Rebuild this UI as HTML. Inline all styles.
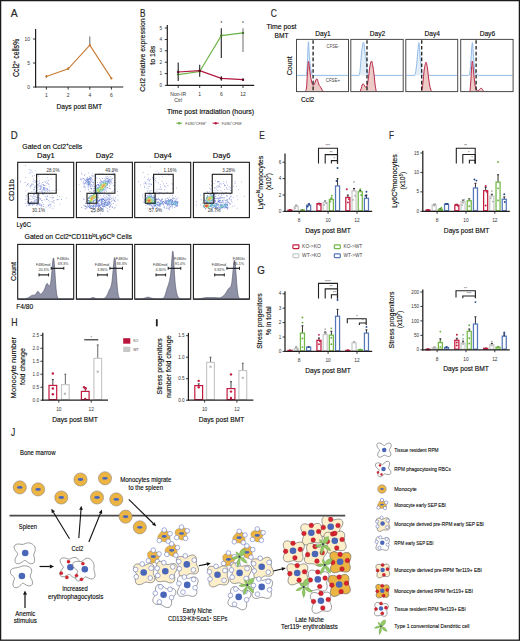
<!DOCTYPE html>
<html><head><meta charset="utf-8"><style>
html,body{margin:0;padding:0;background:#fff;}
svg{display:block;}
text{font-family:"Liberation Sans",sans-serif;}
</style></head><body>
<svg width="520" height="641" viewBox="0 0 520 641">
<rect x="0" y="0" width="520" height="641" fill="#fff"/>
<text x="10.80" y="16.90" font-size="11.0" textLength="6.90" lengthAdjust="spacingAndGlyphs" fill="#2a2a2a" stroke="#2a2a2a" stroke-width="0.206">A</text>
<line x1="35.60" y1="29.00" x2="35.60" y2="87.60" stroke="#231f20" stroke-width="1.2"/>
<line x1="35.00" y1="87.00" x2="123.20" y2="87.00" stroke="#231f20" stroke-width="1.2"/>
<line x1="33.00" y1="39.00" x2="35.60" y2="39.00" stroke="#231f20" stroke-width="0.9"/>
<text x="30.00" y="40.80" font-size="5.0" text-anchor="end" fill="#333">10</text>
<line x1="33.00" y1="63.00" x2="35.60" y2="63.00" stroke="#231f20" stroke-width="0.9"/>
<text x="30.00" y="64.80" font-size="5.0" text-anchor="end" fill="#333">5</text>
<line x1="33.00" y1="87.00" x2="35.60" y2="87.00" stroke="#231f20" stroke-width="0.9"/>
<text x="30.00" y="88.80" font-size="5.0" text-anchor="end" fill="#333">0</text>
<line x1="46.40" y1="87.00" x2="46.40" y2="89.60" stroke="#231f20" stroke-width="0.9"/>
<text x="46.40" y="97.30" font-size="5.0" text-anchor="middle" fill="#333">1</text>
<line x1="68.20" y1="87.00" x2="68.20" y2="89.60" stroke="#231f20" stroke-width="0.9"/>
<text x="68.20" y="97.30" font-size="5.0" text-anchor="middle" fill="#333">2</text>
<line x1="89.80" y1="87.00" x2="89.80" y2="89.60" stroke="#231f20" stroke-width="0.9"/>
<text x="89.80" y="97.30" font-size="5.0" text-anchor="middle" fill="#333">4</text>
<line x1="111.40" y1="87.00" x2="111.40" y2="89.60" stroke="#231f20" stroke-width="0.9"/>
<text x="111.40" y="97.30" font-size="5.0" text-anchor="middle" fill="#333">6</text>
<text x="79.30" y="108.70" font-size="8.0" text-anchor="middle" textLength="45.70" lengthAdjust="spacingAndGlyphs" stroke="#231f20" stroke-width="0.150">Days post BMT</text>
<text x="19.30" y="57.90" font-size="8.6" text-anchor="middle" textLength="38.40" lengthAdjust="spacingAndGlyphs" stroke="#231f20" stroke-width="0.161" transform="rotate(-90 19.30 57.90)">Ccl2<tspan font-size="5" dy="-2.8">+</tspan><tspan dy="2.8"> cells%</tspan></text>
<line x1="89.80" y1="36.50" x2="89.80" y2="45.20" stroke="#555" stroke-width="0.9"/>
<line x1="68.20" y1="67.20" x2="68.20" y2="70.00" stroke="#555" stroke-width="0.9"/>
<line x1="46.40" y1="75.00" x2="46.40" y2="77.80" stroke="#555" stroke-width="0.9"/>
<polyline points="46.4,76.4 68.2,68.8 89.8,45.2 111.4,78.4" fill="none" stroke="#c8782f" stroke-width="1.1"/>
<circle cx="46.40" cy="76.40" r="1.10" fill="#c8782f" stroke="none" stroke-width="1.0"/>
<circle cx="68.20" cy="68.80" r="1.10" fill="#c8782f" stroke="none" stroke-width="1.0"/>
<circle cx="89.80" cy="45.20" r="1.10" fill="#c8782f" stroke="none" stroke-width="1.0"/>
<circle cx="111.40" cy="78.40" r="1.10" fill="#c8782f" stroke="none" stroke-width="1.0"/>
<text x="140.10" y="16.90" font-size="11.0" textLength="5.50" lengthAdjust="spacingAndGlyphs" fill="#2a2a2a" stroke="#2a2a2a" stroke-width="0.206">B</text>
<line x1="167.30" y1="25.00" x2="167.30" y2="85.90" stroke="#231f20" stroke-width="1.2"/>
<line x1="166.70" y1="85.40" x2="254.20" y2="85.40" stroke="#231f20" stroke-width="1.2"/>
<line x1="164.80" y1="85.40" x2="167.30" y2="85.40" stroke="#231f20" stroke-width="0.9"/>
<text x="162.00" y="87.00" font-size="4.6" text-anchor="end" fill="#333">0</text>
<line x1="164.80" y1="73.60" x2="167.30" y2="73.60" stroke="#231f20" stroke-width="0.9"/>
<text x="162.00" y="75.20" font-size="4.6" text-anchor="end" fill="#333">1</text>
<line x1="164.80" y1="62.20" x2="167.30" y2="62.20" stroke="#231f20" stroke-width="0.9"/>
<text x="162.00" y="63.80" font-size="4.6" text-anchor="end" fill="#333">2</text>
<line x1="164.80" y1="50.80" x2="167.30" y2="50.80" stroke="#231f20" stroke-width="0.9"/>
<text x="162.00" y="52.40" font-size="4.6" text-anchor="end" fill="#333">3</text>
<line x1="164.80" y1="39.50" x2="167.30" y2="39.50" stroke="#231f20" stroke-width="0.9"/>
<text x="162.00" y="41.10" font-size="4.6" text-anchor="end" fill="#333">4</text>
<line x1="164.80" y1="28.00" x2="167.30" y2="28.00" stroke="#231f20" stroke-width="0.9"/>
<text x="162.00" y="29.60" font-size="4.6" text-anchor="end" fill="#333">5</text>
<line x1="178.20" y1="85.40" x2="178.20" y2="88.00" stroke="#231f20" stroke-width="0.9"/>
<line x1="199.70" y1="85.40" x2="199.70" y2="88.00" stroke="#231f20" stroke-width="0.9"/>
<line x1="221.30" y1="85.40" x2="221.30" y2="88.00" stroke="#231f20" stroke-width="0.9"/>
<line x1="243.00" y1="85.40" x2="243.00" y2="88.00" stroke="#231f20" stroke-width="0.9"/>
<text x="178.20" y="95.60" font-size="5.0" text-anchor="middle" fill="#333">Non-IR</text>
<text x="178.20" y="102.00" font-size="5.0" text-anchor="middle" fill="#333">Ctrl</text>
<text x="199.70" y="95.60" font-size="5.0" text-anchor="middle" fill="#333">1</text>
<text x="221.30" y="95.60" font-size="5.0" text-anchor="middle" fill="#333">6</text>
<text x="243.00" y="95.60" font-size="5.0" text-anchor="middle" fill="#333">12</text>
<text x="210.60" y="113.60" font-size="8.0" text-anchor="middle" textLength="87.20" lengthAdjust="spacingAndGlyphs" stroke="#231f20" stroke-width="0.150">Time post irradiation (hours)</text>
<text x="144.60" y="55.10" font-size="8.0" text-anchor="middle" textLength="73.40" lengthAdjust="spacingAndGlyphs" stroke="#231f20" stroke-width="0.150" transform="rotate(-90 144.60 55.10)">Ccl2 relative expression</text>
<text x="155.20" y="55.20" font-size="8.0" text-anchor="middle" textLength="18.90" lengthAdjust="spacingAndGlyphs" stroke="#231f20" stroke-width="0.150" transform="rotate(-90 155.20 55.20)">to 18s</text>
<line x1="178.20" y1="62.50" x2="178.20" y2="81.10" stroke="#222" stroke-width="1.1"/>
<line x1="199.70" y1="64.70" x2="199.70" y2="76.70" stroke="#222" stroke-width="1.1"/>
<line x1="221.30" y1="28.20" x2="221.30" y2="57.90" stroke="#222" stroke-width="1.1"/>
<line x1="243.00" y1="28.20" x2="243.00" y2="52.10" stroke="#7a7a7a" stroke-width="1.1"/>
<line x1="221.30" y1="76.20" x2="221.30" y2="80.80" stroke="#222" stroke-width="1.1"/>
<line x1="243.00" y1="78.60" x2="243.00" y2="80.90" stroke="#222" stroke-width="1.1"/>
<polyline points="178.2,74.6 199.7,71.6 221.3,35.6 243.0,32.9" fill="none" stroke="#6ab344" stroke-width="1.1"/>
<polyline points="178.2,72.0 199.7,70.7 221.3,78.4 243.0,79.7" fill="none" stroke="#b3173f" stroke-width="1.2"/>
<circle cx="178.20" cy="74.60" r="1.10" fill="#3a6a22" stroke="none" stroke-width="1.0"/>
<circle cx="199.70" cy="71.60" r="1.10" fill="#3a6a22" stroke="none" stroke-width="1.0"/>
<circle cx="221.30" cy="35.60" r="1.10" fill="#3a6a22" stroke="none" stroke-width="1.0"/>
<circle cx="243.00" cy="32.90" r="1.10" fill="#3a6a22" stroke="none" stroke-width="1.0"/>
<circle cx="178.20" cy="72.00" r="1.20" fill="#5a0a1f" stroke="none" stroke-width="1.0"/>
<circle cx="199.70" cy="70.70" r="1.20" fill="#5a0a1f" stroke="none" stroke-width="1.0"/>
<circle cx="221.30" cy="78.40" r="1.20" fill="#5a0a1f" stroke="none" stroke-width="1.0"/>
<circle cx="243.00" cy="79.70" r="1.20" fill="#5a0a1f" stroke="none" stroke-width="1.0"/>
<text x="221.30" y="25.20" font-size="4.5" text-anchor="middle">*</text>
<text x="243.00" y="25.20" font-size="4.5" text-anchor="middle">*</text>
<line x1="176.30" y1="123.20" x2="182.10" y2="123.20" stroke="#6ab344" stroke-width="1.0"/>
<circle cx="179.20" cy="123.20" r="1.20" fill="#6ab344" stroke="none" stroke-width="1.0"/>
<text x="185.30" y="124.70" font-size="4.0" textLength="21.40" lengthAdjust="spacingAndGlyphs" fill="#444">F4/80<tspan font-size="2.6" dy="-1.6">+</tspan><tspan dy="1.6">CFSE</tspan><tspan font-size="2.6" dy="-1.6">+</tspan></text>
<line x1="212.60" y1="123.20" x2="218.80" y2="123.20" stroke="#b3173f" stroke-width="1.0"/>
<circle cx="215.70" cy="123.20" r="1.20" fill="#b3173f" stroke="none" stroke-width="1.0"/>
<text x="221.80" y="124.70" font-size="4.0" textLength="20.50" lengthAdjust="spacingAndGlyphs" fill="#444">F4/80<tspan font-size="2.6" dy="-1.6">+</tspan><tspan dy="1.6">CFSE</tspan><tspan font-size="2.6" dy="-1.6">-</tspan></text>
<text x="270.80" y="16.90" font-size="11.0" textLength="6.10" lengthAdjust="spacingAndGlyphs" fill="#2a2a2a" stroke="#2a2a2a" stroke-width="0.206">C</text>
<text x="281.50" y="29.20" font-size="7.4" text-anchor="middle" textLength="30.00" lengthAdjust="spacingAndGlyphs" stroke="#231f20" stroke-width="0.139">Time post</text>
<text x="281.50" y="37.70" font-size="7.4" text-anchor="middle" textLength="14.00" lengthAdjust="spacingAndGlyphs" stroke="#231f20" stroke-width="0.139">BMT</text>
<text x="323.00" y="35.60" font-size="7.3" text-anchor="middle" textLength="15.40" lengthAdjust="spacingAndGlyphs" stroke="#231f20" stroke-width="0.137">Day1</text>
<path d="M305.60,75.40 C305.77,75.20 306.28,76.77 306.60,74.20 C306.92,71.63 307.20,65.40 307.50,60.00 C307.80,54.60 308.10,42.63 308.40,41.80 C308.70,40.97 309.00,51.13 309.30,55.00 C309.60,58.87 309.88,62.33 310.20,65.00 C310.52,67.67 310.87,69.40 311.20,71.00 C311.53,72.60 311.87,73.87 312.20,74.60 C312.53,75.33 313.03,75.27 313.20,75.40 Z" fill="#e3edf8" stroke="none" stroke-width="1.0"/>
<path d="M297.10,75.4 L305.60,75.40 C305.77,75.20 306.28,76.77 306.60,74.20 C306.92,71.63 307.20,65.40 307.50,60.00 C307.80,54.60 308.10,42.63 308.40,41.80 C308.70,40.97 309.00,51.13 309.30,55.00 C309.60,58.87 309.88,62.33 310.20,65.00 C310.52,67.67 310.87,69.40 311.20,71.00 C311.53,72.60 311.87,73.87 312.20,74.60 C312.53,75.33 313.03,75.27 313.20,75.40 L347.90,75.4" fill="none" stroke="#88b6e4" stroke-width="0.9"/>
<path d="M305.40,91.20 C305.58,90.67 306.18,90.70 306.50,88.00 C306.82,85.30 306.98,79.42 307.30,75.00 C307.62,70.58 308.03,62.67 308.40,61.50 C308.77,60.33 309.15,65.58 309.50,68.00 C309.85,70.42 310.17,73.83 310.50,76.00 C310.83,78.17 311.17,79.58 311.50,81.00 C311.83,82.42 312.20,83.78 312.50,84.50 C312.80,85.22 312.97,85.38 313.30,85.30 C313.63,85.22 314.13,84.72 314.50,84.00 C314.87,83.28 315.17,81.83 315.50,81.00 C315.83,80.17 316.20,79.30 316.50,79.00 C316.80,78.70 317.00,78.62 317.30,79.20 C317.60,79.78 317.97,81.45 318.30,82.50 C318.63,83.55 318.93,84.78 319.30,85.50 C319.67,86.22 320.13,86.22 320.50,86.80 C320.87,87.38 321.17,88.37 321.50,89.00 C321.83,89.63 322.15,90.23 322.50,90.60 C322.85,90.97 323.42,91.10 323.60,91.20 Z" fill="#eccac6" stroke="none" stroke-width="1.0"/>
<path d="M305.40,91.20 C305.58,90.67 306.18,90.70 306.50,88.00 C306.82,85.30 306.98,79.42 307.30,75.00 C307.62,70.58 308.03,62.67 308.40,61.50 C308.77,60.33 309.15,65.58 309.50,68.00 C309.85,70.42 310.17,73.83 310.50,76.00 C310.83,78.17 311.17,79.58 311.50,81.00 C311.83,82.42 312.20,83.78 312.50,84.50 C312.80,85.22 312.97,85.38 313.30,85.30 C313.63,85.22 314.13,84.72 314.50,84.00 C314.87,83.28 315.17,81.83 315.50,81.00 C315.83,80.17 316.20,79.30 316.50,79.00 C316.80,78.70 317.00,78.62 317.30,79.20 C317.60,79.78 317.97,81.45 318.30,82.50 C318.63,83.55 318.93,84.78 319.30,85.50 C319.67,86.22 320.13,86.22 320.50,86.80 C320.87,87.38 321.17,88.37 321.50,89.00 C321.83,89.63 322.15,90.23 322.50,90.60 C322.85,90.97 323.42,91.10 323.60,91.20" fill="none" stroke="#b8284a" stroke-width="1.0"/>
<line x1="313.10" y1="40.20" x2="313.10" y2="91.10" stroke="#1e1e1e" stroke-width="1.3" stroke-dasharray="3.6 2.2"/>
<rect x="296.50" y="39.40" width="52.00" height="52.20" fill="none" stroke="#4a4a4a" stroke-width="1.0"/>
<text x="377.50" y="35.60" font-size="7.3" text-anchor="middle" textLength="15.40" lengthAdjust="spacingAndGlyphs" stroke="#231f20" stroke-width="0.137">Day2</text>
<path d="M358.90,75.40 C359.03,75.00 359.42,74.73 359.70,73.00 C359.98,71.27 360.28,68.50 360.60,65.00 C360.92,61.50 361.15,55.78 361.60,52.00 C362.05,48.22 362.85,43.30 363.30,42.30 C363.75,41.30 364.02,44.22 364.30,46.00 C364.58,47.78 364.75,51.25 365.00,53.00 C365.25,54.75 365.53,54.50 365.80,56.50 C366.07,58.50 366.35,62.25 366.60,65.00 C366.85,67.75 367.05,71.27 367.30,73.00 C367.55,74.73 367.97,75.00 368.10,75.40 Z" fill="#e3edf8" stroke="none" stroke-width="1.0"/>
<path d="M351.40,75.4 L358.90,75.40 C359.03,75.00 359.42,74.73 359.70,73.00 C359.98,71.27 360.28,68.50 360.60,65.00 C360.92,61.50 361.15,55.78 361.60,52.00 C362.05,48.22 362.85,43.30 363.30,42.30 C363.75,41.30 364.02,44.22 364.30,46.00 C364.58,47.78 364.75,51.25 365.00,53.00 C365.25,54.75 365.53,54.50 365.80,56.50 C366.07,58.50 366.35,62.25 366.60,65.00 C366.85,67.75 367.05,71.27 367.30,73.00 C367.55,74.73 367.97,75.00 368.10,75.40 L402.60,75.4" fill="none" stroke="#88b6e4" stroke-width="0.9"/>
<path d="M360.20,91.20 C360.37,90.75 360.87,89.53 361.20,88.50 C361.53,87.47 361.88,85.78 362.20,85.00 C362.52,84.22 362.75,83.77 363.10,83.80 C363.45,83.83 363.92,84.67 364.30,85.20 C364.68,85.73 365.07,86.67 365.40,87.00 C365.73,87.33 365.95,87.70 366.30,87.20 C366.65,86.70 367.10,85.87 367.50,84.00 C367.90,82.13 368.32,78.83 368.70,76.00 C369.08,73.17 369.33,69.50 369.80,67.00 C370.27,64.50 371.00,61.17 371.50,61.00 C372.00,60.83 372.38,63.83 372.80,66.00 C373.22,68.17 373.63,71.00 374.00,74.00 C374.37,77.00 374.63,81.13 375.00,84.00 C375.37,86.87 376.00,90.00 376.20,91.20 Z" fill="#eccac6" stroke="none" stroke-width="1.0"/>
<path d="M360.20,91.20 C360.37,90.75 360.87,89.53 361.20,88.50 C361.53,87.47 361.88,85.78 362.20,85.00 C362.52,84.22 362.75,83.77 363.10,83.80 C363.45,83.83 363.92,84.67 364.30,85.20 C364.68,85.73 365.07,86.67 365.40,87.00 C365.73,87.33 365.95,87.70 366.30,87.20 C366.65,86.70 367.10,85.87 367.50,84.00 C367.90,82.13 368.32,78.83 368.70,76.00 C369.08,73.17 369.33,69.50 369.80,67.00 C370.27,64.50 371.00,61.17 371.50,61.00 C372.00,60.83 372.38,63.83 372.80,66.00 C373.22,68.17 373.63,71.00 374.00,74.00 C374.37,77.00 374.63,81.13 375.00,84.00 C375.37,86.87 376.00,90.00 376.20,91.20" fill="none" stroke="#b8284a" stroke-width="1.0"/>
<line x1="367.00" y1="40.20" x2="367.00" y2="91.10" stroke="#1e1e1e" stroke-width="1.3" stroke-dasharray="3.6 2.2"/>
<rect x="350.80" y="39.40" width="52.40" height="52.20" fill="none" stroke="#4a4a4a" stroke-width="1.0"/>
<text x="432.25" y="35.60" font-size="7.3" text-anchor="middle" textLength="15.40" lengthAdjust="spacingAndGlyphs" stroke="#231f20" stroke-width="0.137">Day4</text>
<path d="M414.60,75.40 C414.75,75.00 415.18,74.57 415.50,73.00 C415.82,71.43 416.17,69.00 416.50,66.00 C416.83,63.00 417.12,58.88 417.50,55.00 C417.88,51.12 418.43,43.53 418.80,42.70 C419.17,41.87 419.43,47.12 419.70,50.00 C419.97,52.88 420.18,57.33 420.40,60.00 C420.62,62.67 420.80,63.83 421.00,66.00 C421.20,68.17 421.38,71.43 421.60,73.00 C421.82,74.57 422.18,75.00 422.30,75.40 Z" fill="#e3edf8" stroke="none" stroke-width="1.0"/>
<path d="M406.40,75.4 L414.60,75.40 C414.75,75.00 415.18,74.57 415.50,73.00 C415.82,71.43 416.17,69.00 416.50,66.00 C416.83,63.00 417.12,58.88 417.50,55.00 C417.88,51.12 418.43,43.53 418.80,42.70 C419.17,41.87 419.43,47.12 419.70,50.00 C419.97,52.88 420.18,57.33 420.40,60.00 C420.62,62.67 420.80,63.83 421.00,66.00 C421.20,68.17 421.38,71.43 421.60,73.00 C421.82,74.57 422.18,75.00 422.30,75.40 L457.10,75.4" fill="none" stroke="#88b6e4" stroke-width="0.9"/>
<path d="M421.40,91.20 C421.57,90.50 422.08,89.03 422.40,87.00 C422.72,84.97 422.98,82.00 423.30,79.00 C423.62,76.00 423.85,71.80 424.30,69.00 C424.75,66.20 425.48,62.37 426.00,62.20 C426.52,62.03 426.97,65.37 427.40,68.00 C427.83,70.63 428.20,75.00 428.60,78.00 C429.00,81.00 429.35,83.80 429.80,86.00 C430.25,88.20 431.05,90.33 431.30,91.20 Z" fill="#eccac6" stroke="none" stroke-width="1.0"/>
<path d="M421.40,91.20 C421.57,90.50 422.08,89.03 422.40,87.00 C422.72,84.97 422.98,82.00 423.30,79.00 C423.62,76.00 423.85,71.80 424.30,69.00 C424.75,66.20 425.48,62.37 426.00,62.20 C426.52,62.03 426.97,65.37 427.40,68.00 C427.83,70.63 428.20,75.00 428.60,78.00 C429.00,81.00 429.35,83.80 429.80,86.00 C430.25,88.20 431.05,90.33 431.30,91.20" fill="none" stroke="#b8284a" stroke-width="1.0"/>
<line x1="421.70" y1="40.20" x2="421.70" y2="91.10" stroke="#1e1e1e" stroke-width="1.3" stroke-dasharray="3.6 2.2"/>
<rect x="405.80" y="39.40" width="51.90" height="52.20" fill="none" stroke="#4a4a4a" stroke-width="1.0"/>
<text x="487.40" y="35.60" font-size="7.3" text-anchor="middle" textLength="15.40" lengthAdjust="spacingAndGlyphs" stroke="#231f20" stroke-width="0.137">Day6</text>
<path d="M468.90,75.40 C469.05,75.00 469.48,75.23 469.80,73.00 C470.12,70.77 470.38,67.05 470.80,62.00 C471.22,56.95 471.87,43.87 472.30,42.70 C472.73,41.53 473.07,51.12 473.40,55.00 C473.73,58.88 474.00,63.17 474.30,66.00 C474.60,68.83 474.88,70.57 475.20,72.00 C475.52,73.43 475.80,74.23 476.20,74.60 C476.60,74.97 477.20,74.07 477.60,74.20 C478.00,74.33 478.43,75.20 478.60,75.40 Z" fill="#e3edf8" stroke="none" stroke-width="1.0"/>
<path d="M461.30,75.4 L468.90,75.40 C469.05,75.00 469.48,75.23 469.80,73.00 C470.12,70.77 470.38,67.05 470.80,62.00 C471.22,56.95 471.87,43.87 472.30,42.70 C472.73,41.53 473.07,51.12 473.40,55.00 C473.73,58.88 474.00,63.17 474.30,66.00 C474.60,68.83 474.88,70.57 475.20,72.00 C475.52,73.43 475.80,74.23 476.20,74.60 C476.60,74.97 477.20,74.07 477.60,74.20 C478.00,74.33 478.43,75.20 478.60,75.40 L512.50,75.4" fill="none" stroke="#88b6e4" stroke-width="0.9"/>
<path d="M470.00,91.20 C470.15,89.33 470.63,83.87 470.90,80.00 C471.17,76.13 471.37,71.17 471.60,68.00 C471.83,64.83 472.03,61.00 472.30,61.00 C472.57,61.00 472.85,64.83 473.20,68.00 C473.55,71.17 474.02,76.75 474.40,80.00 C474.78,83.25 475.10,85.77 475.50,87.50 C475.90,89.23 476.33,89.88 476.80,90.40 C477.27,90.92 477.80,90.80 478.30,90.60 C478.80,90.40 479.32,89.62 479.80,89.20 C480.28,88.78 480.77,88.07 481.20,88.10 C481.63,88.13 482.00,88.88 482.40,89.40 C482.80,89.92 483.40,90.90 483.60,91.20 Z" fill="#eccac6" stroke="none" stroke-width="1.0"/>
<path d="M470.00,91.20 C470.15,89.33 470.63,83.87 470.90,80.00 C471.17,76.13 471.37,71.17 471.60,68.00 C471.83,64.83 472.03,61.00 472.30,61.00 C472.57,61.00 472.85,64.83 473.20,68.00 C473.55,71.17 474.02,76.75 474.40,80.00 C474.78,83.25 475.10,85.77 475.50,87.50 C475.90,89.23 476.33,89.88 476.80,90.40 C477.27,90.92 477.80,90.80 478.30,90.60 C478.80,90.40 479.32,89.62 479.80,89.20 C480.28,88.78 480.77,88.07 481.20,88.10 C481.63,88.13 482.00,88.88 482.40,89.40 C482.80,89.92 483.40,90.90 483.60,91.20" fill="none" stroke="#b8284a" stroke-width="1.0"/>
<line x1="476.10" y1="40.20" x2="476.10" y2="91.10" stroke="#1e1e1e" stroke-width="1.3" stroke-dasharray="3.6 2.2"/>
<rect x="460.70" y="39.40" width="52.40" height="52.20" fill="none" stroke="#4a4a4a" stroke-width="1.0"/>
<text x="332.90" y="48.10" font-size="4.5" text-anchor="middle" textLength="12.60" lengthAdjust="spacingAndGlyphs" fill="#444">CFSE-</text>
<text x="332.90" y="81.90" font-size="4.5" text-anchor="middle" textLength="14.20" lengthAdjust="spacingAndGlyphs" fill="#444">CFSE+</text>
<text x="292.40" y="65.80" font-size="7.3" text-anchor="middle" textLength="19.00" lengthAdjust="spacingAndGlyphs" stroke="#231f20" stroke-width="0.137" transform="rotate(-90 292.40 65.80)">Count</text>
<text x="301.10" y="102.20" font-size="7.3" textLength="13.20" lengthAdjust="spacingAndGlyphs" stroke="#231f20" stroke-width="0.137">Ccl2</text>
<text x="10.80" y="138.80" font-size="11.0" textLength="6.90" lengthAdjust="spacingAndGlyphs" fill="#2a2a2a" stroke="#2a2a2a" stroke-width="0.206">D</text>
<text x="22.30" y="148.90" font-size="7.4" textLength="60.00" lengthAdjust="spacingAndGlyphs" stroke="#231f20" stroke-width="0.139">Gated on Ccl2<tspan font-size="4.5" dy="-2.6">+</tspan><tspan dy="2.6">cells</tspan></text>
<text x="45.90" y="158.00" font-size="7.6" text-anchor="middle" textLength="17.60" lengthAdjust="spacingAndGlyphs" stroke="#231f20" stroke-width="0.142">Day1</text>
<g opacity="0.8"><path fill="#7482d6" d="M47.9 180.1h.8v.8h-.8zM32.0 175.6h.8v.8h-.8zM48.8 186.4h.8v.8h-.8zM51.6 189.9h.8v.8h-.8zM50.7 178.4h.8v.8h-.8zM53.7 190.3h.8v.8h-.8zM45.8 193.5h.8v.8h-.8zM47.0 177.4h.8v.8h-.8zM25.4 199.1h.8v.8h-.8zM31.5 191.2h.8v.8h-.8zM53.7 205.7h.8v.8h-.8zM45.7 206.7h.8v.8h-.8zM24.7 202.9h.8v.8h-.8zM34.4 175.2h.8v.8h-.8zM25.2 165.2h.8v.8h-.8zM25.5 190.5h.8v.8h-.8zM24.7 182.1h.8v.8h-.8zM25.4 177.2h.8v.8h-.8zM35.5 170.4h.8v.8h-.8zM59.7 203.7h.8v.8h-.8zM51.6 192.7h.8v.8h-.8zM48.9 193.5h.8v.8h-.8zM43.8 199.4h.8v.8h-.8zM66.3 197.7h.8v.8h-.8zM56.6 189.5h.8v.8h-.8zM52.5 208.3h.8v.8h-.8zM51.8 194.7h.8v.8h-.8zM57.2 194.9h.8v.8h-.8zM49.7 207.5h.8v.8h-.8zM61.0 199.1h.8v.8h-.8zM49.8 197.3h.8v.8h-.8zM59.0 196.2h.8v.8h-.8zM33.0 178.8h.8v.8h-.8zM42.1 182.0h.8v.8h-.8zM45.7 180.6h.8v.8h-.8zM48.5 184.1h.8v.8h-.8zM30.1 192.9h.8v.8h-.8zM25.7 196.6h.8v.8h-.8zM31.6 198.8h.8v.8h-.8zM30.5 195.3h.8v.8h-.8zM29.6 199.3h.8v.8h-.8zM49.3 201.4h.8v.8h-.8zM40.5 207.6h.8v.8h-.8zM26.0 205.5h.8v.8h-.8zM20.3 181.4h.8v.8h-.8zM29.4 172.8h.8v.8h-.8zM37.8 174.5h.8v.8h-.8zM29.9 187.4h.8v.8h-.8zM39.1 179.7h.8v.8h-.8zM32.9 181.3h.8v.8h-.8zM31.7 172.2h.8v.8h-.8zM29.1 168.9h.8v.8h-.8zM38.3 175.7h.8v.8h-.8zM30.6 170.1h.8v.8h-.8zM20.3 180.7h.8v.8h-.8zM44.7 196.0h.8v.8h-.8zM44.3 192.1h.8v.8h-.8zM38.9 191.4h.8v.8h-.8zM43.6 181.5h.8v.8h-.8zM49.5 190.7h.8v.8h-.8zM27.9 182.9h.8v.8h-.8zM46.5 183.2h.8v.8h-.8zM46.9 182.2h.8v.8h-.8zM44.9 181.7h.8v.8h-.8zM43.3 194.0h.8v.8h-.8zM28.4 192.7h.8v.8h-.8zM27.2 200.9h.8v.8h-.8zM25.9 194.9h.8v.8h-.8zM43.1 206.0h.8v.8h-.8zM50.4 205.6h.8v.8h-.8zM34.3 179.9h.8v.8h-.8zM26.1 185.4h.8v.8h-.8zM37.6 181.0h.8v.8h-.8zM30.3 172.5h.8v.8h-.8zM47.2 196.0h.8v.8h-.8zM51.4 201.4h.8v.8h-.8zM47.4 195.6h.8v.8h-.8zM53.6 200.2h.8v.8h-.8zM51.9 197.3h.8v.8h-.8zM56.5 199.5h.8v.8h-.8zM53.8 202.8h.8v.8h-.8zM51.8 198.4h.8v.8h-.8zM57.0 199.1h.8v.8h-.8zM53.1 197.1h.8v.8h-.8zM42.1 201.9h.8v.8h-.8zM58.4 199.0h.8v.8h-.8zM39.3 182.9h.8v.8h-.8zM44.8 191.2h.8v.8h-.8zM48.7 189.6h.8v.8h-.8zM39.2 181.7h.8v.8h-.8zM31.6 182.9h.8v.8h-.8zM34.9 192.3h.8v.8h-.8zM37.1 190.0h.8v.8h-.8zM47.8 183.0h.8v.8h-.8zM47.1 191.3h.8v.8h-.8zM35.9 194.6h.8v.8h-.8zM38.9 194.7h.8v.8h-.8zM26.8 202.9h.8v.8h-.8zM38.9 194.4h.8v.8h-.8zM34.1 198.4h.8v.8h-.8zM26.8 201.7h.8v.8h-.8zM29.4 198.0h.8v.8h-.8zM33.0 197.9h.8v.8h-.8zM33.0 193.6h.8v.8h-.8zM27.9 195.9h.8v.8h-.8zM28.2 195.8h.8v.8h-.8zM28.3 197.6h.8v.8h-.8zM34.7 196.4h.8v.8h-.8zM43.1 204.2h.8v.8h-.8zM47.8 204.6h.8v.8h-.8zM47.9 205.5h.8v.8h-.8zM27.1 184.1h.8v.8h-.8zM34.7 182.1h.8v.8h-.8zM30.4 196.3h.8v.8h-.8zM32.2 196.6h.8v.8h-.8zM29.6 186.2h.8v.8h-.8zM36.4 181.1h.8v.8h-.8zM27.6 184.4h.8v.8h-.8zM35.1 180.7h.8v.8h-.8zM48.0 200.0h.8v.8h-.8zM39.2 194.7h.8v.8h-.8zM53.3 200.4h.8v.8h-.8zM41.7 200.0h.8v.8h-.8zM50.3 204.1h.8v.8h-.8zM41.2 200.0h.8v.8h-.8zM33.2 189.0h.8v.8h-.8zM38.2 193.2h.8v.8h-.8zM41.0 183.7h.8v.8h-.8zM44.6 185.1h.8v.8h-.8zM48.7 190.4h.8v.8h-.8zM43.3 184.4h.8v.8h-.8zM35.9 189.9h.8v.8h-.8zM33.7 190.8h.8v.8h-.8zM34.6 185.4h.8v.8h-.8zM37.6 188.8h.8v.8h-.8zM33.0 184.3h.8v.8h-.8zM33.7 194.0h.8v.8h-.8zM34.8 195.9h.8v.8h-.8zM31.3 201.1h.8v.8h-.8zM27.1 194.2h.8v.8h-.8zM40.0 198.2h.8v.8h-.8zM49.0 203.8h.8v.8h-.8zM39.5 205.2h.8v.8h-.8zM41.5 200.1h.8v.8h-.8zM30.8 185.4h.8v.8h-.8zM30.2 185.1h.8v.8h-.8zM42.7 184.1h.8v.8h-.8zM36.4 186.6h.8v.8h-.8zM33.1 194.7h.8v.8h-.8zM47.0 196.3h.8v.8h-.8zM41.9 193.6h.8v.8h-.8zM45.9 199.1h.8v.8h-.8zM52.4 201.8h.8v.8h-.8zM40.2 188.8h.8v.8h-.8zM37.1 184.5h.8v.8h-.8zM44.1 184.9h.8v.8h-.8zM37.5 187.3h.8v.8h-.8zM31.4 184.1h.8v.8h-.8zM36.7 184.1h.8v.8h-.8zM34.2 186.8h.8v.8h-.8zM47.0 188.5h.8v.8h-.8zM46.7 187.9h.8v.8h-.8zM39.3 189.2h.8v.8h-.8zM42.9 185.2h.8v.8h-.8zM38.1 200.6h.8v.8h-.8zM33.4 195.9h.8v.8h-.8zM34.3 193.9h.8v.8h-.8zM35.3 190.7h.8v.8h-.8zM32.1 205.0h.8v.8h-.8zM41.4 204.7h.8v.8h-.8zM39.6 202.9h.8v.8h-.8zM48.6 205.2h.8v.8h-.8zM41.5 204.3h.8v.8h-.8zM35.8 205.2h.8v.8h-.8zM31.6 184.6h.8v.8h-.8zM33.9 187.8h.8v.8h-.8zM36.8 184.2h.8v.8h-.8zM42.7 193.4h.8v.8h-.8zM52.8 201.8h.8v.8h-.8zM47.0 199.0h.8v.8h-.8zM46.1 197.8h.8v.8h-.8zM39.8 199.1h.8v.8h-.8zM46.5 198.7h.8v.8h-.8zM46.7 188.8h.8v.8h-.8zM38.4 183.6h.8v.8h-.8zM34.2 189.1h.8v.8h-.8zM40.6 190.8h.8v.8h-.8zM42.1 191.6h.8v.8h-.8zM35.9 187.1h.8v.8h-.8zM38.7 186.2h.8v.8h-.8zM41.2 190.7h.8v.8h-.8zM39.8 189.2h.8v.8h-.8zM33.7 200.9h.8v.8h-.8zM36.9 196.0h.8v.8h-.8zM36.0 199.1h.8v.8h-.8zM38.4 200.3h.8v.8h-.8zM41.1 205.4h.8v.8h-.8zM39.4 204.3h.8v.8h-.8zM35.3 202.5h.8v.8h-.8zM45.7 197.7h.8v.8h-.8zM38.8 198.5h.8v.8h-.8zM41.5 206.0h.8v.8h-.8zM28.8 205.3h.8v.8h-.8zM27.8 204.9h.8v.8h-.8zM41.7 192.2h.8v.8h-.8zM46.3 189.8h.8v.8h-.8zM38.2 184.8h.8v.8h-.8zM40.8 185.7h.8v.8h-.8zM41.4 190.6h.8v.8h-.8zM39.8 188.2h.8v.8h-.8zM42.4 191.8h.8v.8h-.8zM34.2 200.5h.8v.8h-.8zM38.7 197.1h.8v.8h-.8zM31.8 201.8h.8v.8h-.8zM37.2 200.8h.8v.8h-.8zM33.7 200.8h.8v.8h-.8zM32.5 204.4h.8v.8h-.8zM33.9 204.0h.8v.8h-.8zM34.2 187.3h.8v.8h-.8zM40.6 185.2h.8v.8h-.8zM35.3 186.4h.8v.8h-.8zM46.3 188.1h.8v.8h-.8zM40.4 185.6h.8v.8h-.8zM36.8 185.4h.8v.8h-.8zM44.0 187.2h.8v.8h-.8zM40.6 187.9h.8v.8h-.8zM45.3 189.8h.8v.8h-.8zM39.4 185.2h.8v.8h-.8zM40.8 187.6h.8v.8h-.8zM33.4 203.4h.8v.8h-.8zM36.9 197.1h.8v.8h-.8zM35.1 199.4h.8v.8h-.8zM38.8 197.4h.8v.8h-.8zM31.1 201.6h.8v.8h-.8zM33.5 201.6h.8v.8h-.8zM36.2 197.0h.8v.8h-.8zM35.9 203.3h.8v.8h-.8zM37.3 204.8h.8v.8h-.8zM37.3 204.8h.8v.8h-.8zM33.3 203.8h.8v.8h-.8zM40.5 204.6h.8v.8h-.8zM38.0 202.8h.8v.8h-.8zM37.2 197.0h.8v.8h-.8zM35.7 199.8h.8v.8h-.8zM28.0 202.2h.8v.8h-.8zM47.1 189.6h.8v.8h-.8zM44.3 186.9h.8v.8h-.8zM43.1 189.8h.8v.8h-.8zM44.4 187.5h.8v.8h-.8zM36.5 198.5h.8v.8h-.8zM37.4 197.0h.8v.8h-.8zM37.2 197.4h.8v.8h-.8zM34.0 202.6h.8v.8h-.8zM36.4 200.6h.8v.8h-.8zM32.3 203.9h.8v.8h-.8zM37.7 204.3h.8v.8h-.8zM41.6 186.8h.8v.8h-.8zM37.8 198.9h.8v.8h-.8zM43.0 187.1h.8v.8h-.8zM39.8 186.3h.8v.8h-.8zM42.7 188.9h.8v.8h-.8zM42.3 189.4h.8v.8h-.8zM40.4 186.6h.8v.8h-.8zM34.5 200.2h.8v.8h-.8zM37.5 203.7h.8v.8h-.8zM32.6 202.7h.8v.8h-.8zM30.5 202.0h.8v.8h-.8zM37.0 204.2h.8v.8h-.8zM36.9 202.1h.8v.8h-.8zM28.7 204.1h.8v.8h-.8z"/><path fill="#4a62cc" d="M44.0 189.4h.8v.8h-.8zM44.1 189.6h.8v.8h-.8zM36.4 203.6h.8v.8h-.8zM37.7 203.2h.8v.8h-.8zM38.9 203.6h.8v.8h-.8zM35.6 201.5h.8v.8h-.8zM29.1 202.6h.8v.8h-.8zM43.0 188.8h.8v.8h-.8zM44.7 188.5h.8v.8h-.8zM29.3 203.0h.8v.8h-.8zM29.2 204.1h.8v.8h-.8zM29.2 203.2h.8v.8h-.8zM43.5 188.0h.8v.8h-.8zM43.5 188.3h.8v.8h-.8zM30.6 203.5h.8v.8h-.8zM31.6 203.5h.8v.8h-.8zM29.2 203.7h.8v.8h-.8zM30.4 204.4h.8v.8h-.8zM30.1 203.1h.8v.8h-.8zM43.2 187.8h.8v.8h-.8zM28.7 203.5h.8v.8h-.8zM30.3 202.5h.8v.8h-.8z"/></g>
<rect x="36.60" y="174.30" width="19.60" height="18.90" fill="none" stroke="#1a1a1a" stroke-width="1.1"/>
<rect x="28.30" y="193.30" width="9.80" height="9.90" fill="none" stroke="#1a1a1a" stroke-width="1.1"/>
<rect x="17.70" y="162.30" width="56.00" height="55.30" fill="none" stroke="#1a1a1a" stroke-width="1.1"/>
<text x="53.00" y="172.00" font-size="5.0" text-anchor="middle" textLength="13.00" lengthAdjust="spacingAndGlyphs" fill="#333">28.0%</text>
<text x="38.50" y="212.00" font-size="5.0" text-anchor="middle" textLength="13.00" lengthAdjust="spacingAndGlyphs" fill="#333">30.1%</text>
<text x="104.60" y="158.00" font-size="7.6" text-anchor="middle" textLength="17.60" lengthAdjust="spacingAndGlyphs" stroke="#231f20" stroke-width="0.142">Day2</text>
<g opacity="0.8"><path fill="#7482d6" d="M115.5 169.5h.8v.8h-.8zM114.0 182.1h.8v.8h-.8zM109.1 185.6h.8v.8h-.8zM94.4 179.7h.8v.8h-.8zM92.3 172.7h.8v.8h-.8zM78.6 184.5h.8v.8h-.8zM88.3 172.5h.8v.8h-.8zM84.4 189.9h.8v.8h-.8zM79.9 191.2h.8v.8h-.8zM97.1 181.9h.8v.8h-.8zM110.5 193.6h.8v.8h-.8zM117.5 199.6h.8v.8h-.8zM100.1 213.6h.8v.8h-.8zM95.3 209.8h.8v.8h-.8zM115.9 204.8h.8v.8h-.8zM112.9 203.1h.8v.8h-.8zM99.1 173.2h.8v.8h-.8zM102.3 173.2h.8v.8h-.8zM117.0 191.2h.8v.8h-.8zM117.4 195.0h.8v.8h-.8zM81.3 207.1h.8v.8h-.8zM104.2 192.2h.8v.8h-.8zM99.0 178.3h.8v.8h-.8zM111.7 174.5h.8v.8h-.8zM102.1 177.9h.8v.8h-.8zM84.5 173.9h.8v.8h-.8zM81.6 174.3h.8v.8h-.8zM81.0 172.7h.8v.8h-.8zM88.0 189.4h.8v.8h-.8zM106.9 208.0h.8v.8h-.8zM83.2 198.6h.8v.8h-.8zM111.8 191.0h.8v.8h-.8zM92.5 212.2h.8v.8h-.8zM83.9 199.3h.8v.8h-.8zM114.5 207.1h.8v.8h-.8zM98.9 209.9h.8v.8h-.8zM107.8 211.5h.8v.8h-.8zM112.8 196.7h.8v.8h-.8zM113.9 207.9h.8v.8h-.8zM107.3 210.6h.8v.8h-.8zM110.3 188.5h.8v.8h-.8zM114.3 185.5h.8v.8h-.8zM115.0 197.2h.8v.8h-.8zM95.1 174.7h.8v.8h-.8zM114.4 189.3h.8v.8h-.8zM96.4 177.6h.8v.8h-.8zM89.6 191.0h.8v.8h-.8zM94.1 211.8h.8v.8h-.8zM113.0 185.0h.8v.8h-.8zM84.1 175.2h.8v.8h-.8zM109.7 176.2h.8v.8h-.8zM112.5 170.0h.8v.8h-.8zM112.2 178.1h.8v.8h-.8zM105.6 175.9h.8v.8h-.8zM114.3 173.3h.8v.8h-.8zM111.8 170.4h.8v.8h-.8zM106.1 190.7h.8v.8h-.8zM100.2 194.8h.8v.8h-.8zM87.8 188.7h.8v.8h-.8zM80.4 179.1h.8v.8h-.8zM95.1 177.0h.8v.8h-.8zM89.4 175.9h.8v.8h-.8zM91.3 174.7h.8v.8h-.8zM85.3 187.7h.8v.8h-.8zM99.6 209.6h.8v.8h-.8zM112.0 207.2h.8v.8h-.8zM93.2 209.0h.8v.8h-.8zM109.2 209.0h.8v.8h-.8zM112.1 206.6h.8v.8h-.8zM103.8 194.5h.8v.8h-.8zM109.0 188.3h.8v.8h-.8zM113.2 190.4h.8v.8h-.8zM83.4 205.3h.8v.8h-.8zM91.2 192.4h.8v.8h-.8zM113.4 174.8h.8v.8h-.8zM112.5 171.7h.8v.8h-.8zM107.5 187.6h.8v.8h-.8zM111.7 182.8h.8v.8h-.8zM85.2 202.4h.8v.8h-.8zM81.3 179.6h.8v.8h-.8zM80.5 177.9h.8v.8h-.8zM82.7 182.8h.8v.8h-.8zM87.8 187.2h.8v.8h-.8zM100.1 179.4h.8v.8h-.8zM89.7 191.2h.8v.8h-.8zM92.4 175.3h.8v.8h-.8zM83.1 181.6h.8v.8h-.8zM93.4 182.6h.8v.8h-.8zM114.2 200.7h.8v.8h-.8zM103.3 195.4h.8v.8h-.8zM115.1 201.0h.8v.8h-.8zM114.7 198.7h.8v.8h-.8zM103.1 195.7h.8v.8h-.8zM113.3 173.2h.8v.8h-.8zM84.7 208.1h.8v.8h-.8zM85.5 208.6h.8v.8h-.8zM110.7 177.4h.8v.8h-.8zM105.8 189.5h.8v.8h-.8zM107.2 187.0h.8v.8h-.8zM103.9 178.0h.8v.8h-.8zM100.5 180.2h.8v.8h-.8zM110.4 183.6h.8v.8h-.8zM85.2 202.9h.8v.8h-.8zM92.3 176.2h.8v.8h-.8zM90.0 188.3h.8v.8h-.8zM83.3 178.3h.8v.8h-.8zM93.6 175.8h.8v.8h-.8zM86.9 177.1h.8v.8h-.8zM93.0 188.4h.8v.8h-.8zM90.9 188.2h.8v.8h-.8zM83.2 177.9h.8v.8h-.8zM91.0 188.9h.8v.8h-.8zM84.3 185.9h.8v.8h-.8zM92.8 182.1h.8v.8h-.8zM83.5 183.6h.8v.8h-.8zM83.1 186.5h.8v.8h-.8zM110.9 200.7h.8v.8h-.8zM106.1 195.9h.8v.8h-.8zM110.3 195.6h.8v.8h-.8zM102.7 208.8h.8v.8h-.8zM112.7 198.3h.8v.8h-.8zM92.8 184.1h.8v.8h-.8zM93.1 189.9h.8v.8h-.8zM84.3 187.0h.8v.8h-.8zM84.7 205.1h.8v.8h-.8zM105.7 178.0h.8v.8h-.8zM107.2 176.3h.8v.8h-.8zM91.6 191.8h.8v.8h-.8zM91.4 188.3h.8v.8h-.8zM99.1 182.5h.8v.8h-.8zM84.6 185.9h.8v.8h-.8zM84.1 184.8h.8v.8h-.8zM82.3 178.3h.8v.8h-.8zM87.6 186.1h.8v.8h-.8zM92.5 180.7h.8v.8h-.8zM110.5 197.4h.8v.8h-.8zM110.8 203.6h.8v.8h-.8zM113.5 200.3h.8v.8h-.8zM104.4 197.5h.8v.8h-.8zM106.6 194.1h.8v.8h-.8zM111.2 198.2h.8v.8h-.8zM114.1 200.0h.8v.8h-.8zM85.3 206.1h.8v.8h-.8zM98.5 193.7h.8v.8h-.8zM102.3 192.6h.8v.8h-.8zM99.3 182.2h.8v.8h-.8zM111.4 180.3h.8v.8h-.8zM111.0 179.0h.8v.8h-.8zM93.7 185.9h.8v.8h-.8zM111.1 181.8h.8v.8h-.8zM90.6 187.6h.8v.8h-.8zM91.9 181.9h.8v.8h-.8zM92.4 185.5h.8v.8h-.8zM90.3 186.0h.8v.8h-.8zM91.8 179.6h.8v.8h-.8zM92.6 186.4h.8v.8h-.8zM108.4 193.7h.8v.8h-.8zM110.4 204.6h.8v.8h-.8zM106.7 194.4h.8v.8h-.8zM113.1 198.7h.8v.8h-.8zM110.8 201.0h.8v.8h-.8zM98.4 198.0h.8v.8h-.8zM100.8 207.7h.8v.8h-.8zM109.2 207.2h.8v.8h-.8zM109.2 195.4h.8v.8h-.8zM98.4 197.0h.8v.8h-.8zM109.4 199.3h.8v.8h-.8zM100.5 197.5h.8v.8h-.8zM109.0 207.3h.8v.8h-.8zM84.8 206.1h.8v.8h-.8zM104.0 190.8h.8v.8h-.8zM101.8 192.8h.8v.8h-.8zM105.6 177.5h.8v.8h-.8zM110.6 181.6h.8v.8h-.8zM106.6 187.1h.8v.8h-.8zM93.3 191.1h.8v.8h-.8zM93.0 203.0h.8v.8h-.8zM87.1 198.9h.8v.8h-.8zM86.4 203.0h.8v.8h-.8zM91.8 203.8h.8v.8h-.8zM91.6 178.8h.8v.8h-.8zM90.8 185.4h.8v.8h-.8zM91.1 177.3h.8v.8h-.8zM84.5 183.1h.8v.8h-.8zM84.4 179.1h.8v.8h-.8zM108.7 206.2h.8v.8h-.8zM108.6 194.9h.8v.8h-.8zM111.8 199.8h.8v.8h-.8zM108.5 194.3h.8v.8h-.8zM104.8 196.7h.8v.8h-.8zM103.1 207.7h.8v.8h-.8zM105.1 189.7h.8v.8h-.8zM107.9 195.0h.8v.8h-.8zM101.7 192.6h.8v.8h-.8zM108.4 177.6h.8v.8h-.8zM95.2 207.1h.8v.8h-.8zM86.9 207.4h.8v.8h-.8zM95.3 206.6h.8v.8h-.8zM93.5 207.9h.8v.8h-.8zM97.9 207.2h.8v.8h-.8zM101.1 193.3h.8v.8h-.8zM106.5 178.1h.8v.8h-.8zM110.2 178.9h.8v.8h-.8zM98.3 196.7h.8v.8h-.8zM94.2 185.8h.8v.8h-.8zM84.7 182.5h.8v.8h-.8zM89.7 185.9h.8v.8h-.8zM95.5 185.0h.8v.8h-.8zM83.7 179.8h.8v.8h-.8zM109.9 205.7h.8v.8h-.8zM105.3 206.7h.8v.8h-.8zM101.1 208.6h.8v.8h-.8zM108.8 206.1h.8v.8h-.8zM110.4 198.9h.8v.8h-.8zM110.0 205.3h.8v.8h-.8zM110.7 206.5h.8v.8h-.8zM91.3 185.5h.8v.8h-.8zM95.3 202.0h.8v.8h-.8zM87.3 207.4h.8v.8h-.8zM90.6 208.2h.8v.8h-.8zM90.1 207.9h.8v.8h-.8zM101.5 207.9h.8v.8h-.8zM103.5 180.3h.8v.8h-.8zM103.8 180.1h.8v.8h-.8zM107.3 178.1h.8v.8h-.8zM98.1 195.2h.8v.8h-.8zM85.3 182.6h.8v.8h-.8zM85.0 179.9h.8v.8h-.8zM84.7 179.7h.8v.8h-.8zM87.9 185.7h.8v.8h-.8zM90.8 184.2h.8v.8h-.8zM90.7 183.9h.8v.8h-.8zM90.4 180.5h.8v.8h-.8zM107.9 197.9h.8v.8h-.8zM92.7 207.8h.8v.8h-.8zM101.0 207.4h.8v.8h-.8zM107.1 197.6h.8v.8h-.8zM100.7 197.6h.8v.8h-.8zM106.1 198.9h.8v.8h-.8zM93.4 202.7h.8v.8h-.8zM91.2 207.9h.8v.8h-.8zM86.8 203.6h.8v.8h-.8zM86.0 206.9h.8v.8h-.8zM86.9 205.4h.8v.8h-.8zM95.1 185.9h.8v.8h-.8zM94.6 186.0h.8v.8h-.8zM100.8 180.8h.8v.8h-.8zM105.0 179.2h.8v.8h-.8zM93.8 187.9h.8v.8h-.8zM96.3 185.2h.8v.8h-.8zM105.5 187.9h.8v.8h-.8zM108.8 178.7h.8v.8h-.8zM102.7 181.0h.8v.8h-.8zM97.6 184.4h.8v.8h-.8zM97.7 184.2h.8v.8h-.8zM94.5 188.1h.8v.8h-.8zM86.9 204.2h.8v.8h-.8zM97.2 199.4h.8v.8h-.8zM90.7 180.8h.8v.8h-.8zM91.1 178.6h.8v.8h-.8zM85.2 180.7h.8v.8h-.8zM85.8 182.8h.8v.8h-.8zM96.9 184.1h.8v.8h-.8zM96.0 185.0h.8v.8h-.8zM90.0 177.1h.8v.8h-.8zM90.8 181.4h.8v.8h-.8zM108.4 197.4h.8v.8h-.8zM98.9 199.1h.8v.8h-.8zM106.9 199.7h.8v.8h-.8zM94.9 204.4h.8v.8h-.8zM106.7 200.9h.8v.8h-.8zM108.4 197.6h.8v.8h-.8zM98.2 207.1h.8v.8h-.8zM99.7 201.9h.8v.8h-.8zM106.1 200.5h.8v.8h-.8zM108.2 197.6h.8v.8h-.8zM109.2 196.0h.8v.8h-.8zM106.6 197.4h.8v.8h-.8zM105.5 206.7h.8v.8h-.8zM96.0 185.8h.8v.8h-.8zM86.2 205.9h.8v.8h-.8zM101.5 207.7h.8v.8h-.8z"/><path fill="#4a62cc" d="M108.8 178.9h.8v.8h-.8zM100.9 181.3h.8v.8h-.8zM100.4 192.6h.8v.8h-.8zM101.8 181.2h.8v.8h-.8zM99.9 182.4h.8v.8h-.8zM94.4 190.1h.8v.8h-.8zM109.0 183.0h.8v.8h-.8zM98.0 184.5h.8v.8h-.8zM98.1 183.9h.8v.8h-.8zM95.0 199.6h.8v.8h-.8zM87.2 200.4h.8v.8h-.8zM96.7 199.3h.8v.8h-.8zM87.3 203.1h.8v.8h-.8zM87.7 198.5h.8v.8h-.8zM88.8 177.9h.8v.8h-.8zM85.6 182.3h.8v.8h-.8zM90.0 177.9h.8v.8h-.8zM90.4 177.7h.8v.8h-.8zM104.0 206.2h.8v.8h-.8zM103.2 206.5h.8v.8h-.8zM109.6 202.3h.8v.8h-.8zM109.5 203.5h.8v.8h-.8zM98.4 200.2h.8v.8h-.8zM108.7 200.3h.8v.8h-.8zM96.8 201.5h.8v.8h-.8zM108.9 201.4h.8v.8h-.8zM105.2 199.8h.8v.8h-.8zM96.5 201.6h.8v.8h-.8zM102.8 206.0h.8v.8h-.8zM102.1 205.7h.8v.8h-.8zM109.0 197.7h.8v.8h-.8zM90.6 207.6h.8v.8h-.8zM89.4 207.5h.8v.8h-.8zM96.2 206.2h.8v.8h-.8zM89.6 204.5h.8v.8h-.8zM90.3 205.7h.8v.8h-.8zM109.8 181.1h.8v.8h-.8zM88.0 198.0h.8v.8h-.8zM109.4 181.9h.8v.8h-.8zM98.2 184.7h.8v.8h-.8zM109.3 179.4h.8v.8h-.8zM87.2 202.9h.8v.8h-.8zM88.6 205.5h.8v.8h-.8zM89.1 177.7h.8v.8h-.8zM86.1 178.5h.8v.8h-.8zM86.4 183.8h.8v.8h-.8zM104.9 198.4h.8v.8h-.8zM105.2 201.3h.8v.8h-.8zM108.7 201.0h.8v.8h-.8zM108.5 198.9h.8v.8h-.8zM98.6 206.8h.8v.8h-.8zM96.2 204.1h.8v.8h-.8zM109.5 201.9h.8v.8h-.8zM108.8 199.3h.8v.8h-.8zM96.9 201.7h.8v.8h-.8zM95.0 205.7h.8v.8h-.8zM109.1 202.1h.8v.8h-.8zM96.4 202.1h.8v.8h-.8zM98.5 200.1h.8v.8h-.8zM98.4 203.2h.8v.8h-.8zM97.4 205.9h.8v.8h-.8zM100.2 207.3h.8v.8h-.8zM107.2 198.9h.8v.8h-.8zM95.6 204.4h.8v.8h-.8zM98.8 203.5h.8v.8h-.8zM93.9 204.5h.8v.8h-.8zM89.0 207.4h.8v.8h-.8zM87.3 205.5h.8v.8h-.8zM93.2 205.5h.8v.8h-.8zM89.4 205.0h.8v.8h-.8zM92.5 205.3h.8v.8h-.8zM94.2 192.0h.8v.8h-.8zM103.7 180.7h.8v.8h-.8zM105.1 187.5h.8v.8h-.8zM105.3 180.2h.8v.8h-.8zM94.7 199.7h.8v.8h-.8zM86.5 179.0h.8v.8h-.8zM87.5 179.4h.8v.8h-.8zM89.3 178.6h.8v.8h-.8zM87.4 179.4h.8v.8h-.8zM87.6 177.9h.8v.8h-.8zM89.3 178.6h.8v.8h-.8zM87.2 179.5h.8v.8h-.8zM88.4 206.4h.8v.8h-.8zM101.8 201.7h.8v.8h-.8zM100.7 201.5h.8v.8h-.8zM100.0 204.3h.8v.8h-.8zM104.9 202.2h.8v.8h-.8zM104.7 198.5h.8v.8h-.8zM96.2 204.1h.8v.8h-.8zM104.3 206.0h.8v.8h-.8zM98.2 201.2h.8v.8h-.8zM105.6 200.2h.8v.8h-.8zM101.0 202.6h.8v.8h-.8zM108.5 202.0h.8v.8h-.8zM96.4 203.9h.8v.8h-.8zM90.3 205.7h.8v.8h-.8zM91.0 205.2h.8v.8h-.8zM92.3 205.9h.8v.8h-.8zM95.4 205.5h.8v.8h-.8zM93.3 206.6h.8v.8h-.8zM100.0 207.1h.8v.8h-.8zM87.9 205.8h.8v.8h-.8zM102.0 205.9h.8v.8h-.8zM92.9 205.2h.8v.8h-.8zM93.2 192.8h.8v.8h-.8zM108.9 179.4h.8v.8h-.8zM109.7 180.0h.8v.8h-.8zM107.0 179.8h.8v.8h-.8zM100.1 182.6h.8v.8h-.8zM99.3 193.0h.8v.8h-.8zM92.5 193.0h.8v.8h-.8zM89.9 178.9h.8v.8h-.8zM87.6 184.7h.8v.8h-.8zM101.3 203.2h.8v.8h-.8zM103.9 199.6h.8v.8h-.8zM102.3 205.9h.8v.8h-.8zM96.1 199.5h.8v.8h-.8zM99.4 199.6h.8v.8h-.8zM97.5 202.0h.8v.8h-.8zM107.9 201.3h.8v.8h-.8zM105.9 202.1h.8v.8h-.8zM108.7 204.3h.8v.8h-.8zM101.1 201.8h.8v.8h-.8zM104.2 200.1h.8v.8h-.8zM102.8 198.3h.8v.8h-.8zM93.3 204.7h.8v.8h-.8zM99.3 200.6h.8v.8h-.8zM109.0 202.8h.8v.8h-.8zM104.0 200.3h.8v.8h-.8zM92.5 206.4h.8v.8h-.8zM88.8 206.4h.8v.8h-.8zM88.7 204.2h.8v.8h-.8zM89.5 206.6h.8v.8h-.8zM108.2 180.0h.8v.8h-.8zM102.6 190.7h.8v.8h-.8zM107.4 179.7h.8v.8h-.8zM103.8 189.4h.8v.8h-.8zM89.3 195.7h.8v.8h-.8zM105.6 180.5h.8v.8h-.8zM94.6 200.6h.8v.8h-.8zM107.0 202.6h.8v.8h-.8zM96.9 202.2h.8v.8h-.8zM99.2 204.7h.8v.8h-.8zM104.3 205.6h.8v.8h-.8zM97.7 201.5h.8v.8h-.8zM96.7 203.2h.8v.8h-.8zM104.4 201.7h.8v.8h-.8zM97.7 203.3h.8v.8h-.8zM101.8 201.2h.8v.8h-.8zM92.2 205.9h.8v.8h-.8zM99.2 200.2h.8v.8h-.8zM101.0 204.2h.8v.8h-.8zM99.4 205.6h.8v.8h-.8zM105.7 202.3h.8v.8h-.8zM99.5 204.5h.8v.8h-.8zM94.8 204.8h.8v.8h-.8zM92.3 206.7h.8v.8h-.8zM99.9 205.5h.8v.8h-.8zM109.0 181.4h.8v.8h-.8zM105.7 181.1h.8v.8h-.8zM105.4 181.1h.8v.8h-.8zM108.0 180.2h.8v.8h-.8zM100.4 192.2h.8v.8h-.8zM94.3 199.9h.8v.8h-.8zM107.8 180.8h.8v.8h-.8zM100.3 191.8h.8v.8h-.8zM98.4 185.2h.8v.8h-.8zM107.4 183.4h.8v.8h-.8zM94.3 200.1h.8v.8h-.8zM95.0 199.2h.8v.8h-.8zM93.2 200.7h.8v.8h-.8zM88.3 197.1h.8v.8h-.8zM94.5 200.4h.8v.8h-.8zM88.8 184.4h.8v.8h-.8zM89.2 181.2h.8v.8h-.8zM90.1 182.8h.8v.8h-.8zM95.5 187.3h.8v.8h-.8zM89.8 184.6h.8v.8h-.8zM86.6 179.6h.8v.8h-.8zM87.9 184.7h.8v.8h-.8zM86.0 181.1h.8v.8h-.8zM90.2 179.7h.8v.8h-.8zM107.3 202.3h.8v.8h-.8zM98.1 205.6h.8v.8h-.8zM97.5 200.4h.8v.8h-.8zM103.2 198.7h.8v.8h-.8zM97.5 200.1h.8v.8h-.8zM98.9 206.2h.8v.8h-.8zM106.8 204.8h.8v.8h-.8zM102.8 201.1h.8v.8h-.8zM104.0 203.2h.8v.8h-.8zM103.2 199.2h.8v.8h-.8zM101.3 204.4h.8v.8h-.8zM104.1 203.1h.8v.8h-.8zM103.8 202.1h.8v.8h-.8zM103.6 203.2h.8v.8h-.8zM102.0 198.2h.8v.8h-.8zM103.5 203.7h.8v.8h-.8zM90.6 206.8h.8v.8h-.8zM105.3 205.4h.8v.8h-.8zM99.0 205.5h.8v.8h-.8zM98.2 204.8h.8v.8h-.8zM107.1 184.2h.8v.8h-.8zM108.1 181.7h.8v.8h-.8zM107.1 184.4h.8v.8h-.8zM103.5 189.0h.8v.8h-.8zM92.9 201.5h.8v.8h-.8zM88.0 200.3h.8v.8h-.8zM87.8 200.5h.8v.8h-.8zM88.4 179.1h.8v.8h-.8zM88.5 179.7h.8v.8h-.8zM87.9 184.1h.8v.8h-.8zM86.5 180.4h.8v.8h-.8zM87.5 178.7h.8v.8h-.8zM87.5 180.2h.8v.8h-.8zM103.4 204.0h.8v.8h-.8zM97.5 203.9h.8v.8h-.8zM107.1 205.0h.8v.8h-.8zM98.1 205.2h.8v.8h-.8zM93.2 200.6h.8v.8h-.8zM106.5 205.1h.8v.8h-.8zM106.3 204.8h.8v.8h-.8zM101.6 204.0h.8v.8h-.8zM101.3 201.3h.8v.8h-.8zM96.5 205.1h.8v.8h-.8zM103.0 199.0h.8v.8h-.8zM108.3 202.9h.8v.8h-.8zM107.6 205.0h.8v.8h-.8zM93.8 206.2h.8v.8h-.8zM100.5 205.5h.8v.8h-.8zM97.4 197.0h.8v.8h-.8zM88.1 203.2h.8v.8h-.8zM95.0 189.5h.8v.8h-.8zM107.5 182.7h.8v.8h-.8zM107.8 181.2h.8v.8h-.8zM93.6 192.9h.8v.8h-.8zM102.5 182.2h.8v.8h-.8zM106.0 180.9h.8v.8h-.8zM92.7 201.4h.8v.8h-.8zM92.4 201.7h.8v.8h-.8zM89.4 203.5h.8v.8h-.8zM87.0 183.4h.8v.8h-.8zM89.0 184.4h.8v.8h-.8zM88.6 180.9h.8v.8h-.8zM88.2 184.2h.8v.8h-.8zM87.7 181.4h.8v.8h-.8zM87.2 181.8h.8v.8h-.8zM89.8 182.3h.8v.8h-.8zM100.2 199.2h.8v.8h-.8zM100.7 199.9h.8v.8h-.8zM92.9 201.0h.8v.8h-.8zM108.0 203.7h.8v.8h-.8zM102.7 199.0h.8v.8h-.8zM102.0 203.1h.8v.8h-.8zM103.4 203.4h.8v.8h-.8zM107.3 204.4h.8v.8h-.8zM90.4 206.3h.8v.8h-.8zM93.7 192.9h.8v.8h-.8zM95.7 187.3h.8v.8h-.8zM102.8 181.9h.8v.8h-.8zM95.7 192.4h.8v.8h-.8zM90.0 195.5h.8v.8h-.8zM108.5 181.2h.8v.8h-.8zM97.6 187.3h.8v.8h-.8zM101.1 182.6h.8v.8h-.8zM88.2 200.0h.8v.8h-.8zM92.9 200.9h.8v.8h-.8zM89.6 195.7h.8v.8h-.8zM87.2 181.9h.8v.8h-.8zM89.1 181.2h.8v.8h-.8zM88.7 181.9h.8v.8h-.8zM87.8 180.7h.8v.8h-.8zM101.9 199.1h.8v.8h-.8zM102.9 204.9h.8v.8h-.8zM102.3 204.8h.8v.8h-.8zM106.1 205.1h.8v.8h-.8zM101.6 198.4h.8v.8h-.8zM97.7 205.0h.8v.8h-.8zM100.8 200.3h.8v.8h-.8zM102.4 204.7h.8v.8h-.8zM101.1 198.8h.8v.8h-.8zM102.6 199.1h.8v.8h-.8zM101.4 200.2h.8v.8h-.8zM101.0 199.4h.8v.8h-.8zM104.4 204.0h.8v.8h-.8zM101.1 182.6h.8v.8h-.8zM107.4 182.5h.8v.8h-.8zM95.3 188.6h.8v.8h-.8zM107.6 182.0h.8v.8h-.8zM107.2 182.9h.8v.8h-.8zM107.6 181.9h.8v.8h-.8zM99.1 185.2h.8v.8h-.8zM106.7 185.0h.8v.8h-.8zM96.5 186.5h.8v.8h-.8zM89.4 196.0h.8v.8h-.8zM88.4 200.4h.8v.8h-.8zM96.4 194.1h.8v.8h-.8zM90.9 195.3h.8v.8h-.8zM89.1 182.6h.8v.8h-.8zM95.4 188.9h.8v.8h-.8zM88.2 182.2h.8v.8h-.8zM89.5 182.8h.8v.8h-.8zM88.8 183.7h.8v.8h-.8zM101.0 199.6h.8v.8h-.8zM107.3 203.8h.8v.8h-.8zM105.4 204.3h.8v.8h-.8zM104.2 204.5h.8v.8h-.8zM101.2 198.9h.8v.8h-.8zM106.1 204.3h.8v.8h-.8zM103.2 203.0h.8v.8h-.8z"/><path fill="#3c9ec4" d="M93.2 193.4h.8v.8h-.8zM105.7 185.3h.8v.8h-.8zM105.8 185.5h.8v.8h-.8zM95.6 188.1h.8v.8h-.8zM107.0 181.3h.8v.8h-.8zM102.0 182.3h.8v.8h-.8zM105.6 181.5h.8v.8h-.8zM92.9 193.6h.8v.8h-.8zM88.4 183.4h.8v.8h-.8zM87.3 182.0h.8v.8h-.8zM106.5 203.6h.8v.8h-.8zM107.0 203.4h.8v.8h-.8zM102.2 202.8h.8v.8h-.8zM105.8 205.0h.8v.8h-.8zM106.0 205.1h.8v.8h-.8zM95.7 187.8h.8v.8h-.8zM104.8 181.5h.8v.8h-.8zM100.8 191.2h.8v.8h-.8zM98.9 185.5h.8v.8h-.8zM93.5 200.3h.8v.8h-.8zM96.3 198.0h.8v.8h-.8zM88.7 202.8h.8v.8h-.8zM88.0 183.1h.8v.8h-.8zM106.3 203.5h.8v.8h-.8zM105.2 203.2h.8v.8h-.8zM102.0 199.7h.8v.8h-.8zM101.6 200.1h.8v.8h-.8zM94.7 193.2h.8v.8h-.8zM103.4 182.2h.8v.8h-.8zM98.4 192.7h.8v.8h-.8zM96.8 193.0h.8v.8h-.8zM103.2 189.1h.8v.8h-.8zM95.7 190.2h.8v.8h-.8zM102.7 189.6h.8v.8h-.8zM107.0 182.1h.8v.8h-.8zM105.4 186.5h.8v.8h-.8zM88.7 202.6h.8v.8h-.8zM96.7 195.2h.8v.8h-.8zM88.2 183.1h.8v.8h-.8zM88.2 183.3h.8v.8h-.8zM95.6 193.3h.8v.8h-.8zM96.4 192.6h.8v.8h-.8zM98.3 187.2h.8v.8h-.8zM95.5 193.0h.8v.8h-.8zM96.4 197.6h.8v.8h-.8zM96.6 194.9h.8v.8h-.8zM91.7 194.9h.8v.8h-.8zM88.6 198.3h.8v.8h-.8zM88.7 183.0h.8v.8h-.8zM98.6 186.9h.8v.8h-.8zM106.6 183.4h.8v.8h-.8zM105.5 182.1h.8v.8h-.8zM95.8 193.6h.8v.8h-.8zM105.6 181.9h.8v.8h-.8zM102.1 190.0h.8v.8h-.8zM96.4 194.6h.8v.8h-.8zM96.4 197.2h.8v.8h-.8zM90.5 202.4h.8v.8h-.8zM90.6 195.7h.8v.8h-.8zM94.1 193.4h.8v.8h-.8zM99.9 184.6h.8v.8h-.8zM99.6 185.0h.8v.8h-.8zM97.9 187.7h.8v.8h-.8zM89.3 196.5h.8v.8h-.8zM97.8 187.5h.8v.8h-.8zM97.4 187.8h.8v.8h-.8zM100.7 184.0h.8v.8h-.8zM103.4 188.2h.8v.8h-.8zM97.6 187.8h.8v.8h-.8zM96.8 192.2h.8v.8h-.8zM97.1 187.8h.8v.8h-.8zM90.6 201.9h.8v.8h-.8zM89.4 196.4h.8v.8h-.8zM93.1 194.1h.8v.8h-.8zM96.1 197.1h.8v.8h-.8zM89.3 202.3h.8v.8h-.8zM89.3 202.3h.8v.8h-.8zM95.8 193.6h.8v.8h-.8zM98.4 186.6h.8v.8h-.8zM106.0 184.9h.8v.8h-.8zM97.6 192.2h.8v.8h-.8zM95.9 190.8h.8v.8h-.8zM95.7 189.2h.8v.8h-.8zM95.9 191.1h.8v.8h-.8zM88.6 202.0h.8v.8h-.8zM88.6 202.1h.8v.8h-.8zM96.0 197.2h.8v.8h-.8zM104.2 186.8h.8v.8h-.8zM99.0 187.0h.8v.8h-.8zM105.7 184.9h.8v.8h-.8zM100.8 183.8h.8v.8h-.8zM98.1 187.6h.8v.8h-.8zM100.4 184.3h.8v.8h-.8zM91.0 201.6h.8v.8h-.8zM96.3 191.3h.8v.8h-.8zM101.0 183.9h.8v.8h-.8zM99.6 186.4h.8v.8h-.8zM105.4 182.9h.8v.8h-.8zM105.2 182.4h.8v.8h-.8zM101.6 189.9h.8v.8h-.8zM104.8 186.2h.8v.8h-.8zM104.4 182.4h.8v.8h-.8zM101.6 189.8h.8v.8h-.8zM94.1 198.4h.8v.8h-.8zM94.6 198.5h.8v.8h-.8zM89.8 202.1h.8v.8h-.8zM88.8 201.7h.8v.8h-.8zM88.5 201.7h.8v.8h-.8zM89.7 202.1h.8v.8h-.8zM96.6 196.8h.8v.8h-.8zM98.1 192.0h.8v.8h-.8zM100.1 190.5h.8v.8h-.8zM91.5 195.7h.8v.8h-.8zM99.6 186.5h.8v.8h-.8zM95.0 193.8h.8v.8h-.8zM96.8 188.1h.8v.8h-.8zM98.7 191.7h.8v.8h-.8zM103.7 187.6h.8v.8h-.8zM88.8 200.9h.8v.8h-.8zM96.8 195.8h.8v.8h-.8zM88.9 200.9h.8v.8h-.8zM96.1 194.8h.8v.8h-.8z"/><path fill="#58ba5c" d="M99.2 191.6h.8v.8h-.8zM105.8 184.1h.8v.8h-.8zM106.3 183.3h.8v.8h-.8zM89.1 197.6h.8v.8h-.8zM93.9 193.6h.8v.8h-.8zM99.2 191.7h.8v.8h-.8zM105.1 186.0h.8v.8h-.8zM93.9 194.0h.8v.8h-.8zM95.6 194.3h.8v.8h-.8zM89.6 196.7h.8v.8h-.8zM89.3 197.9h.8v.8h-.8zM89.1 201.5h.8v.8h-.8zM95.8 197.3h.8v.8h-.8zM96.4 196.6h.8v.8h-.8zM96.1 189.9h.8v.8h-.8zM101.5 189.6h.8v.8h-.8zM96.9 188.3h.8v.8h-.8zM92.6 195.1h.8v.8h-.8zM91.1 201.2h.8v.8h-.8zM89.5 197.1h.8v.8h-.8zM89.6 197.0h.8v.8h-.8zM90.3 201.9h.8v.8h-.8zM97.6 191.7h.8v.8h-.8zM100.5 189.7h.8v.8h-.8zM101.9 189.3h.8v.8h-.8zM96.4 190.6h.8v.8h-.8zM105.9 183.1h.8v.8h-.8zM101.2 184.9h.8v.8h-.8zM101.1 189.6h.8v.8h-.8zM95.6 194.4h.8v.8h-.8zM93.1 198.5h.8v.8h-.8zM89.7 197.7h.8v.8h-.8zM89.1 200.1h.8v.8h-.8zM92.7 200.2h.8v.8h-.8zM95.9 197.0h.8v.8h-.8zM90.9 201.1h.8v.8h-.8zM95.0 197.5h.8v.8h-.8zM89.8 201.8h.8v.8h-.8zM96.4 189.3h.8v.8h-.8zM91.8 195.9h.8v.8h-.8zM104.5 183.0h.8v.8h-.8zM102.0 189.0h.8v.8h-.8zM99.5 187.2h.8v.8h-.8zM100.5 185.4h.8v.8h-.8zM103.6 186.8h.8v.8h-.8zM102.0 189.1h.8v.8h-.8zM99.6 187.2h.8v.8h-.8zM99.4 190.7h.8v.8h-.8zM100.0 185.5h.8v.8h-.8zM97.9 191.5h.8v.8h-.8zM100.0 188.4h.8v.8h-.8zM92.8 194.9h.8v.8h-.8zM91.6 200.7h.8v.8h-.8zM91.2 201.0h.8v.8h-.8zM99.3 190.6h.8v.8h-.8zM97.4 188.3h.8v.8h-.8zM98.9 191.3h.8v.8h-.8zM99.6 186.8h.8v.8h-.8zM103.3 183.0h.8v.8h-.8zM96.4 189.6h.8v.8h-.8zM103.2 186.7h.8v.8h-.8zM105.6 183.4h.8v.8h-.8zM99.3 188.5h.8v.8h-.8zM105.4 184.5h.8v.8h-.8zM100.9 184.4h.8v.8h-.8zM100.2 189.6h.8v.8h-.8zM98.3 191.4h.8v.8h-.8zM99.4 190.0h.8v.8h-.8zM89.2 201.4h.8v.8h-.8zM89.4 198.2h.8v.8h-.8zM95.8 196.3h.8v.8h-.8zM89.6 197.2h.8v.8h-.8zM101.3 189.1h.8v.8h-.8zM97.7 191.6h.8v.8h-.8zM92.9 198.5h.8v.8h-.8zM102.7 188.2h.8v.8h-.8zM104.3 182.8h.8v.8h-.8zM102.2 183.8h.8v.8h-.8zM98.0 188.4h.8v.8h-.8zM92.7 195.8h.8v.8h-.8zM93.3 195.1h.8v.8h-.8zM96.0 196.2h.8v.8h-.8zM89.1 200.4h.8v.8h-.8zM95.4 197.0h.8v.8h-.8zM93.2 195.3h.8v.8h-.8zM95.6 196.6h.8v.8h-.8zM95.3 196.8h.8v.8h-.8zM93.0 198.3h.8v.8h-.8zM100.6 189.0h.8v.8h-.8zM99.8 189.1h.8v.8h-.8zM103.7 186.4h.8v.8h-.8zM101.4 188.9h.8v.8h-.8zM99.3 188.3h.8v.8h-.8zM102.7 183.6h.8v.8h-.8zM100.8 189.4h.8v.8h-.8zM93.3 195.2h.8v.8h-.8zM90.8 200.5h.8v.8h-.8zM90.2 201.1h.8v.8h-.8zM94.0 197.8h.8v.8h-.8zM93.9 194.2h.8v.8h-.8zM105.0 183.4h.8v.8h-.8zM104.9 183.4h.8v.8h-.8zM100.4 187.2h.8v.8h-.8zM100.7 185.2h.8v.8h-.8zM101.1 189.2h.8v.8h-.8zM96.9 189.1h.8v.8h-.8zM98.7 190.3h.8v.8h-.8zM104.8 185.6h.8v.8h-.8zM96.5 189.6h.8v.8h-.8zM99.4 189.7h.8v.8h-.8zM105.1 185.4h.8v.8h-.8zM89.6 201.0h.8v.8h-.8zM95.0 197.3h.8v.8h-.8zM91.2 199.9h.8v.8h-.8zM93.0 197.7h.8v.8h-.8zM90.1 201.3h.8v.8h-.8zM93.2 198.0h.8v.8h-.8zM97.3 190.0h.8v.8h-.8zM103.4 183.5h.8v.8h-.8zM102.6 183.7h.8v.8h-.8zM98.8 190.8h.8v.8h-.8zM98.0 190.9h.8v.8h-.8zM97.2 190.0h.8v.8h-.8zM99.7 190.0h.8v.8h-.8zM97.4 191.2h.8v.8h-.8zM94.2 194.5h.8v.8h-.8zM98.6 189.2h.8v.8h-.8zM102.1 188.4h.8v.8h-.8zM103.5 186.5h.8v.8h-.8zM104.6 183.6h.8v.8h-.8zM97.5 189.4h.8v.8h-.8zM93.2 197.7h.8v.8h-.8zM92.4 196.3h.8v.8h-.8zM90.7 200.2h.8v.8h-.8zM91.3 196.2h.8v.8h-.8zM92.3 198.6h.8v.8h-.8zM92.3 198.6h.8v.8h-.8z"/><path fill="#cace3a" d="M103.3 186.2h.8v.8h-.8zM98.2 190.7h.8v.8h-.8zM97.7 189.8h.8v.8h-.8zM104.5 183.7h.8v.8h-.8zM103.8 186.3h.8v.8h-.8zM97.2 190.3h.8v.8h-.8zM101.1 185.2h.8v.8h-.8zM100.4 187.0h.8v.8h-.8zM97.7 191.1h.8v.8h-.8zM97.0 189.2h.8v.8h-.8zM105.0 184.0h.8v.8h-.8zM95.4 196.2h.8v.8h-.8zM102.1 188.3h.8v.8h-.8zM103.9 183.2h.8v.8h-.8zM102.6 188.1h.8v.8h-.8zM93.9 195.5h.8v.8h-.8zM90.6 200.4h.8v.8h-.8zM90.2 199.1h.8v.8h-.8zM92.1 199.5h.8v.8h-.8zM90.9 200.7h.8v.8h-.8zM93.6 197.6h.8v.8h-.8zM92.3 198.8h.8v.8h-.8zM104.9 184.9h.8v.8h-.8zM98.3 189.7h.8v.8h-.8zM105.2 184.2h.8v.8h-.8zM102.4 184.3h.8v.8h-.8zM102.6 184.0h.8v.8h-.8zM97.8 190.1h.8v.8h-.8zM99.5 188.2h.8v.8h-.8zM103.7 183.9h.8v.8h-.8zM102.2 184.3h.8v.8h-.8zM91.2 196.1h.8v.8h-.8zM103.8 186.0h.8v.8h-.8zM94.3 194.7h.8v.8h-.8zM93.4 195.5h.8v.8h-.8zM90.0 200.1h.8v.8h-.8zM90.9 196.6h.8v.8h-.8zM90.2 199.0h.8v.8h-.8zM90.1 199.0h.8v.8h-.8zM94.0 197.7h.8v.8h-.8zM94.5 194.6h.8v.8h-.8zM104.9 184.7h.8v.8h-.8zM97.5 189.8h.8v.8h-.8zM101.0 186.3h.8v.8h-.8zM104.0 183.7h.8v.8h-.8zM101.4 185.5h.8v.8h-.8zM103.5 186.3h.8v.8h-.8zM98.0 189.9h.8v.8h-.8zM95.4 195.5h.8v.8h-.8zM98.0 190.1h.8v.8h-.8zM100.9 186.1h.8v.8h-.8zM101.1 188.6h.8v.8h-.8zM103.8 186.0h.8v.8h-.8zM102.3 184.2h.8v.8h-.8zM102.7 187.0h.8v.8h-.8zM97.9 189.3h.8v.8h-.8zM90.6 199.9h.8v.8h-.8zM91.6 200.2h.8v.8h-.8zM94.8 196.5h.8v.8h-.8zM90.2 198.9h.8v.8h-.8zM100.6 188.2h.8v.8h-.8zM97.5 191.0h.8v.8h-.8zM100.8 188.4h.8v.8h-.8zM92.4 196.6h.8v.8h-.8zM101.8 184.3h.8v.8h-.8zM103.7 184.2h.8v.8h-.8zM101.4 188.1h.8v.8h-.8zM90.1 198.2h.8v.8h-.8zM90.0 199.7h.8v.8h-.8zM95.0 195.4h.8v.8h-.8zM91.0 199.6h.8v.8h-.8zM90.2 198.1h.8v.8h-.8zM95.0 196.2h.8v.8h-.8zM102.2 184.5h.8v.8h-.8zM97.8 190.8h.8v.8h-.8zM94.7 196.3h.8v.8h-.8zM104.5 184.2h.8v.8h-.8zM97.7 190.7h.8v.8h-.8zM90.3 197.8h.8v.8h-.8zM92.5 197.9h.8v.8h-.8zM94.9 195.3h.8v.8h-.8zM94.7 195.5h.8v.8h-.8zM101.8 187.6h.8v.8h-.8zM101.2 187.6h.8v.8h-.8zM92.9 196.5h.8v.8h-.8zM103.7 184.3h.8v.8h-.8zM101.2 187.7h.8v.8h-.8zM101.7 186.1h.8v.8h-.8zM101.7 186.9h.8v.8h-.8zM102.9 186.2h.8v.8h-.8zM90.6 199.5h.8v.8h-.8zM93.0 196.4h.8v.8h-.8zM94.4 195.4h.8v.8h-.8zM94.5 197.2h.8v.8h-.8zM92.4 197.5h.8v.8h-.8zM94.0 197.3h.8v.8h-.8zM90.8 199.6h.8v.8h-.8zM90.8 197.0h.8v.8h-.8zM100.9 187.0h.8v.8h-.8zM100.6 187.9h.8v.8h-.8zM101.2 187.0h.8v.8h-.8zM101.2 186.0h.8v.8h-.8zM94.8 195.9h.8v.8h-.8zM94.6 197.1h.8v.8h-.8zM91.7 198.4h.8v.8h-.8zM90.9 197.9h.8v.8h-.8zM90.6 197.4h.8v.8h-.8zM94.4 196.0h.8v.8h-.8zM91.9 197.7h.8v.8h-.8zM90.3 198.5h.8v.8h-.8zM92.7 196.5h.8v.8h-.8zM103.4 184.3h.8v.8h-.8zM102.5 187.3h.8v.8h-.8zM101.8 185.9h.8v.8h-.8zM101.0 188.1h.8v.8h-.8zM101.9 187.7h.8v.8h-.8zM101.1 186.1h.8v.8h-.8zM102.4 184.6h.8v.8h-.8zM100.9 187.3h.8v.8h-.8zM91.5 199.4h.8v.8h-.8zM90.8 198.9h.8v.8h-.8zM93.2 196.2h.8v.8h-.8zM93.2 196.5h.8v.8h-.8z"/><path fill="#ee8c28" d="M102.5 186.5h.8v.8h-.8zM102.8 185.7h.8v.8h-.8zM103.3 184.6h.8v.8h-.8zM92.7 197.1h.8v.8h-.8zM102.5 184.8h.8v.8h-.8zM93.6 196.2h.8v.8h-.8zM90.7 198.2h.8v.8h-.8zM90.7 197.7h.8v.8h-.8zM90.7 197.7h.8v.8h-.8zM91.6 197.3h.8v.8h-.8zM91.9 198.3h.8v.8h-.8zM103.6 184.5h.8v.8h-.8zM102.1 186.9h.8v.8h-.8zM103.6 184.5h.8v.8h-.8zM102.1 185.9h.8v.8h-.8zM103.2 185.7h.8v.8h-.8zM102.0 186.6h.8v.8h-.8zM102.7 184.8h.8v.8h-.8zM94.8 195.9h.8v.8h-.8zM91.1 199.1h.8v.8h-.8zM93.2 196.0h.8v.8h-.8zM91.8 197.3h.8v.8h-.8zM91.1 199.1h.8v.8h-.8zM91.8 198.9h.8v.8h-.8zM92.0 197.8h.8v.8h-.8zM102.5 185.9h.8v.8h-.8zM90.9 198.0h.8v.8h-.8zM102.0 185.7h.8v.8h-.8zM101.9 185.8h.8v.8h-.8zM104.2 184.8h.8v.8h-.8zM92.1 197.5h.8v.8h-.8zM103.9 185.0h.8v.8h-.8z"/><path fill="#dc2e1e" d="M103.4 184.9h.8v.8h-.8zM91.3 197.7h.8v.8h-.8z"/></g>
<rect x="95.30" y="174.30" width="19.60" height="18.90" fill="none" stroke="#1a1a1a" stroke-width="1.1"/>
<rect x="87.00" y="193.30" width="9.80" height="9.90" fill="none" stroke="#1a1a1a" stroke-width="1.1"/>
<rect x="76.40" y="162.30" width="56.00" height="55.30" fill="none" stroke="#1a1a1a" stroke-width="1.1"/>
<text x="111.70" y="172.00" font-size="5.0" text-anchor="middle" textLength="13.00" lengthAdjust="spacingAndGlyphs" fill="#333">49.3%</text>
<text x="97.20" y="212.00" font-size="5.0" text-anchor="middle" textLength="13.00" lengthAdjust="spacingAndGlyphs" fill="#333">25.8%</text>
<text x="162.90" y="158.00" font-size="7.6" text-anchor="middle" textLength="17.60" lengthAdjust="spacingAndGlyphs" stroke="#231f20" stroke-width="0.142">Day4</text>
<g opacity="0.8"><path fill="#7482d6" d="M147.3 207.7h.8v.8h-.8zM156.6 191.2h.8v.8h-.8zM147.1 190.6h.8v.8h-.8zM147.9 209.9h.8v.8h-.8zM158.6 209.1h.8v.8h-.8zM149.8 209.3h.8v.8h-.8zM175.3 196.3h.8v.8h-.8zM161.8 176.5h.8v.8h-.8zM138.1 181.5h.8v.8h-.8zM150.0 166.5h.8v.8h-.8zM164.0 189.0h.8v.8h-.8zM163.0 193.7h.8v.8h-.8zM153.4 174.7h.8v.8h-.8zM158.3 172.6h.8v.8h-.8zM172.3 188.1h.8v.8h-.8zM160.1 186.6h.8v.8h-.8zM155.5 189.4h.8v.8h-.8zM166.7 192.1h.8v.8h-.8zM155.7 193.8h.8v.8h-.8zM158.2 182.5h.8v.8h-.8zM166.2 183.0h.8v.8h-.8zM159.8 184.3h.8v.8h-.8zM161.8 181.0h.8v.8h-.8zM168.6 174.6h.8v.8h-.8zM167.5 185.1h.8v.8h-.8zM176.2 187.5h.8v.8h-.8zM168.9 196.8h.8v.8h-.8zM144.1 176.7h.8v.8h-.8zM142.8 172.2h.8v.8h-.8zM140.1 184.4h.8v.8h-.8zM147.5 174.3h.8v.8h-.8zM156.5 170.8h.8v.8h-.8zM145.4 205.3h.8v.8h-.8zM142.4 194.2h.8v.8h-.8zM152.4 192.8h.8v.8h-.8zM151.4 190.3h.8v.8h-.8zM143.1 197.5h.8v.8h-.8zM177.5 197.7h.8v.8h-.8zM172.0 195.2h.8v.8h-.8zM142.0 195.7h.8v.8h-.8zM165.7 186.5h.8v.8h-.8zM160.5 192.0h.8v.8h-.8zM171.3 183.4h.8v.8h-.8zM157.6 188.7h.8v.8h-.8zM172.2 183.7h.8v.8h-.8zM155.1 177.9h.8v.8h-.8zM155.2 180.3h.8v.8h-.8zM163.1 183.4h.8v.8h-.8zM155.7 181.7h.8v.8h-.8zM158.6 193.6h.8v.8h-.8zM146.6 187.7h.8v.8h-.8zM148.9 186.0h.8v.8h-.8zM144.1 185.8h.8v.8h-.8zM148.4 188.4h.8v.8h-.8zM144.1 187.2h.8v.8h-.8zM147.9 185.7h.8v.8h-.8zM150.0 178.9h.8v.8h-.8zM171.8 207.5h.8v.8h-.8zM157.4 207.3h.8v.8h-.8zM174.5 206.8h.8v.8h-.8zM163.9 185.0h.8v.8h-.8zM158.8 192.2h.8v.8h-.8zM160.5 189.3h.8v.8h-.8zM164.5 186.3h.8v.8h-.8zM152.2 177.0h.8v.8h-.8zM161.2 188.8h.8v.8h-.8zM152.0 177.5h.8v.8h-.8zM145.3 181.6h.8v.8h-.8zM153.4 179.5h.8v.8h-.8zM151.1 184.3h.8v.8h-.8zM143.5 183.5h.8v.8h-.8zM143.3 201.6h.8v.8h-.8zM145.4 194.9h.8v.8h-.8zM149.4 190.8h.8v.8h-.8zM144.7 195.5h.8v.8h-.8zM169.1 209.1h.8v.8h-.8zM166.3 206.6h.8v.8h-.8zM172.0 207.4h.8v.8h-.8zM166.7 197.9h.8v.8h-.8zM145.9 183.8h.8v.8h-.8zM147.4 178.9h.8v.8h-.8zM159.3 188.9h.8v.8h-.8zM147.8 192.7h.8v.8h-.8zM148.0 177.7h.8v.8h-.8zM148.8 180.6h.8v.8h-.8zM147.8 183.5h.8v.8h-.8zM149.1 183.5h.8v.8h-.8zM153.6 179.0h.8v.8h-.8zM150.9 183.8h.8v.8h-.8zM149.7 190.5h.8v.8h-.8zM164.0 205.9h.8v.8h-.8zM163.6 207.2h.8v.8h-.8zM164.4 207.7h.8v.8h-.8zM175.9 198.6h.8v.8h-.8zM173.9 207.0h.8v.8h-.8zM172.5 196.9h.8v.8h-.8zM166.0 208.0h.8v.8h-.8zM156.4 206.9h.8v.8h-.8zM163.6 207.0h.8v.8h-.8zM167.2 197.8h.8v.8h-.8zM173.1 197.6h.8v.8h-.8zM151.2 193.4h.8v.8h-.8zM145.4 183.1h.8v.8h-.8zM149.8 183.7h.8v.8h-.8zM144.6 182.5h.8v.8h-.8zM149.2 179.7h.8v.8h-.8zM152.6 178.9h.8v.8h-.8zM143.8 199.4h.8v.8h-.8zM149.7 191.8h.8v.8h-.8zM148.9 192.4h.8v.8h-.8zM153.8 195.2h.8v.8h-.8zM165.4 198.5h.8v.8h-.8zM174.4 198.1h.8v.8h-.8zM147.6 179.7h.8v.8h-.8zM147.5 179.7h.8v.8h-.8zM150.3 192.9h.8v.8h-.8zM143.9 199.1h.8v.8h-.8zM168.6 208.0h.8v.8h-.8zM162.2 198.9h.8v.8h-.8zM172.2 198.0h.8v.8h-.8zM152.1 207.4h.8v.8h-.8zM162.9 205.4h.8v.8h-.8zM158.0 198.1h.8v.8h-.8zM167.9 208.4h.8v.8h-.8zM165.0 199.5h.8v.8h-.8zM162.2 198.8h.8v.8h-.8zM161.4 198.4h.8v.8h-.8zM149.0 193.6h.8v.8h-.8zM158.8 199.1h.8v.8h-.8zM175.6 199.6h.8v.8h-.8zM167.4 207.8h.8v.8h-.8zM153.1 206.9h.8v.8h-.8zM152.3 206.9h.8v.8h-.8zM152.6 207.1h.8v.8h-.8zM164.5 199.7h.8v.8h-.8zM170.0 206.4h.8v.8h-.8zM152.6 207.0h.8v.8h-.8zM144.5 202.1h.8v.8h-.8zM159.3 199.6h.8v.8h-.8zM170.0 206.2h.8v.8h-.8zM176.7 206.1h.8v.8h-.8zM172.9 198.8h.8v.8h-.8zM161.3 198.9h.8v.8h-.8zM175.6 206.4h.8v.8h-.8zM153.2 195.5h.8v.8h-.8zM146.6 195.3h.8v.8h-.8zM148.5 194.5h.8v.8h-.8zM155.6 206.1h.8v.8h-.8zM159.9 200.5h.8v.8h-.8zM158.3 198.8h.8v.8h-.8zM157.7 201.5h.8v.8h-.8zM161.3 199.3h.8v.8h-.8zM151.4 205.8h.8v.8h-.8zM161.5 199.2h.8v.8h-.8zM159.0 199.5h.8v.8h-.8zM166.9 205.3h.8v.8h-.8zM169.0 207.2h.8v.8h-.8zM163.2 203.8h.8v.8h-.8zM159.1 206.0h.8v.8h-.8zM155.6 198.1h.8v.8h-.8zM169.0 206.8h.8v.8h-.8zM150.4 194.2h.8v.8h-.8zM156.8 198.9h.8v.8h-.8zM159.7 199.7h.8v.8h-.8zM172.2 205.9h.8v.8h-.8zM175.3 199.9h.8v.8h-.8zM177.0 204.9h.8v.8h-.8zM150.7 205.0h.8v.8h-.8zM157.3 202.0h.8v.8h-.8zM156.0 198.8h.8v.8h-.8zM155.5 206.2h.8v.8h-.8zM151.0 205.1h.8v.8h-.8zM157.9 201.8h.8v.8h-.8zM176.9 204.8h.8v.8h-.8zM157.6 200.9h.8v.8h-.8zM164.6 203.5h.8v.8h-.8zM168.5 206.4h.8v.8h-.8zM153.8 196.3h.8v.8h-.8z"/><path fill="#4a62cc" d="M154.2 197.1h.8v.8h-.8zM151.9 206.2h.8v.8h-.8zM176.9 205.1h.8v.8h-.8zM157.1 204.6h.8v.8h-.8zM160.0 205.6h.8v.8h-.8zM156.5 199.1h.8v.8h-.8zM158.1 202.2h.8v.8h-.8zM174.4 200.4h.8v.8h-.8zM171.3 199.0h.8v.8h-.8zM171.5 205.5h.8v.8h-.8zM165.5 200.6h.8v.8h-.8zM162.7 201.0h.8v.8h-.8zM163.1 200.9h.8v.8h-.8zM156.0 199.2h.8v.8h-.8zM169.8 204.3h.8v.8h-.8zM172.4 199.8h.8v.8h-.8zM157.4 202.4h.8v.8h-.8zM157.6 198.8h.8v.8h-.8zM147.0 195.6h.8v.8h-.8zM153.7 196.6h.8v.8h-.8zM153.6 196.8h.8v.8h-.8zM151.2 195.3h.8v.8h-.8zM177.5 202.4h.8v.8h-.8zM162.6 200.9h.8v.8h-.8zM165.8 200.1h.8v.8h-.8zM168.0 198.8h.8v.8h-.8zM170.3 205.8h.8v.8h-.8zM169.4 204.0h.8v.8h-.8zM167.2 204.6h.8v.8h-.8zM156.4 199.6h.8v.8h-.8zM144.5 200.2h.8v.8h-.8zM146.6 204.2h.8v.8h-.8zM159.5 205.4h.8v.8h-.8zM164.8 202.8h.8v.8h-.8zM160.4 201.2h.8v.8h-.8zM157.6 205.4h.8v.8h-.8zM163.1 203.7h.8v.8h-.8zM169.9 199.1h.8v.8h-.8zM153.7 206.1h.8v.8h-.8zM177.4 201.8h.8v.8h-.8zM176.7 205.0h.8v.8h-.8zM166.8 204.1h.8v.8h-.8zM149.8 204.5h.8v.8h-.8zM170.9 199.6h.8v.8h-.8zM157.5 204.8h.8v.8h-.8zM163.1 201.3h.8v.8h-.8zM176.9 201.1h.8v.8h-.8zM174.7 204.8h.8v.8h-.8zM169.1 204.9h.8v.8h-.8zM172.3 199.9h.8v.8h-.8zM159.6 202.0h.8v.8h-.8zM165.9 201.1h.8v.8h-.8zM149.6 194.7h.8v.8h-.8zM144.8 201.1h.8v.8h-.8zM151.4 195.6h.8v.8h-.8zM151.8 204.5h.8v.8h-.8zM165.5 202.0h.8v.8h-.8zM165.2 203.3h.8v.8h-.8zM176.2 205.2h.8v.8h-.8zM167.6 204.6h.8v.8h-.8zM162.4 203.2h.8v.8h-.8zM167.5 199.9h.8v.8h-.8zM149.3 204.6h.8v.8h-.8zM157.0 202.2h.8v.8h-.8zM162.8 203.7h.8v.8h-.8zM155.6 199.0h.8v.8h-.8zM166.7 203.8h.8v.8h-.8zM169.0 203.4h.8v.8h-.8zM160.8 200.1h.8v.8h-.8zM172.1 200.1h.8v.8h-.8zM153.1 204.8h.8v.8h-.8zM146.2 197.0h.8v.8h-.8zM146.1 197.0h.8v.8h-.8zM147.3 204.3h.8v.8h-.8zM155.3 198.9h.8v.8h-.8zM177.4 202.6h.8v.8h-.8zM162.6 201.7h.8v.8h-.8zM168.4 199.3h.8v.8h-.8zM165.7 203.3h.8v.8h-.8zM171.2 204.5h.8v.8h-.8zM176.5 201.0h.8v.8h-.8zM162.5 203.1h.8v.8h-.8zM168.2 204.3h.8v.8h-.8zM177.0 201.9h.8v.8h-.8zM171.9 204.8h.8v.8h-.8zM153.9 205.2h.8v.8h-.8zM161.4 200.8h.8v.8h-.8zM150.6 195.7h.8v.8h-.8zM152.9 197.4h.8v.8h-.8zM176.8 201.9h.8v.8h-.8zM164.5 201.5h.8v.8h-.8zM168.1 199.9h.8v.8h-.8zM164.2 202.2h.8v.8h-.8zM165.0 201.5h.8v.8h-.8zM158.2 204.9h.8v.8h-.8zM177.0 202.6h.8v.8h-.8zM171.5 200.4h.8v.8h-.8zM176.6 204.2h.8v.8h-.8zM171.6 200.5h.8v.8h-.8zM158.2 204.8h.8v.8h-.8zM146.4 197.0h.8v.8h-.8zM152.7 197.5h.8v.8h-.8zM147.7 204.1h.8v.8h-.8zM152.6 197.1h.8v.8h-.8zM169.2 203.2h.8v.8h-.8zM175.4 204.9h.8v.8h-.8zM154.4 205.1h.8v.8h-.8zM172.6 201.2h.8v.8h-.8zM170.2 199.9h.8v.8h-.8zM175.0 204.3h.8v.8h-.8zM171.0 202.5h.8v.8h-.8zM161.8 201.7h.8v.8h-.8zM170.4 203.0h.8v.8h-.8zM165.5 202.5h.8v.8h-.8zM177.0 203.1h.8v.8h-.8zM156.8 204.1h.8v.8h-.8zM174.5 201.0h.8v.8h-.8zM146.0 202.9h.8v.8h-.8zM144.9 199.2h.8v.8h-.8zM152.0 197.5h.8v.8h-.8zM145.3 202.0h.8v.8h-.8zM156.4 203.7h.8v.8h-.8zM167.1 200.4h.8v.8h-.8zM172.4 204.2h.8v.8h-.8zM171.8 204.1h.8v.8h-.8zM160.2 203.9h.8v.8h-.8zM174.0 201.5h.8v.8h-.8zM166.9 203.6h.8v.8h-.8zM171.7 201.3h.8v.8h-.8zM161.6 202.3h.8v.8h-.8zM159.5 203.2h.8v.8h-.8zM166.2 202.5h.8v.8h-.8zM153.7 198.9h.8v.8h-.8zM170.0 200.4h.8v.8h-.8zM167.3 203.2h.8v.8h-.8zM158.6 204.9h.8v.8h-.8zM155.9 204.5h.8v.8h-.8zM166.8 203.5h.8v.8h-.8zM161.0 203.6h.8v.8h-.8zM147.9 204.1h.8v.8h-.8zM145.1 199.0h.8v.8h-.8zM148.4 196.0h.8v.8h-.8zM146.3 197.5h.8v.8h-.8zM150.6 196.0h.8v.8h-.8zM150.6 196.3h.8v.8h-.8zM150.7 203.8h.8v.8h-.8zM166.8 201.6h.8v.8h-.8zM159.1 204.5h.8v.8h-.8zM158.9 203.6h.8v.8h-.8zM149.9 204.2h.8v.8h-.8zM161.2 203.3h.8v.8h-.8zM160.1 203.0h.8v.8h-.8zM162.1 202.5h.8v.8h-.8zM161.1 203.5h.8v.8h-.8zM171.0 203.5h.8v.8h-.8zM159.5 202.4h.8v.8h-.8zM153.7 198.1h.8v.8h-.8zM173.0 203.8h.8v.8h-.8zM169.3 201.0h.8v.8h-.8zM171.6 203.5h.8v.8h-.8zM168.1 201.1h.8v.8h-.8zM159.1 204.3h.8v.8h-.8zM155.0 204.9h.8v.8h-.8zM158.7 203.4h.8v.8h-.8zM174.7 202.1h.8v.8h-.8zM155.4 204.5h.8v.8h-.8zM149.0 204.0h.8v.8h-.8zM173.6 204.3h.8v.8h-.8zM174.5 204.2h.8v.8h-.8zM175.4 201.1h.8v.8h-.8zM161.7 202.3h.8v.8h-.8zM168.2 201.4h.8v.8h-.8zM172.0 201.6h.8v.8h-.8zM168.8 201.6h.8v.8h-.8zM172.4 204.1h.8v.8h-.8zM154.4 204.4h.8v.8h-.8zM171.5 201.8h.8v.8h-.8zM173.7 201.6h.8v.8h-.8zM159.8 204.0h.8v.8h-.8zM155.7 201.0h.8v.8h-.8zM171.3 202.5h.8v.8h-.8zM149.3 195.7h.8v.8h-.8z"/><path fill="#3c9ec4" d="M145.5 200.7h.8v.8h-.8zM148.4 196.4h.8v.8h-.8zM151.8 196.8h.8v.8h-.8zM160.0 204.3h.8v.8h-.8zM154.8 204.9h.8v.8h-.8zM174.4 204.1h.8v.8h-.8zM168.1 203.0h.8v.8h-.8zM155.9 201.7h.8v.8h-.8zM176.7 203.3h.8v.8h-.8zM159.8 203.9h.8v.8h-.8zM169.0 200.0h.8v.8h-.8zM155.8 203.7h.8v.8h-.8zM166.4 201.7h.8v.8h-.8zM174.9 202.1h.8v.8h-.8zM168.0 201.3h.8v.8h-.8zM173.8 204.0h.8v.8h-.8zM167.8 202.0h.8v.8h-.8zM168.7 200.3h.8v.8h-.8zM168.5 203.2h.8v.8h-.8zM169.2 200.0h.8v.8h-.8zM168.9 201.6h.8v.8h-.8zM146.0 198.2h.8v.8h-.8zM152.1 197.1h.8v.8h-.8zM150.1 196.2h.8v.8h-.8zM147.5 196.6h.8v.8h-.8zM154.9 201.0h.8v.8h-.8zM168.0 202.0h.8v.8h-.8zM155.2 203.6h.8v.8h-.8zM150.0 203.8h.8v.8h-.8zM154.7 204.3h.8v.8h-.8zM170.2 201.6h.8v.8h-.8zM172.5 201.9h.8v.8h-.8zM160.4 203.1h.8v.8h-.8zM176.5 202.5h.8v.8h-.8zM161.3 202.8h.8v.8h-.8zM171.3 202.9h.8v.8h-.8zM155.0 201.2h.8v.8h-.8zM146.5 203.2h.8v.8h-.8zM149.0 196.0h.8v.8h-.8zM154.2 199.7h.8v.8h-.8zM152.4 198.4h.8v.8h-.8zM151.4 197.1h.8v.8h-.8zM146.6 197.5h.8v.8h-.8zM172.5 203.5h.8v.8h-.8zM169.0 200.5h.8v.8h-.8zM175.4 201.7h.8v.8h-.8zM175.9 204.0h.8v.8h-.8zM154.9 203.9h.8v.8h-.8zM155.3 201.7h.8v.8h-.8zM169.0 200.4h.8v.8h-.8zM153.2 203.8h.8v.8h-.8zM151.8 203.1h.8v.8h-.8zM169.9 201.5h.8v.8h-.8zM175.1 204.0h.8v.8h-.8zM149.6 196.5h.8v.8h-.8zM153.8 199.9h.8v.8h-.8zM153.6 199.5h.8v.8h-.8zM172.1 202.1h.8v.8h-.8zM170.8 201.1h.8v.8h-.8zM174.4 202.4h.8v.8h-.8zM155.5 203.1h.8v.8h-.8zM173.6 203.0h.8v.8h-.8zM155.3 202.5h.8v.8h-.8zM148.1 196.5h.8v.8h-.8zM153.1 199.6h.8v.8h-.8zM153.1 202.5h.8v.8h-.8zM153.1 202.4h.8v.8h-.8zM172.9 203.3h.8v.8h-.8zM154.7 200.7h.8v.8h-.8zM174.9 202.7h.8v.8h-.8zM173.2 203.4h.8v.8h-.8zM155.2 200.5h.8v.8h-.8zM146.8 203.0h.8v.8h-.8zM153.5 199.8h.8v.8h-.8zM153.5 203.5h.8v.8h-.8zM153.6 203.8h.8v.8h-.8zM175.9 201.6h.8v.8h-.8zM174.7 202.6h.8v.8h-.8zM151.9 202.7h.8v.8h-.8zM174.4 202.8h.8v.8h-.8zM175.6 203.2h.8v.8h-.8zM175.7 202.1h.8v.8h-.8zM153.3 199.9h.8v.8h-.8zM154.2 200.2h.8v.8h-.8zM152.6 202.4h.8v.8h-.8zM173.3 202.6h.8v.8h-.8zM150.6 203.3h.8v.8h-.8zM151.0 202.6h.8v.8h-.8zM153.0 202.6h.8v.8h-.8zM152.3 200.4h.8v.8h-.8zM175.0 202.9h.8v.8h-.8zM154.1 202.9h.8v.8h-.8zM152.2 202.6h.8v.8h-.8zM150.5 202.8h.8v.8h-.8zM155.0 203.2h.8v.8h-.8zM152.2 198.7h.8v.8h-.8zM154.9 202.1h.8v.8h-.8zM154.6 202.9h.8v.8h-.8zM149.7 203.0h.8v.8h-.8zM151.2 198.4h.8v.8h-.8zM150.3 197.2h.8v.8h-.8zM145.9 199.2h.8v.8h-.8zM151.8 198.8h.8v.8h-.8zM152.3 200.4h.8v.8h-.8zM153.6 201.0h.8v.8h-.8zM154.1 203.2h.8v.8h-.8zM154.4 201.5h.8v.8h-.8zM153.6 202.3h.8v.8h-.8zM151.6 201.9h.8v.8h-.8zM154.3 202.2h.8v.8h-.8z"/><path fill="#58ba5c" d="M146.0 200.4h.8v.8h-.8zM151.8 199.4h.8v.8h-.8zM149.0 196.9h.8v.8h-.8zM148.0 196.9h.8v.8h-.8zM151.0 202.3h.8v.8h-.8zM153.8 201.0h.8v.8h-.8zM153.7 201.9h.8v.8h-.8zM145.8 200.8h.8v.8h-.8zM148.3 197.2h.8v.8h-.8zM154.0 201.6h.8v.8h-.8zM151.0 198.4h.8v.8h-.8zM152.6 200.6h.8v.8h-.8zM148.4 203.4h.8v.8h-.8zM146.4 198.9h.8v.8h-.8zM145.9 199.6h.8v.8h-.8zM147.9 202.9h.8v.8h-.8zM152.7 200.9h.8v.8h-.8zM149.2 197.0h.8v.8h-.8zM146.7 198.5h.8v.8h-.8zM150.3 197.2h.8v.8h-.8zM151.7 199.5h.8v.8h-.8zM147.2 202.7h.8v.8h-.8zM147.0 202.6h.8v.8h-.8zM146.9 202.5h.8v.8h-.8zM152.0 201.0h.8v.8h-.8zM146.9 198.3h.8v.8h-.8zM147.2 197.9h.8v.8h-.8zM146.2 199.5h.8v.8h-.8zM151.4 200.5h.8v.8h-.8zM152.3 200.9h.8v.8h-.8zM150.3 202.2h.8v.8h-.8zM148.4 202.9h.8v.8h-.8zM151.3 200.0h.8v.8h-.8zM151.2 201.4h.8v.8h-.8zM146.8 198.9h.8v.8h-.8zM146.5 200.4h.8v.8h-.8zM147.1 202.4h.8v.8h-.8zM150.5 201.9h.8v.8h-.8zM150.5 201.9h.8v.8h-.8zM149.8 198.3h.8v.8h-.8zM146.8 199.7h.8v.8h-.8zM146.8 198.9h.8v.8h-.8zM151.1 199.9h.8v.8h-.8zM149.9 197.7h.8v.8h-.8zM150.7 201.7h.8v.8h-.8zM148.4 202.8h.8v.8h-.8zM148.3 198.1h.8v.8h-.8zM146.3 201.3h.8v.8h-.8zM150.6 199.1h.8v.8h-.8zM149.7 197.3h.8v.8h-.8z"/><path fill="#cace3a" d="M148.0 202.4h.8v.8h-.8zM146.9 201.0h.8v.8h-.8zM149.2 197.8h.8v.8h-.8zM149.2 202.4h.8v.8h-.8zM146.7 200.9h.8v.8h-.8zM146.9 201.1h.8v.8h-.8zM146.9 199.9h.8v.8h-.8zM149.0 197.8h.8v.8h-.8zM148.4 197.9h.8v.8h-.8zM148.7 202.3h.8v.8h-.8zM147.8 198.6h.8v.8h-.8zM150.8 201.2h.8v.8h-.8zM147.4 202.0h.8v.8h-.8zM148.8 198.5h.8v.8h-.8zM149.2 202.4h.8v.8h-.8zM146.6 201.4h.8v.8h-.8zM150.5 198.8h.8v.8h-.8zM150.6 200.8h.8v.8h-.8zM150.0 201.7h.8v.8h-.8zM150.3 201.5h.8v.8h-.8zM149.0 202.5h.8v.8h-.8zM147.8 202.1h.8v.8h-.8zM147.2 200.5h.8v.8h-.8zM149.7 198.6h.8v.8h-.8zM147.0 200.6h.8v.8h-.8zM149.6 198.5h.8v.8h-.8zM147.9 202.0h.8v.8h-.8zM148.5 198.5h.8v.8h-.8zM148.1 198.6h.8v.8h-.8zM148.6 198.3h.8v.8h-.8zM147.9 201.8h.8v.8h-.8zM150.1 200.4h.8v.8h-.8zM150.2 199.1h.8v.8h-.8zM150.4 200.5h.8v.8h-.8zM148.7 198.5h.8v.8h-.8zM150.1 199.6h.8v.8h-.8zM149.9 198.8h.8v.8h-.8zM148.6 198.4h.8v.8h-.8zM150.0 199.1h.8v.8h-.8zM148.0 198.4h.8v.8h-.8zM149.9 200.4h.8v.8h-.8zM150.8 199.9h.8v.8h-.8zM148.8 201.9h.8v.8h-.8zM147.6 201.8h.8v.8h-.8zM147.2 199.6h.8v.8h-.8zM147.3 201.6h.8v.8h-.8zM147.9 199.2h.8v.8h-.8zM149.7 201.1h.8v.8h-.8zM150.4 200.7h.8v.8h-.8zM149.7 199.9h.8v.8h-.8z"/><path fill="#ee8c28" d="M147.6 200.8h.8v.8h-.8zM147.8 198.9h.8v.8h-.8zM147.4 199.6h.8v.8h-.8zM148.3 201.5h.8v.8h-.8zM148.9 199.1h.8v.8h-.8zM149.8 200.5h.8v.8h-.8zM147.5 200.5h.8v.8h-.8zM149.3 199.1h.8v.8h-.8zM148.4 201.5h.8v.8h-.8zM149.3 201.6h.8v.8h-.8zM149.4 200.9h.8v.8h-.8zM149.6 199.7h.8v.8h-.8zM148.1 201.3h.8v.8h-.8zM149.0 199.4h.8v.8h-.8zM148.1 201.4h.8v.8h-.8zM149.2 200.4h.8v.8h-.8zM147.4 199.7h.8v.8h-.8zM148.1 200.5h.8v.8h-.8zM149.4 199.2h.8v.8h-.8zM149.2 201.0h.8v.8h-.8z"/><path fill="#dc2e1e" d="M147.5 200.1h.8v.8h-.8zM149.1 200.3h.8v.8h-.8zM149.1 200.8h.8v.8h-.8zM148.4 201.0h.8v.8h-.8zM148.5 200.8h.8v.8h-.8zM148.6 199.7h.8v.8h-.8zM148.9 201.0h.8v.8h-.8zM147.7 200.2h.8v.8h-.8zM149.3 199.9h.8v.8h-.8z"/></g>
<rect x="153.60" y="174.30" width="19.60" height="18.90" fill="none" stroke="#1a1a1a" stroke-width="1.1"/>
<rect x="145.30" y="193.30" width="9.80" height="9.90" fill="none" stroke="#1a1a1a" stroke-width="1.1"/>
<rect x="134.70" y="162.30" width="56.00" height="55.30" fill="none" stroke="#1a1a1a" stroke-width="1.1"/>
<text x="170.00" y="172.00" font-size="5.0" text-anchor="middle" textLength="13.00" lengthAdjust="spacingAndGlyphs" fill="#333">1.16%</text>
<text x="155.50" y="212.00" font-size="5.0" text-anchor="middle" textLength="13.00" lengthAdjust="spacingAndGlyphs" fill="#333">57.9%</text>
<text x="221.60" y="158.00" font-size="7.6" text-anchor="middle" textLength="17.60" lengthAdjust="spacingAndGlyphs" stroke="#231f20" stroke-width="0.142">Day6</text>
<g opacity="0.8"><path fill="#7482d6" d="M202.1 202.6h.8v.8h-.8zM200.2 204.4h.8v.8h-.8zM234.3 205.5h.8v.8h-.8zM230.3 190.1h.8v.8h-.8zM243.9 196.3h.8v.8h-.8zM200.7 199.3h.8v.8h-.8zM237.3 199.5h.8v.8h-.8zM200.1 194.8h.8v.8h-.8zM215.7 210.9h.8v.8h-.8zM209.4 190.9h.8v.8h-.8zM210.9 210.0h.8v.8h-.8zM232.0 205.9h.8v.8h-.8zM236.9 207.8h.8v.8h-.8zM196.0 201.5h.8v.8h-.8zM195.9 204.6h.8v.8h-.8zM212.1 187.5h.8v.8h-.8zM213.7 182.9h.8v.8h-.8zM220.7 190.5h.8v.8h-.8zM213.7 190.0h.8v.8h-.8zM233.1 185.8h.8v.8h-.8zM211.1 181.0h.8v.8h-.8zM209.2 183.9h.8v.8h-.8zM236.0 185.9h.8v.8h-.8zM241.0 181.5h.8v.8h-.8zM226.0 181.6h.8v.8h-.8zM238.1 189.2h.8v.8h-.8zM227.2 184.8h.8v.8h-.8zM224.2 188.9h.8v.8h-.8zM236.7 195.4h.8v.8h-.8zM211.0 185.3h.8v.8h-.8zM209.6 188.2h.8v.8h-.8zM232.8 197.0h.8v.8h-.8zM231.6 201.8h.8v.8h-.8zM226.2 187.6h.8v.8h-.8zM217.5 190.1h.8v.8h-.8zM215.2 180.4h.8v.8h-.8zM210.4 188.9h.8v.8h-.8zM226.0 191.9h.8v.8h-.8zM234.8 181.2h.8v.8h-.8zM234.5 183.1h.8v.8h-.8zM223.4 181.5h.8v.8h-.8zM229.6 204.2h.8v.8h-.8zM217.9 195.0h.8v.8h-.8zM218.8 193.7h.8v.8h-.8zM230.2 203.5h.8v.8h-.8zM231.2 196.2h.8v.8h-.8zM221.0 193.8h.8v.8h-.8zM219.5 209.1h.8v.8h-.8zM223.1 193.7h.8v.8h-.8zM228.8 193.5h.8v.8h-.8zM229.4 193.2h.8v.8h-.8zM228.8 186.4h.8v.8h-.8zM230.2 193.8h.8v.8h-.8zM214.4 186.9h.8v.8h-.8zM228.7 186.5h.8v.8h-.8zM206.8 191.0h.8v.8h-.8zM226.9 188.8h.8v.8h-.8zM216.3 186.2h.8v.8h-.8zM207.3 192.0h.8v.8h-.8zM220.5 183.3h.8v.8h-.8zM207.4 192.2h.8v.8h-.8zM228.6 188.9h.8v.8h-.8zM225.0 192.2h.8v.8h-.8zM220.8 183.7h.8v.8h-.8zM229.1 197.5h.8v.8h-.8zM230.0 196.6h.8v.8h-.8zM226.0 195.3h.8v.8h-.8zM226.9 195.7h.8v.8h-.8zM226.5 196.0h.8v.8h-.8zM221.3 195.3h.8v.8h-.8zM231.3 200.8h.8v.8h-.8zM223.6 193.0h.8v.8h-.8zM222.1 192.4h.8v.8h-.8zM214.8 187.8h.8v.8h-.8zM216.2 188.7h.8v.8h-.8zM226.8 195.6h.8v.8h-.8zM219.3 183.6h.8v.8h-.8zM214.5 187.7h.8v.8h-.8zM217.3 187.0h.8v.8h-.8zM219.8 187.0h.8v.8h-.8zM224.9 184.9h.8v.8h-.8zM230.0 187.6h.8v.8h-.8zM223.2 183.3h.8v.8h-.8zM224.3 185.5h.8v.8h-.8zM203.2 200.0h.8v.8h-.8zM207.4 194.9h.8v.8h-.8zM230.6 199.8h.8v.8h-.8zM230.7 198.9h.8v.8h-.8zM215.4 191.7h.8v.8h-.8zM215.9 208.9h.8v.8h-.8zM223.7 197.1h.8v.8h-.8zM224.3 198.4h.8v.8h-.8zM218.5 181.1h.8v.8h-.8zM217.2 181.7h.8v.8h-.8zM219.2 185.7h.8v.8h-.8zM224.2 184.9h.8v.8h-.8zM217.7 181.1h.8v.8h-.8zM218.6 181.6h.8v.8h-.8zM224.3 184.0h.8v.8h-.8zM206.9 195.2h.8v.8h-.8zM227.3 208.6h.8v.8h-.8zM204.9 208.6h.8v.8h-.8zM226.2 199.3h.8v.8h-.8zM229.2 203.1h.8v.8h-.8zM228.5 206.7h.8v.8h-.8zM228.9 198.8h.8v.8h-.8zM216.9 192.2h.8v.8h-.8zM218.7 185.4h.8v.8h-.8zM217.7 185.6h.8v.8h-.8zM217.0 181.2h.8v.8h-.8zM218.5 185.9h.8v.8h-.8zM208.7 208.0h.8v.8h-.8zM224.8 200.2h.8v.8h-.8zM227.4 199.1h.8v.8h-.8zM216.7 198.1h.8v.8h-.8zM222.2 200.1h.8v.8h-.8zM223.3 200.6h.8v.8h-.8zM216.7 197.5h.8v.8h-.8zM226.4 199.9h.8v.8h-.8zM229.2 198.3h.8v.8h-.8zM216.8 197.8h.8v.8h-.8zM223.4 201.9h.8v.8h-.8zM222.9 198.5h.8v.8h-.8zM222.1 197.3h.8v.8h-.8zM225.6 201.8h.8v.8h-.8zM228.4 202.1h.8v.8h-.8zM221.8 200.0h.8v.8h-.8zM221.3 197.3h.8v.8h-.8zM220.5 196.2h.8v.8h-.8zM217.0 193.3h.8v.8h-.8zM212.2 193.3h.8v.8h-.8zM204.5 200.7h.8v.8h-.8zM204.4 198.8h.8v.8h-.8zM211.7 207.3h.8v.8h-.8zM217.6 208.2h.8v.8h-.8zM228.3 201.7h.8v.8h-.8zM215.3 196.3h.8v.8h-.8zM214.9 195.9h.8v.8h-.8zM215.0 200.4h.8v.8h-.8zM215.3 200.2h.8v.8h-.8zM218.8 197.3h.8v.8h-.8zM221.3 202.1h.8v.8h-.8zM227.3 200.5h.8v.8h-.8zM222.3 201.0h.8v.8h-.8zM225.5 199.9h.8v.8h-.8zM218.8 197.7h.8v.8h-.8zM214.8 196.0h.8v.8h-.8zM204.7 200.8h.8v.8h-.8zM209.5 194.6h.8v.8h-.8zM209.6 194.6h.8v.8h-.8zM214.1 193.5h.8v.8h-.8zM227.4 207.8h.8v.8h-.8zM219.7 197.0h.8v.8h-.8zM213.9 202.3h.8v.8h-.8zM219.9 197.2h.8v.8h-.8zM212.1 193.3h.8v.8h-.8zM217.5 198.5h.8v.8h-.8zM221.8 196.9h.8v.8h-.8zM215.6 192.9h.8v.8h-.8zM217.7 206.9h.8v.8h-.8zM215.6 192.7h.8v.8h-.8zM215.7 192.9h.8v.8h-.8zM228.0 202.2h.8v.8h-.8zM215.7 194.4h.8v.8h-.8zM214.4 194.1h.8v.8h-.8zM210.8 193.5h.8v.8h-.8zM210.4 194.3h.8v.8h-.8zM222.9 203.4h.8v.8h-.8zM212.5 207.2h.8v.8h-.8zM227.2 207.8h.8v.8h-.8zM217.1 207.4h.8v.8h-.8zM223.1 203.4h.8v.8h-.8zM221.9 201.9h.8v.8h-.8zM214.2 201.4h.8v.8h-.8zM215.1 201.0h.8v.8h-.8zM215.2 201.0h.8v.8h-.8zM214.5 194.3h.8v.8h-.8zM220.6 198.1h.8v.8h-.8zM214.7 201.2h.8v.8h-.8zM220.6 198.2h.8v.8h-.8z"/><path fill="#4a62cc" d="M214.1 198.4h.8v.8h-.8zM210.5 194.3h.8v.8h-.8zM227.0 207.6h.8v.8h-.8zM227.0 202.5h.8v.8h-.8zM220.7 201.4h.8v.8h-.8zM213.3 201.6h.8v.8h-.8zM219.6 202.3h.8v.8h-.8zM220.5 201.6h.8v.8h-.8zM218.6 198.1h.8v.8h-.8zM214.3 198.3h.8v.8h-.8zM215.7 198.2h.8v.8h-.8zM226.8 201.3h.8v.8h-.8zM218.6 206.7h.8v.8h-.8zM210.0 202.5h.8v.8h-.8zM205.4 208.1h.8v.8h-.8zM218.4 198.6h.8v.8h-.8zM220.0 199.8h.8v.8h-.8zM218.8 200.1h.8v.8h-.8zM214.6 198.5h.8v.8h-.8zM217.4 201.6h.8v.8h-.8zM220.4 207.9h.8v.8h-.8zM217.8 200.8h.8v.8h-.8zM226.9 202.4h.8v.8h-.8zM214.1 198.2h.8v.8h-.8zM211.9 193.8h.8v.8h-.8zM213.8 198.1h.8v.8h-.8zM210.8 202.6h.8v.8h-.8zM220.1 207.7h.8v.8h-.8zM211.5 202.2h.8v.8h-.8zM216.3 207.4h.8v.8h-.8zM215.1 207.4h.8v.8h-.8zM225.6 202.6h.8v.8h-.8zM216.9 207.1h.8v.8h-.8zM218.4 199.8h.8v.8h-.8zM218.8 202.2h.8v.8h-.8zM217.5 201.6h.8v.8h-.8zM216.2 202.7h.8v.8h-.8zM227.0 202.8h.8v.8h-.8zM218.1 200.8h.8v.8h-.8zM224.2 207.5h.8v.8h-.8zM213.2 194.7h.8v.8h-.8zM206.6 202.3h.8v.8h-.8zM204.8 200.0h.8v.8h-.8zM205.2 200.5h.8v.8h-.8zM214.2 196.9h.8v.8h-.8zM202.9 205.0h.8v.8h-.8zM206.2 202.5h.8v.8h-.8zM214.7 203.5h.8v.8h-.8zM220.5 203.5h.8v.8h-.8zM225.6 207.7h.8v.8h-.8zM218.2 206.4h.8v.8h-.8zM212.8 206.9h.8v.8h-.8zM226.3 207.1h.8v.8h-.8zM227.3 204.0h.8v.8h-.8zM227.1 205.0h.8v.8h-.8zM219.3 202.2h.8v.8h-.8zM210.9 202.6h.8v.8h-.8zM214.6 199.8h.8v.8h-.8zM218.2 201.2h.8v.8h-.8zM218.2 204.6h.8v.8h-.8zM214.3 197.9h.8v.8h-.8zM219.5 200.3h.8v.8h-.8zM218.2 201.3h.8v.8h-.8zM205.5 202.4h.8v.8h-.8zM213.6 194.6h.8v.8h-.8zM207.1 202.4h.8v.8h-.8zM202.9 205.7h.8v.8h-.8zM225.1 206.9h.8v.8h-.8zM217.7 204.0h.8v.8h-.8zM218.1 204.5h.8v.8h-.8zM226.7 204.5h.8v.8h-.8zM216.7 206.9h.8v.8h-.8zM206.8 196.0h.8v.8h-.8zM212.4 199.7h.8v.8h-.8zM209.5 203.6h.8v.8h-.8zM214.2 200.2h.8v.8h-.8zM217.8 204.7h.8v.8h-.8zM217.4 203.9h.8v.8h-.8zM215.1 202.7h.8v.8h-.8zM218.5 200.4h.8v.8h-.8zM218.4 201.0h.8v.8h-.8zM224.5 203.5h.8v.8h-.8zM213.0 206.7h.8v.8h-.8zM225.5 206.7h.8v.8h-.8zM217.6 203.7h.8v.8h-.8zM215.8 203.4h.8v.8h-.8zM214.7 207.1h.8v.8h-.8zM226.7 204.8h.8v.8h-.8zM213.1 199.4h.8v.8h-.8zM211.9 201.5h.8v.8h-.8zM221.3 207.6h.8v.8h-.8zM222.6 207.4h.8v.8h-.8zM226.9 205.2h.8v.8h-.8zM226.6 206.6h.8v.8h-.8zM212.2 200.4h.8v.8h-.8zM212.7 203.4h.8v.8h-.8zM219.0 201.4h.8v.8h-.8zM211.7 200.3h.8v.8h-.8zM204.0 203.8h.8v.8h-.8zM205.9 201.6h.8v.8h-.8zM208.5 202.0h.8v.8h-.8zM215.7 206.6h.8v.8h-.8zM215.8 206.3h.8v.8h-.8zM215.1 206.6h.8v.8h-.8zM212.7 206.6h.8v.8h-.8zM216.6 203.8h.8v.8h-.8zM225.2 203.8h.8v.8h-.8zM224.8 206.6h.8v.8h-.8zM225.9 206.8h.8v.8h-.8zM217.0 203.3h.8v.8h-.8zM212.6 195.0h.8v.8h-.8zM211.6 201.6h.8v.8h-.8zM212.0 199.1h.8v.8h-.8zM206.0 197.3h.8v.8h-.8zM208.5 201.7h.8v.8h-.8zM222.2 207.2h.8v.8h-.8zM222.6 207.1h.8v.8h-.8zM223.1 206.5h.8v.8h-.8zM219.5 206.9h.8v.8h-.8zM203.5 206.6h.8v.8h-.8zM220.9 204.0h.8v.8h-.8zM224.1 204.1h.8v.8h-.8zM216.2 203.7h.8v.8h-.8zM219.8 204.3h.8v.8h-.8zM223.5 205.4h.8v.8h-.8zM220.8 204.0h.8v.8h-.8zM220.6 204.7h.8v.8h-.8zM226.3 203.9h.8v.8h-.8zM225.7 206.6h.8v.8h-.8zM220.7 207.3h.8v.8h-.8zM224.6 204.8h.8v.8h-.8z"/><path fill="#3c9ec4" d="M211.7 199.7h.8v.8h-.8zM213.0 197.2h.8v.8h-.8zM214.3 204.3h.8v.8h-.8zM212.0 203.5h.8v.8h-.8zM219.4 205.0h.8v.8h-.8zM222.7 206.7h.8v.8h-.8zM214.4 204.8h.8v.8h-.8zM210.6 206.1h.8v.8h-.8zM219.7 205.9h.8v.8h-.8zM222.8 206.1h.8v.8h-.8zM224.7 205.0h.8v.8h-.8zM224.5 204.0h.8v.8h-.8zM211.7 199.7h.8v.8h-.8zM221.4 204.3h.8v.8h-.8zM216.3 203.8h.8v.8h-.8zM212.7 196.0h.8v.8h-.8zM212.3 195.4h.8v.8h-.8zM210.6 195.2h.8v.8h-.8zM212.1 195.4h.8v.8h-.8zM214.0 206.3h.8v.8h-.8zM225.4 204.6h.8v.8h-.8zM225.1 206.1h.8v.8h-.8zM210.9 206.4h.8v.8h-.8zM207.2 196.2h.8v.8h-.8zM214.2 205.1h.8v.8h-.8zM212.2 194.9h.8v.8h-.8zM206.5 201.2h.8v.8h-.8zM213.3 196.2h.8v.8h-.8zM204.2 207.3h.8v.8h-.8zM216.0 205.6h.8v.8h-.8zM220.7 206.9h.8v.8h-.8zM222.5 205.6h.8v.8h-.8zM214.9 205.4h.8v.8h-.8zM226.6 206.2h.8v.8h-.8zM214.9 205.6h.8v.8h-.8zM224.9 205.4h.8v.8h-.8zM203.9 207.0h.8v.8h-.8zM222.7 205.8h.8v.8h-.8zM214.5 204.5h.8v.8h-.8zM225.6 203.8h.8v.8h-.8zM213.6 205.4h.8v.8h-.8zM210.4 201.4h.8v.8h-.8zM209.5 206.5h.8v.8h-.8zM222.6 204.6h.8v.8h-.8zM220.8 207.0h.8v.8h-.8zM216.3 204.9h.8v.8h-.8zM204.6 203.8h.8v.8h-.8zM224.5 205.5h.8v.8h-.8zM225.6 204.6h.8v.8h-.8zM215.5 205.7h.8v.8h-.8zM216.8 205.2h.8v.8h-.8zM209.6 206.2h.8v.8h-.8zM213.6 206.0h.8v.8h-.8zM221.0 204.8h.8v.8h-.8zM226.1 204.4h.8v.8h-.8zM220.4 205.6h.8v.8h-.8zM225.8 204.7h.8v.8h-.8zM209.6 206.1h.8v.8h-.8zM214.7 205.7h.8v.8h-.8zM211.6 203.5h.8v.8h-.8zM222.3 204.8h.8v.8h-.8zM216.4 204.9h.8v.8h-.8zM212.0 204.0h.8v.8h-.8zM208.5 206.6h.8v.8h-.8zM225.6 204.7h.8v.8h-.8zM207.2 201.6h.8v.8h-.8zM215.8 204.2h.8v.8h-.8zM212.1 204.7h.8v.8h-.8zM203.5 205.5h.8v.8h-.8zM211.4 204.4h.8v.8h-.8zM222.3 206.5h.8v.8h-.8zM213.3 205.5h.8v.8h-.8zM224.3 206.0h.8v.8h-.8zM220.5 205.3h.8v.8h-.8zM211.7 204.4h.8v.8h-.8zM213.4 205.2h.8v.8h-.8zM219.8 205.3h.8v.8h-.8zM206.5 197.1h.8v.8h-.8zM203.8 204.5h.8v.8h-.8zM207.9 207.1h.8v.8h-.8zM221.6 204.6h.8v.8h-.8zM211.0 205.8h.8v.8h-.8zM222.4 205.7h.8v.8h-.8zM209.8 205.7h.8v.8h-.8zM210.7 204.1h.8v.8h-.8zM205.7 198.9h.8v.8h-.8zM212.3 196.5h.8v.8h-.8zM205.8 198.5h.8v.8h-.8zM206.2 198.1h.8v.8h-.8zM211.6 204.8h.8v.8h-.8zM210.9 204.2h.8v.8h-.8zM221.4 207.0h.8v.8h-.8zM225.6 205.2h.8v.8h-.8zM211.0 204.7h.8v.8h-.8zM212.3 204.6h.8v.8h-.8zM214.9 205.1h.8v.8h-.8zM212.1 204.8h.8v.8h-.8zM206.5 200.7h.8v.8h-.8zM210.9 205.2h.8v.8h-.8zM210.0 204.9h.8v.8h-.8zM208.7 196.3h.8v.8h-.8zM207.7 201.0h.8v.8h-.8zM206.4 197.4h.8v.8h-.8zM206.4 198.1h.8v.8h-.8zM207.7 201.1h.8v.8h-.8zM206.8 200.1h.8v.8h-.8zM212.5 197.0h.8v.8h-.8zM203.8 206.0h.8v.8h-.8zM220.4 205.9h.8v.8h-.8zM209.5 205.9h.8v.8h-.8zM212.9 204.8h.8v.8h-.8zM211.0 205.3h.8v.8h-.8zM221.7 206.5h.8v.8h-.8zM211.3 195.4h.8v.8h-.8zM211.8 198.8h.8v.8h-.8zM212.1 196.6h.8v.8h-.8zM210.5 200.5h.8v.8h-.8zM207.6 201.3h.8v.8h-.8zM211.3 206.0h.8v.8h-.8zM210.6 205.1h.8v.8h-.8zM220.9 205.5h.8v.8h-.8zM209.4 204.5h.8v.8h-.8zM210.9 204.7h.8v.8h-.8zM209.4 200.6h.8v.8h-.8zM212.0 196.5h.8v.8h-.8zM212.2 197.5h.8v.8h-.8zM206.3 200.0h.8v.8h-.8zM208.2 196.7h.8v.8h-.8zM206.8 200.0h.8v.8h-.8zM212.3 205.0h.8v.8h-.8zM211.1 199.9h.8v.8h-.8zM221.0 205.5h.8v.8h-.8z"/><path fill="#58ba5c" d="M212.1 196.2h.8v.8h-.8zM208.7 200.6h.8v.8h-.8zM211.6 196.1h.8v.8h-.8zM207.1 200.0h.8v.8h-.8zM206.7 203.4h.8v.8h-.8zM221.1 206.3h.8v.8h-.8zM206.3 199.2h.8v.8h-.8zM207.0 197.1h.8v.8h-.8zM203.9 205.6h.8v.8h-.8zM208.9 205.7h.8v.8h-.8zM221.2 205.6h.8v.8h-.8zM212.2 205.2h.8v.8h-.8zM221.4 205.7h.8v.8h-.8zM208.3 196.8h.8v.8h-.8zM212.0 196.8h.8v.8h-.8zM210.6 200.3h.8v.8h-.8zM208.7 200.5h.8v.8h-.8zM206.6 207.1h.8v.8h-.8zM208.2 204.5h.8v.8h-.8zM208.6 206.1h.8v.8h-.8zM209.2 200.5h.8v.8h-.8zM206.7 198.5h.8v.8h-.8zM207.3 200.0h.8v.8h-.8zM210.9 199.7h.8v.8h-.8zM207.0 197.7h.8v.8h-.8zM209.6 196.5h.8v.8h-.8zM205.7 203.7h.8v.8h-.8zM208.5 205.5h.8v.8h-.8zM210.6 196.0h.8v.8h-.8zM208.3 200.4h.8v.8h-.8zM206.9 197.8h.8v.8h-.8zM204.0 205.2h.8v.8h-.8zM210.5 200.2h.8v.8h-.8zM204.5 204.4h.8v.8h-.8zM207.0 197.9h.8v.8h-.8zM211.6 197.0h.8v.8h-.8zM207.0 197.9h.8v.8h-.8zM209.4 199.6h.8v.8h-.8zM212.0 197.9h.8v.8h-.8zM211.7 197.1h.8v.8h-.8zM208.1 206.5h.8v.8h-.8zM209.2 200.4h.8v.8h-.8zM211.0 196.7h.8v.8h-.8zM208.2 200.3h.8v.8h-.8zM207.1 199.7h.8v.8h-.8zM209.3 199.7h.8v.8h-.8zM204.1 205.7h.8v.8h-.8zM210.4 196.6h.8v.8h-.8zM209.2 200.3h.8v.8h-.8zM209.6 199.6h.8v.8h-.8zM210.5 196.6h.8v.8h-.8zM208.7 196.9h.8v.8h-.8zM211.3 198.4h.8v.8h-.8zM211.4 197.7h.8v.8h-.8zM204.3 205.9h.8v.8h-.8zM209.1 200.1h.8v.8h-.8zM210.7 197.0h.8v.8h-.8zM208.0 206.4h.8v.8h-.8zM205.7 207.0h.8v.8h-.8z"/><path fill="#cace3a" d="M207.3 199.0h.8v.8h-.8zM207.3 198.9h.8v.8h-.8zM210.9 197.2h.8v.8h-.8zM208.6 197.0h.8v.8h-.8zM207.9 197.4h.8v.8h-.8zM207.9 204.7h.8v.8h-.8zM205.9 206.9h.8v.8h-.8zM209.8 196.8h.8v.8h-.8zM210.7 197.1h.8v.8h-.8zM207.8 204.6h.8v.8h-.8zM207.9 204.8h.8v.8h-.8zM207.5 199.8h.8v.8h-.8zM208.6 197.3h.8v.8h-.8zM207.3 199.4h.8v.8h-.8zM208.2 204.9h.8v.8h-.8zM206.9 206.8h.8v.8h-.8zM208.3 205.5h.8v.8h-.8zM208.1 197.7h.8v.8h-.8zM210.4 197.8h.8v.8h-.8zM210.0 198.9h.8v.8h-.8zM207.7 204.7h.8v.8h-.8zM210.2 197.7h.8v.8h-.8zM208.0 199.8h.8v.8h-.8zM210.4 196.9h.8v.8h-.8zM207.8 198.3h.8v.8h-.8zM210.4 197.8h.8v.8h-.8zM208.2 198.0h.8v.8h-.8zM210.5 197.3h.8v.8h-.8zM207.9 198.0h.8v.8h-.8zM207.5 204.4h.8v.8h-.8zM210.4 197.3h.8v.8h-.8zM209.8 197.4h.8v.8h-.8zM210.2 198.7h.8v.8h-.8zM209.1 199.5h.8v.8h-.8zM208.5 197.5h.8v.8h-.8zM207.5 198.4h.8v.8h-.8zM207.8 198.0h.8v.8h-.8zM209.1 197.5h.8v.8h-.8zM205.2 204.2h.8v.8h-.8zM207.5 198.5h.8v.8h-.8zM209.8 198.7h.8v.8h-.8zM210.5 198.4h.8v.8h-.8zM210.3 198.5h.8v.8h-.8zM210.1 198.7h.8v.8h-.8zM207.8 205.0h.8v.8h-.8zM205.9 206.5h.8v.8h-.8z"/><path fill="#ee8c28" d="M209.3 198.4h.8v.8h-.8zM210.0 198.0h.8v.8h-.8zM207.7 198.8h.8v.8h-.8zM208.0 205.2h.8v.8h-.8zM205.5 206.5h.8v.8h-.8zM206.8 204.3h.8v.8h-.8zM207.0 204.6h.8v.8h-.8zM207.0 204.5h.8v.8h-.8zM209.6 197.6h.8v.8h-.8zM204.8 205.9h.8v.8h-.8zM204.9 205.0h.8v.8h-.8zM204.9 205.0h.8v.8h-.8zM204.8 206.1h.8v.8h-.8zM209.1 198.4h.8v.8h-.8zM209.5 198.1h.8v.8h-.8zM209.5 198.8h.8v.8h-.8zM209.7 198.3h.8v.8h-.8zM207.3 205.0h.8v.8h-.8zM207.6 205.2h.8v.8h-.8zM209.1 198.9h.8v.8h-.8zM206.5 206.5h.8v.8h-.8zM206.4 206.4h.8v.8h-.8zM207.5 205.5h.8v.8h-.8zM205.9 204.3h.8v.8h-.8zM205.6 204.5h.8v.8h-.8zM205.8 204.4h.8v.8h-.8zM209.0 199.2h.8v.8h-.8zM204.7 205.7h.8v.8h-.8zM204.9 205.9h.8v.8h-.8zM207.5 205.0h.8v.8h-.8zM209.1 198.6h.8v.8h-.8zM207.2 206.2h.8v.8h-.8z"/><path fill="#dc2e1e" d="M208.4 198.9h.8v.8h-.8zM205.2 205.8h.8v.8h-.8zM205.6 206.2h.8v.8h-.8zM205.2 205.8h.8v.8h-.8zM205.5 206.1h.8v.8h-.8zM205.2 205.6h.8v.8h-.8zM204.7 205.4h.8v.8h-.8zM205.2 205.2h.8v.8h-.8zM207.3 205.9h.8v.8h-.8zM207.3 205.4h.8v.8h-.8zM206.5 204.7h.8v.8h-.8zM206.3 206.1h.8v.8h-.8zM205.8 204.7h.8v.8h-.8zM205.5 205.6h.8v.8h-.8zM206.5 204.9h.8v.8h-.8zM205.5 205.0h.8v.8h-.8zM205.7 205.0h.8v.8h-.8zM205.9 205.6h.8v.8h-.8zM206.2 205.8h.8v.8h-.8zM206.2 205.4h.8v.8h-.8zM206.2 204.9h.8v.8h-.8zM206.1 205.3h.8v.8h-.8zM206.7 205.1h.8v.8h-.8zM206.4 206.0h.8v.8h-.8zM206.5 205.8h.8v.8h-.8zM206.5 205.6h.8v.8h-.8zM206.4 205.5h.8v.8h-.8zM205.9 205.0h.8v.8h-.8zM206.5 205.2h.8v.8h-.8zM206.7 205.8h.8v.8h-.8z"/></g>
<rect x="212.30" y="174.30" width="19.60" height="18.90" fill="none" stroke="#1a1a1a" stroke-width="1.1"/>
<rect x="204.00" y="193.30" width="9.80" height="9.90" fill="none" stroke="#1a1a1a" stroke-width="1.1"/>
<rect x="193.40" y="162.30" width="56.00" height="55.30" fill="none" stroke="#1a1a1a" stroke-width="1.1"/>
<text x="228.70" y="172.00" font-size="5.0" text-anchor="middle" textLength="13.00" lengthAdjust="spacingAndGlyphs" fill="#333">3.28%</text>
<text x="214.20" y="212.00" font-size="5.0" text-anchor="middle" textLength="13.00" lengthAdjust="spacingAndGlyphs" fill="#333">28.7%</text>
<text x="14.10" y="190.20" font-size="7.8" text-anchor="middle" textLength="21.60" lengthAdjust="spacingAndGlyphs" stroke="#231f20" stroke-width="0.146" transform="rotate(-90 14.10 190.20)">CD11b</text>
<text x="16.60" y="227.00" font-size="7.4" textLength="14.50" lengthAdjust="spacingAndGlyphs" stroke="#231f20" stroke-width="0.139">Ly6C</text>
<text x="24.60" y="239.20" font-size="7.4" textLength="107.40" lengthAdjust="spacingAndGlyphs" stroke="#231f20" stroke-width="0.139">Gated on Ccl2<tspan font-size="4.5" dy="-2.6">+</tspan><tspan dy="2.6">CD11b</tspan><tspan font-size="4.5" dy="-2.6">lo</tspan><tspan dy="2.6">Ly6C</tspan><tspan font-size="4.5" dy="-2.6">lo</tspan><tspan dy="2.6"> Cells</tspan></text>
<path d="M18.50,298.70 L18.75,298.70 L18.99,298.70 L19.24,298.70 L19.49,298.70 L19.74,298.70 L19.98,298.70 L20.23,298.70 L20.48,298.70 L20.73,298.70 L20.97,298.70 L21.22,298.70 L21.47,298.70 L21.71,298.70 L21.96,298.70 L22.21,298.69 L22.46,298.69 L22.70,298.69 L22.95,298.69 L23.20,298.68 L23.45,298.68 L23.69,298.67 L23.94,298.66 L24.19,298.65 L24.43,298.64 L24.68,298.63 L24.93,298.61 L25.18,298.58 L25.42,298.56 L25.67,298.52 L25.92,298.48 L26.17,298.44 L26.41,298.39 L26.66,298.32 L26.91,298.25 L27.15,298.18 L27.40,298.09 L27.65,297.99 L27.90,297.88 L28.14,297.76 L28.39,297.62 L28.64,297.48 L28.89,297.33 L29.13,297.18 L29.38,297.01 L29.63,296.84 L29.87,296.67 L30.12,296.49 L30.37,296.32 L30.62,296.15 L30.86,295.98 L31.11,295.83 L31.36,295.69 L31.61,295.56 L31.85,295.44 L32.10,295.35 L32.35,295.27 L32.59,295.21 L32.84,295.17 L33.09,295.15 L33.34,295.14 L33.58,295.13 L33.83,295.13 L34.08,295.12 L34.33,295.09 L34.57,295.04 L34.82,294.95 L35.07,294.81 L35.31,294.62 L35.56,294.37 L35.81,294.06 L36.06,293.70 L36.30,293.31 L36.55,292.90 L36.80,292.49 L37.05,292.12 L37.29,291.81 L37.54,291.58 L37.79,291.45 L38.03,291.44 L38.28,291.54 L38.53,291.74 L38.78,292.03 L39.02,292.38 L39.27,292.76 L39.52,293.14 L39.77,293.49 L40.01,293.79 L40.26,294.01 L40.51,294.15 L40.75,294.19 L41.00,294.15 L41.25,294.02 L41.50,293.82 L41.74,293.56 L41.99,293.26 L42.24,292.93 L42.49,292.59 L42.73,292.23 L42.98,291.87 L43.23,291.50 L43.47,291.13 L43.72,290.74 L43.97,290.32 L44.22,289.87 L44.46,289.36 L44.71,288.79 L44.96,288.17 L45.21,287.49 L45.45,286.78 L45.70,286.07 L45.95,285.37 L46.19,284.74 L46.44,284.21 L46.69,283.81 L46.94,283.57 L47.18,283.50 L47.43,283.58 L47.68,283.80 L47.93,284.13 L48.17,284.53 L48.42,284.96 L48.67,285.36 L48.91,285.69 L49.16,285.92 L49.41,286.01 L49.66,285.91 L49.90,285.59 L50.15,285.02 L50.40,284.14 L50.65,282.92 L50.89,281.33 L51.14,279.35 L51.39,276.98 L51.63,274.29 L51.88,271.35 L52.13,268.30 L52.38,265.31 L52.62,262.58 L52.87,260.32 L53.12,258.72 L53.37,257.95 L53.61,258.09 L53.86,259.18 L54.11,261.17 L54.35,263.93 L54.60,267.29 L54.85,271.05 L55.10,274.97 L55.34,278.85 L55.59,282.52 L55.84,285.85 L56.09,288.75 L56.33,291.19 L56.58,293.18 L56.83,294.74 L57.07,295.92 L57.32,296.80 L57.57,297.43 L57.82,297.87 L58.06,298.17 L58.31,298.36 L58.56,298.49 L58.81,298.57 L59.05,298.62 L59.30,298.65 L59.55,298.67 L59.79,298.68 L60.04,298.69 L60.29,298.69 L60.54,298.70 L60.78,298.70 L61.03,298.70 L61.28,298.70 L61.53,298.70 L61.77,298.70 L62.02,298.70 L62.27,298.70 L62.51,298.70 L62.76,298.70 L63.01,298.70 L63.26,298.70 L63.50,298.70 L63.75,298.70 L64.00,298.70 L64.25,298.70 L64.49,298.70 L64.74,298.70 L64.99,298.70 L65.23,298.70 L65.48,298.70 L65.73,298.70 L65.98,298.70 L66.22,298.70 L66.47,298.70 L66.72,298.70 L66.97,298.70 L67.21,298.70 L67.46,298.70 L67.71,298.70 L67.95,298.70 L68.20,298.70 L68.45,298.70 L68.70,298.70 L68.94,298.70 L69.19,298.70 L69.44,298.70 L69.69,298.70 L69.93,298.70 L70.18,298.70 L70.43,298.70 L70.67,298.70 L70.92,298.70 L71.17,298.70 L71.42,298.70 L71.66,298.70 L71.91,298.70 L72.16,298.70 L72.41,298.70 L72.65,298.70 L72.90,298.70 L72.90,299.20 L18.50,299.20 Z" fill="#8f91a6" stroke="#4e5068" stroke-width="0.6"/>
<rect x="17.70" y="244.40" width="56.00" height="54.80" fill="none" stroke="#1a1a1a" stroke-width="1.1"/>
<line x1="39.00" y1="274.90" x2="48.60" y2="274.90" stroke="#111" stroke-width="1.1"/>
<line x1="39.00" y1="273.40" x2="39.00" y2="276.40" stroke="#111" stroke-width="0.9"/>
<line x1="48.60" y1="273.40" x2="48.60" y2="276.40" stroke="#111" stroke-width="0.9"/>
<line x1="51.20" y1="268.30" x2="63.80" y2="268.30" stroke="#111" stroke-width="1.1"/>
<line x1="51.20" y1="266.80" x2="51.20" y2="269.80" stroke="#111" stroke-width="0.9"/>
<line x1="63.80" y1="266.80" x2="63.80" y2="269.80" stroke="#111" stroke-width="0.9"/>
<text x="43.20" y="265.70" font-size="4.4" text-anchor="middle" textLength="14.50" lengthAdjust="spacingAndGlyphs" fill="#333">F480mid</text>
<text x="43.70" y="271.20" font-size="4.4" text-anchor="middle" textLength="10.50" lengthAdjust="spacingAndGlyphs" fill="#333">20.3%</text>
<text x="63.10" y="260.00" font-size="4.4" text-anchor="middle" textLength="12.00" lengthAdjust="spacingAndGlyphs" fill="#333">F480hi</text>
<text x="63.10" y="265.40" font-size="4.4" text-anchor="middle" textLength="10.50" lengthAdjust="spacingAndGlyphs" fill="#333">69.3%</text>
<path d="M77.20,298.70 L77.45,298.70 L77.69,298.70 L77.94,298.70 L78.19,298.70 L78.44,298.70 L78.68,298.70 L78.93,298.70 L79.18,298.70 L79.43,298.70 L79.67,298.70 L79.92,298.70 L80.17,298.70 L80.41,298.70 L80.66,298.70 L80.91,298.70 L81.16,298.70 L81.40,298.70 L81.65,298.70 L81.90,298.70 L82.15,298.70 L82.39,298.70 L82.64,298.70 L82.89,298.70 L83.13,298.70 L83.38,298.70 L83.63,298.70 L83.88,298.70 L84.12,298.70 L84.37,298.70 L84.62,298.70 L84.87,298.70 L85.11,298.70 L85.36,298.70 L85.61,298.70 L85.85,298.70 L86.10,298.70 L86.35,298.70 L86.60,298.70 L86.84,298.70 L87.09,298.70 L87.34,298.70 L87.59,298.70 L87.83,298.70 L88.08,298.69 L88.33,298.69 L88.57,298.68 L88.82,298.68 L89.07,298.66 L89.32,298.64 L89.56,298.61 L89.81,298.57 L90.06,298.52 L90.31,298.46 L90.55,298.38 L90.80,298.29 L91.05,298.19 L91.29,298.07 L91.54,297.95 L91.79,297.83 L92.04,297.72 L92.28,297.63 L92.53,297.56 L92.78,297.51 L93.03,297.50 L93.27,297.52 L93.52,297.57 L93.77,297.65 L94.01,297.75 L94.26,297.86 L94.51,297.98 L94.76,298.10 L95.00,298.21 L95.25,298.31 L95.50,298.40 L95.75,298.48 L95.99,298.54 L96.24,298.58 L96.49,298.62 L96.73,298.65 L96.98,298.66 L97.23,298.68 L97.48,298.69 L97.72,298.69 L97.97,298.70 L98.22,298.70 L98.47,298.70 L98.71,298.70 L98.96,298.70 L99.21,298.70 L99.45,298.70 L99.70,298.70 L99.95,298.70 L100.20,298.70 L100.44,298.70 L100.69,298.69 L100.94,298.69 L101.19,298.69 L101.43,298.68 L101.68,298.68 L101.93,298.67 L102.17,298.66 L102.42,298.64 L102.67,298.62 L102.92,298.60 L103.16,298.57 L103.41,298.52 L103.66,298.47 L103.91,298.40 L104.15,298.32 L104.40,298.22 L104.65,298.09 L104.89,297.94 L105.14,297.76 L105.39,297.55 L105.64,297.31 L105.88,297.03 L106.13,296.71 L106.38,296.35 L106.63,295.94 L106.87,295.50 L107.12,295.03 L107.37,294.52 L107.61,293.98 L107.86,293.42 L108.11,292.84 L108.36,292.26 L108.60,291.68 L108.85,291.11 L109.10,290.56 L109.35,290.03 L109.59,289.53 L109.84,289.05 L110.09,288.57 L110.33,288.09 L110.58,287.56 L110.83,286.95 L111.08,286.22 L111.32,285.31 L111.57,284.17 L111.82,282.75 L112.07,281.00 L112.31,278.91 L112.56,276.49 L112.81,273.78 L113.05,270.88 L113.30,267.89 L113.55,264.99 L113.80,262.34 L114.04,260.12 L114.29,258.52 L114.54,257.65 L114.79,257.61 L115.03,258.44 L115.28,260.11 L115.53,262.51 L115.77,265.53 L116.02,268.98 L116.27,272.68 L116.52,276.43 L116.76,280.09 L117.01,283.50 L117.26,286.57 L117.51,289.24 L117.75,291.50 L118.00,293.34 L118.25,294.80 L118.49,295.93 L118.74,296.78 L118.99,297.40 L119.24,297.83 L119.48,298.14 L119.73,298.34 L119.98,298.48 L120.23,298.56 L120.47,298.62 L120.72,298.65 L120.97,298.67 L121.21,298.68 L121.46,298.69 L121.71,298.70 L121.96,298.70 L122.20,298.70 L122.45,298.70 L122.70,298.70 L122.95,298.70 L123.19,298.70 L123.44,298.70 L123.69,298.70 L123.93,298.70 L124.18,298.70 L124.43,298.70 L124.68,298.70 L124.92,298.70 L125.17,298.70 L125.42,298.70 L125.67,298.70 L125.91,298.70 L126.16,298.70 L126.41,298.70 L126.65,298.70 L126.90,298.70 L127.15,298.70 L127.40,298.70 L127.64,298.70 L127.89,298.70 L128.14,298.70 L128.39,298.70 L128.63,298.70 L128.88,298.70 L129.13,298.70 L129.37,298.70 L129.62,298.70 L129.87,298.70 L130.12,298.70 L130.36,298.70 L130.61,298.70 L130.86,298.70 L131.11,298.70 L131.35,298.70 L131.60,298.70 L131.60,299.20 L77.20,299.20 Z" fill="#8f91a6" stroke="#4e5068" stroke-width="0.6"/>
<rect x="76.40" y="244.40" width="56.00" height="54.80" fill="none" stroke="#1a1a1a" stroke-width="1.1"/>
<line x1="97.70" y1="274.90" x2="107.30" y2="274.90" stroke="#111" stroke-width="1.1"/>
<line x1="97.70" y1="273.40" x2="97.70" y2="276.40" stroke="#111" stroke-width="0.9"/>
<line x1="107.30" y1="273.40" x2="107.30" y2="276.40" stroke="#111" stroke-width="0.9"/>
<line x1="109.90" y1="268.30" x2="122.50" y2="268.30" stroke="#111" stroke-width="1.1"/>
<line x1="109.90" y1="266.80" x2="109.90" y2="269.80" stroke="#111" stroke-width="0.9"/>
<line x1="122.50" y1="266.80" x2="122.50" y2="269.80" stroke="#111" stroke-width="0.9"/>
<text x="101.90" y="265.70" font-size="4.4" text-anchor="middle" textLength="14.50" lengthAdjust="spacingAndGlyphs" fill="#333">F480mid</text>
<text x="102.40" y="271.20" font-size="4.4" text-anchor="middle" textLength="10.50" lengthAdjust="spacingAndGlyphs" fill="#333">3.96%</text>
<text x="121.80" y="260.00" font-size="4.4" text-anchor="middle" textLength="12.00" lengthAdjust="spacingAndGlyphs" fill="#333">F480hi</text>
<text x="121.80" y="265.40" font-size="4.4" text-anchor="middle" textLength="10.50" lengthAdjust="spacingAndGlyphs" fill="#333">93.3%</text>
<path d="M135.50,298.70 L135.75,298.70 L135.99,298.70 L136.24,298.70 L136.49,298.70 L136.74,298.70 L136.98,298.70 L137.23,298.70 L137.48,298.70 L137.73,298.70 L137.97,298.70 L138.22,298.70 L138.47,298.70 L138.71,298.70 L138.96,298.70 L139.21,298.70 L139.46,298.70 L139.70,298.69 L139.95,298.69 L140.20,298.69 L140.45,298.68 L140.69,298.68 L140.94,298.67 L141.19,298.66 L141.43,298.65 L141.68,298.64 L141.93,298.62 L142.18,298.60 L142.42,298.58 L142.67,298.55 L142.92,298.51 L143.17,298.47 L143.41,298.42 L143.66,298.37 L143.91,298.31 L144.15,298.24 L144.40,298.17 L144.65,298.09 L144.90,298.01 L145.14,297.92 L145.39,297.83 L145.64,297.74 L145.89,297.65 L146.13,297.57 L146.38,297.48 L146.63,297.41 L146.87,297.34 L147.12,297.29 L147.37,297.25 L147.62,297.22 L147.86,297.20 L148.11,297.20 L148.36,297.22 L148.61,297.24 L148.85,297.28 L149.10,297.34 L149.35,297.40 L149.59,297.48 L149.84,297.56 L150.09,297.64 L150.34,297.73 L150.58,297.82 L150.83,297.91 L151.08,298.00 L151.33,298.08 L151.57,298.16 L151.82,298.23 L152.07,298.30 L152.31,298.36 L152.56,298.42 L152.81,298.46 L153.06,298.51 L153.30,298.54 L153.55,298.57 L153.80,298.60 L154.05,298.62 L154.29,298.64 L154.54,298.65 L154.79,298.66 L155.03,298.67 L155.28,298.68 L155.53,298.68 L155.78,298.69 L156.02,298.69 L156.27,298.69 L156.52,298.70 L156.77,298.70 L157.01,298.70 L157.26,298.70 L157.51,298.70 L157.75,298.70 L158.00,298.70 L158.25,298.70 L158.50,298.70 L158.74,298.70 L158.99,298.70 L159.24,298.70 L159.49,298.70 L159.73,298.70 L159.98,298.70 L160.23,298.70 L160.47,298.70 L160.72,298.69 L160.97,298.69 L161.22,298.68 L161.46,298.67 L161.71,298.65 L161.96,298.63 L162.21,298.59 L162.45,298.54 L162.70,298.46 L162.95,298.36 L163.19,298.22 L163.44,298.04 L163.69,297.81 L163.94,297.52 L164.18,297.15 L164.43,296.72 L164.68,296.20 L164.93,295.60 L165.17,294.93 L165.42,294.19 L165.67,293.39 L165.91,292.55 L166.16,291.68 L166.41,290.80 L166.66,289.93 L166.90,289.09 L167.15,288.29 L167.40,287.52 L167.65,286.79 L167.89,286.09 L168.14,285.40 L168.39,284.69 L168.63,283.96 L168.88,283.17 L169.13,282.31 L169.38,281.35 L169.62,280.28 L169.87,279.07 L170.12,277.69 L170.37,276.09 L170.61,274.22 L170.86,272.01 L171.11,269.40 L171.35,266.37 L171.60,263.00 L171.85,259.48 L172.10,256.14 L172.34,253.36 L172.59,251.57 L172.84,251.10 L173.09,252.10 L173.33,254.48 L173.58,257.99 L173.83,262.21 L174.07,266.71 L174.32,271.10 L174.57,275.12 L174.82,278.64 L175.06,281.65 L175.31,284.19 L175.56,286.34 L175.81,288.17 L176.05,289.77 L176.30,291.16 L176.55,292.38 L176.79,293.45 L177.04,294.38 L177.29,295.18 L177.54,295.86 L177.78,296.44 L178.03,296.91 L178.28,297.31 L178.53,297.62 L178.77,297.88 L179.02,298.08 L179.27,298.23 L179.51,298.35 L179.76,298.45 L180.01,298.52 L180.26,298.57 L180.50,298.61 L180.75,298.63 L181.00,298.65 L181.25,298.67 L181.49,298.68 L181.74,298.69 L181.99,298.69 L182.23,298.69 L182.48,298.70 L182.73,298.70 L182.98,298.70 L183.22,298.70 L183.47,298.70 L183.72,298.70 L183.97,298.70 L184.21,298.70 L184.46,298.70 L184.71,298.70 L184.95,298.70 L185.20,298.70 L185.45,298.70 L185.70,298.70 L185.94,298.70 L186.19,298.70 L186.44,298.70 L186.69,298.70 L186.93,298.70 L187.18,298.70 L187.43,298.70 L187.67,298.70 L187.92,298.70 L188.17,298.70 L188.42,298.70 L188.66,298.70 L188.91,298.70 L189.16,298.70 L189.41,298.70 L189.65,298.70 L189.90,298.70 L189.90,299.20 L135.50,299.20 Z" fill="#8f91a6" stroke="#4e5068" stroke-width="0.6"/>
<rect x="134.70" y="244.40" width="56.00" height="54.80" fill="none" stroke="#1a1a1a" stroke-width="1.1"/>
<line x1="156.00" y1="274.90" x2="165.60" y2="274.90" stroke="#111" stroke-width="1.1"/>
<line x1="156.00" y1="273.40" x2="156.00" y2="276.40" stroke="#111" stroke-width="0.9"/>
<line x1="165.60" y1="273.40" x2="165.60" y2="276.40" stroke="#111" stroke-width="0.9"/>
<line x1="168.20" y1="268.30" x2="180.80" y2="268.30" stroke="#111" stroke-width="1.1"/>
<line x1="168.20" y1="266.80" x2="168.20" y2="269.80" stroke="#111" stroke-width="0.9"/>
<line x1="180.80" y1="266.80" x2="180.80" y2="269.80" stroke="#111" stroke-width="0.9"/>
<text x="160.20" y="265.70" font-size="4.4" text-anchor="middle" textLength="14.50" lengthAdjust="spacingAndGlyphs" fill="#333">F480mid</text>
<text x="160.70" y="271.20" font-size="4.4" text-anchor="middle" textLength="10.50" lengthAdjust="spacingAndGlyphs" fill="#333">4.30%</text>
<text x="180.10" y="260.00" font-size="4.4" text-anchor="middle" textLength="12.00" lengthAdjust="spacingAndGlyphs" fill="#333">F480hi</text>
<text x="180.10" y="265.40" font-size="4.4" text-anchor="middle" textLength="10.50" lengthAdjust="spacingAndGlyphs" fill="#333">91.0%</text>
<path d="M194.20,298.70 L194.45,298.70 L194.69,298.70 L194.94,298.70 L195.19,298.70 L195.44,298.70 L195.68,298.70 L195.93,298.70 L196.18,298.70 L196.43,298.69 L196.67,298.69 L196.92,298.69 L197.17,298.69 L197.41,298.68 L197.66,298.68 L197.91,298.67 L198.16,298.67 L198.40,298.66 L198.65,298.65 L198.90,298.64 L199.15,298.63 L199.39,298.61 L199.64,298.59 L199.89,298.57 L200.13,298.55 L200.38,298.52 L200.63,298.49 L200.88,298.46 L201.12,298.43 L201.37,298.39 L201.62,298.35 L201.87,298.30 L202.11,298.25 L202.36,298.20 L202.61,298.15 L202.85,298.10 L203.10,298.04 L203.35,297.99 L203.60,297.93 L203.84,297.88 L204.09,297.83 L204.34,297.78 L204.59,297.73 L204.83,297.69 L205.08,297.65 L205.33,297.61 L205.57,297.58 L205.82,297.55 L206.07,297.53 L206.32,297.52 L206.56,297.50 L206.81,297.50 L207.06,297.49 L207.31,297.49 L207.55,297.50 L207.80,297.50 L208.05,297.51 L208.29,297.52 L208.54,297.53 L208.79,297.54 L209.04,297.55 L209.28,297.55 L209.53,297.56 L209.78,297.56 L210.03,297.56 L210.27,297.56 L210.52,297.56 L210.77,297.55 L211.01,297.54 L211.26,297.54 L211.51,297.53 L211.76,297.52 L212.00,297.51 L212.25,297.50 L212.50,297.49 L212.75,297.48 L212.99,297.47 L213.24,297.47 L213.49,297.46 L213.73,297.46 L213.98,297.47 L214.23,297.47 L214.48,297.48 L214.72,297.50 L214.97,297.51 L215.22,297.53 L215.47,297.55 L215.71,297.58 L215.96,297.60 L216.21,297.63 L216.45,297.66 L216.70,297.69 L216.95,297.72 L217.20,297.74 L217.44,297.77 L217.69,297.79 L217.94,297.80 L218.19,297.81 L218.43,297.82 L218.68,297.82 L218.93,297.81 L219.17,297.80 L219.42,297.77 L219.67,297.73 L219.92,297.69 L220.16,297.63 L220.41,297.56 L220.66,297.48 L220.91,297.39 L221.15,297.29 L221.40,297.18 L221.65,297.05 L221.89,296.91 L222.14,296.77 L222.39,296.61 L222.64,296.44 L222.88,296.25 L223.13,296.06 L223.38,295.85 L223.63,295.63 L223.87,295.40 L224.12,295.15 L224.37,294.89 L224.61,294.61 L224.86,294.32 L225.11,294.00 L225.36,293.67 L225.60,293.32 L225.85,292.95 L226.10,292.56 L226.35,292.16 L226.59,291.75 L226.84,291.33 L227.09,290.91 L227.33,290.49 L227.58,290.08 L227.83,289.69 L228.08,289.31 L228.32,288.97 L228.57,288.66 L228.82,288.39 L229.07,288.15 L229.31,287.95 L229.56,287.78 L229.81,287.63 L230.05,287.46 L230.30,287.26 L230.55,286.98 L230.80,286.58 L231.04,286.00 L231.29,285.19 L231.54,284.10 L231.79,282.68 L232.03,280.92 L232.28,278.81 L232.53,276.38 L232.77,273.71 L233.02,270.91 L233.27,268.11 L233.52,265.49 L233.76,263.21 L234.01,261.45 L234.26,260.34 L234.51,260.01 L234.75,260.48 L235.00,261.77 L235.25,263.79 L235.49,266.45 L235.74,269.57 L235.99,272.99 L236.24,276.52 L236.48,280.01 L236.73,283.31 L236.98,286.32 L237.23,288.97 L237.47,291.23 L237.72,293.10 L237.97,294.59 L238.21,295.76 L238.46,296.64 L238.71,297.29 L238.96,297.76 L239.20,298.08 L239.45,298.30 L239.70,298.45 L239.95,298.55 L240.19,298.61 L240.44,298.64 L240.69,298.67 L240.93,298.68 L241.18,298.69 L241.43,298.69 L241.68,298.70 L241.92,298.70 L242.17,298.70 L242.42,298.70 L242.67,298.70 L242.91,298.70 L243.16,298.70 L243.41,298.70 L243.65,298.70 L243.90,298.70 L244.15,298.70 L244.40,298.70 L244.64,298.70 L244.89,298.70 L245.14,298.70 L245.39,298.70 L245.63,298.70 L245.88,298.70 L246.13,298.70 L246.37,298.70 L246.62,298.70 L246.87,298.70 L247.12,298.70 L247.36,298.70 L247.61,298.70 L247.86,298.70 L248.11,298.70 L248.35,298.70 L248.60,298.70 L248.60,299.20 L194.20,299.20 Z" fill="#8f91a6" stroke="#4e5068" stroke-width="0.6"/>
<rect x="193.40" y="244.40" width="56.00" height="54.80" fill="none" stroke="#1a1a1a" stroke-width="1.1"/>
<line x1="214.70" y1="274.90" x2="224.30" y2="274.90" stroke="#111" stroke-width="1.1"/>
<line x1="214.70" y1="273.40" x2="214.70" y2="276.40" stroke="#111" stroke-width="0.9"/>
<line x1="224.30" y1="273.40" x2="224.30" y2="276.40" stroke="#111" stroke-width="0.9"/>
<line x1="226.90" y1="268.30" x2="239.50" y2="268.30" stroke="#111" stroke-width="1.1"/>
<line x1="226.90" y1="266.80" x2="226.90" y2="269.80" stroke="#111" stroke-width="0.9"/>
<line x1="239.50" y1="266.80" x2="239.50" y2="269.80" stroke="#111" stroke-width="0.9"/>
<text x="218.90" y="265.70" font-size="4.4" text-anchor="middle" textLength="14.50" lengthAdjust="spacingAndGlyphs" fill="#333">F480mid</text>
<text x="219.40" y="271.20" font-size="4.4" text-anchor="middle" textLength="10.50" lengthAdjust="spacingAndGlyphs" fill="#333">5.92%</text>
<text x="238.80" y="260.00" font-size="4.4" text-anchor="middle" textLength="12.00" lengthAdjust="spacingAndGlyphs" fill="#333">F480hi</text>
<text x="238.80" y="265.40" font-size="4.4" text-anchor="middle" textLength="10.50" lengthAdjust="spacingAndGlyphs" fill="#333">85.1%</text>
<text x="15.60" y="271.50" font-size="7.4" text-anchor="middle" textLength="19.00" lengthAdjust="spacingAndGlyphs" stroke="#231f20" stroke-width="0.139" transform="rotate(-90 15.60 271.50)">Count</text>
<text x="16.20" y="308.60" font-size="7.4" textLength="17.00" lengthAdjust="spacingAndGlyphs" stroke="#231f20" stroke-width="0.139">F4/80</text>
<text x="259.30" y="139.00" font-size="11.0" textLength="5.50" lengthAdjust="spacingAndGlyphs" fill="#2a2a2a" stroke="#2a2a2a" stroke-width="0.206">E</text>
<line x1="290.05" y1="210.17" x2="290.05" y2="209.76" stroke="#1a1a1a" stroke-width="0.9"/>
<line x1="289.05" y1="209.76" x2="291.05" y2="209.76" stroke="#1a1a1a" stroke-width="0.9"/>
<rect x="288.02" y="210.17" width="4.05" height="0.63" fill="#fff" stroke="#c41a40" stroke-width="1.25"/>
<circle cx="289.05" cy="210.58" r="0.95" fill="#c41a40" stroke="none" stroke-width="1.0"/>
<circle cx="291.05" cy="210.42" r="0.95" fill="#c41a40" stroke="none" stroke-width="1.0"/>
<line x1="296.25" y1="206.48" x2="296.25" y2="205.25" stroke="#1a1a1a" stroke-width="0.9"/>
<line x1="295.25" y1="205.25" x2="297.25" y2="205.25" stroke="#1a1a1a" stroke-width="0.9"/>
<rect x="294.22" y="206.48" width="4.05" height="4.32" fill="#fff" stroke="#c8c8c8" stroke-width="1.25"/>
<circle cx="296.25" cy="205.66" r="0.95" fill="#b0b0b0" stroke="none" stroke-width="1.0"/>
<circle cx="295.25" cy="208.12" r="0.95" fill="#b0b0b0" stroke="none" stroke-width="1.0"/>
<line x1="302.45" y1="210.17" x2="302.45" y2="209.76" stroke="#1a1a1a" stroke-width="0.9"/>
<line x1="301.45" y1="209.76" x2="303.45" y2="209.76" stroke="#1a1a1a" stroke-width="0.9"/>
<rect x="300.43" y="210.17" width="4.05" height="0.63" fill="#fff" stroke="#72b847" stroke-width="1.25"/>
<circle cx="302.45" cy="210.58" r="0.95" fill="#6cb240" stroke="none" stroke-width="1.0"/>
<line x1="308.65" y1="205.25" x2="308.65" y2="204.02" stroke="#1a1a1a" stroke-width="0.9"/>
<line x1="307.65" y1="204.02" x2="309.65" y2="204.02" stroke="#1a1a1a" stroke-width="0.9"/>
<rect x="306.62" y="205.25" width="4.05" height="5.55" fill="#fff" stroke="#5577b8" stroke-width="1.25"/>
<circle cx="309.15" cy="204.02" r="0.95" fill="#26458f" stroke="none" stroke-width="1.0"/>
<circle cx="307.65" cy="206.48" r="0.95" fill="#26458f" stroke="none" stroke-width="1.0"/>
<line x1="318.95" y1="203.61" x2="318.95" y2="203.20" stroke="#1a1a1a" stroke-width="0.9"/>
<line x1="317.95" y1="203.20" x2="319.95" y2="203.20" stroke="#1a1a1a" stroke-width="0.9"/>
<rect x="316.93" y="203.61" width="4.05" height="7.19" fill="#fff" stroke="#c41a40" stroke-width="1.25"/>
<circle cx="317.95" cy="204.02" r="0.95" fill="#c41a40" stroke="none" stroke-width="1.0"/>
<circle cx="319.95" cy="204.84" r="0.95" fill="#c41a40" stroke="none" stroke-width="1.0"/>
<line x1="325.15" y1="202.38" x2="325.15" y2="200.74" stroke="#1a1a1a" stroke-width="0.9"/>
<line x1="324.15" y1="200.74" x2="326.15" y2="200.74" stroke="#1a1a1a" stroke-width="0.9"/>
<rect x="323.12" y="202.38" width="4.05" height="8.42" fill="#fff" stroke="#c8c8c8" stroke-width="1.25"/>
<circle cx="325.15" cy="200.74" r="0.95" fill="#b0b0b0" stroke="none" stroke-width="1.0"/>
<circle cx="324.15" cy="204.84" r="0.95" fill="#b0b0b0" stroke="none" stroke-width="1.0"/>
<circle cx="326.15" cy="203.20" r="0.95" fill="#b0b0b0" stroke="none" stroke-width="1.0"/>
<line x1="331.35" y1="199.51" x2="331.35" y2="198.28" stroke="#1a1a1a" stroke-width="0.9"/>
<line x1="330.35" y1="198.28" x2="332.35" y2="198.28" stroke="#1a1a1a" stroke-width="0.9"/>
<rect x="329.33" y="199.51" width="4.05" height="11.29" fill="#fff" stroke="#72b847" stroke-width="1.25"/>
<circle cx="331.35" cy="198.28" r="0.95" fill="#6cb240" stroke="none" stroke-width="1.0"/>
<circle cx="330.35" cy="201.56" r="0.95" fill="#6cb240" stroke="none" stroke-width="1.0"/>
<circle cx="331.85" cy="195.82" r="0.95" fill="#6cb240" stroke="none" stroke-width="1.0"/>
<line x1="337.55" y1="185.98" x2="337.55" y2="178.60" stroke="#1a1a1a" stroke-width="0.9"/>
<line x1="336.55" y1="178.60" x2="338.55" y2="178.60" stroke="#1a1a1a" stroke-width="0.9"/>
<rect x="335.53" y="185.98" width="4.05" height="24.82" fill="#fff" stroke="#5577b8" stroke-width="1.25"/>
<circle cx="337.55" cy="167.94" r="0.95" fill="#26458f" stroke="none" stroke-width="1.0"/>
<circle cx="336.55" cy="181.06" r="0.95" fill="#26458f" stroke="none" stroke-width="1.0"/>
<line x1="347.85" y1="197.46" x2="347.85" y2="195.00" stroke="#1a1a1a" stroke-width="0.9"/>
<line x1="346.85" y1="195.00" x2="348.85" y2="195.00" stroke="#1a1a1a" stroke-width="0.9"/>
<rect x="345.82" y="197.46" width="4.05" height="13.34" fill="#fff" stroke="#c41a40" stroke-width="1.25"/>
<circle cx="346.85" cy="189.26" r="0.95" fill="#c41a40" stroke="none" stroke-width="1.0"/>
<circle cx="347.85" cy="202.38" r="0.95" fill="#c41a40" stroke="none" stroke-width="1.0"/>
<circle cx="348.85" cy="199.10" r="0.95" fill="#c41a40" stroke="none" stroke-width="1.0"/>
<line x1="354.05" y1="190.90" x2="354.05" y2="188.44" stroke="#1a1a1a" stroke-width="0.9"/>
<line x1="353.05" y1="188.44" x2="355.05" y2="188.44" stroke="#1a1a1a" stroke-width="0.9"/>
<rect x="352.02" y="190.90" width="4.05" height="19.90" fill="#fff" stroke="#c8c8c8" stroke-width="1.25"/>
<circle cx="354.05" cy="181.88" r="0.95" fill="#b0b0b0" stroke="none" stroke-width="1.0"/>
<circle cx="354.05" cy="190.08" r="0.95" fill="#b0b0b0" stroke="none" stroke-width="1.0"/>
<circle cx="355.05" cy="195.82" r="0.95" fill="#b0b0b0" stroke="none" stroke-width="1.0"/>
<circle cx="353.05" cy="199.92" r="0.95" fill="#b0b0b0" stroke="none" stroke-width="1.0"/>
<line x1="360.25" y1="191.72" x2="360.25" y2="190.49" stroke="#1a1a1a" stroke-width="0.9"/>
<line x1="359.25" y1="190.49" x2="361.25" y2="190.49" stroke="#1a1a1a" stroke-width="0.9"/>
<rect x="358.23" y="191.72" width="4.05" height="19.08" fill="#fff" stroke="#72b847" stroke-width="1.25"/>
<circle cx="360.25" cy="189.26" r="0.95" fill="#6cb240" stroke="none" stroke-width="1.0"/>
<circle cx="361.25" cy="195.00" r="0.95" fill="#6cb240" stroke="none" stroke-width="1.0"/>
<line x1="366.45" y1="198.28" x2="366.45" y2="195.00" stroke="#1a1a1a" stroke-width="0.9"/>
<line x1="365.45" y1="195.00" x2="367.45" y2="195.00" stroke="#1a1a1a" stroke-width="0.9"/>
<rect x="364.43" y="198.28" width="4.05" height="12.52" fill="#fff" stroke="#5577b8" stroke-width="1.25"/>
<circle cx="366.45" cy="191.72" r="0.95" fill="#26458f" stroke="none" stroke-width="1.0"/>
<circle cx="365.45" cy="195.82" r="0.95" fill="#26458f" stroke="none" stroke-width="1.0"/>
<line x1="285.00" y1="153.60" x2="285.00" y2="212.00" stroke="#231f20" stroke-width="1.25"/>
<line x1="284.40" y1="211.40" x2="372.20" y2="211.40" stroke="#231f20" stroke-width="1.25"/>
<line x1="282.60" y1="211.40" x2="285.00" y2="211.40" stroke="#231f20" stroke-width="0.9"/>
<text x="281.20" y="213.00" font-size="4.6" text-anchor="end" fill="#333">0</text>
<line x1="282.60" y1="195.00" x2="285.00" y2="195.00" stroke="#231f20" stroke-width="0.9"/>
<text x="281.20" y="196.60" font-size="4.6" text-anchor="end" fill="#333">2</text>
<line x1="282.60" y1="178.60" x2="285.00" y2="178.60" stroke="#231f20" stroke-width="0.9"/>
<text x="281.20" y="180.20" font-size="4.6" text-anchor="end" fill="#333">4</text>
<line x1="282.60" y1="162.20" x2="285.00" y2="162.20" stroke="#231f20" stroke-width="0.9"/>
<text x="281.20" y="163.80" font-size="4.6" text-anchor="end" fill="#333">6</text>
<line x1="299.20" y1="211.40" x2="299.20" y2="213.80" stroke="#231f20" stroke-width="0.9"/>
<line x1="328.10" y1="211.40" x2="328.10" y2="213.80" stroke="#231f20" stroke-width="0.9"/>
<line x1="357.00" y1="211.40" x2="357.00" y2="213.80" stroke="#231f20" stroke-width="0.9"/>
<path d="M318.50,163.40 L318.50,148.30 L337.50,148.30 L337.50,163.40" fill="none" stroke="#222" stroke-width="1.1"/>
<path d="M325.20,163.40 L325.20,154.60 L337.50,154.60 L337.50,163.40" fill="none" stroke="#222" stroke-width="1.1"/>
<path d="M331.40,163.40 L331.40,160.60 L337.50,160.60 L337.50,163.40" fill="none" stroke="#222" stroke-width="1.1"/>
<text x="327.80" y="147.40" font-size="4.0" text-anchor="middle" fill="#333">***</text>
<text x="331.00" y="153.60" font-size="4.0" text-anchor="middle" fill="#333">**</text>
<text x="334.40" y="159.50" font-size="4.0" text-anchor="middle" fill="#333">*</text>
<text x="262.60" y="182.50" font-size="7.6" text-anchor="middle" textLength="53.70" lengthAdjust="spacingAndGlyphs" stroke="#231f20" stroke-width="0.142" transform="rotate(-90 262.60 182.50)">Ly6C<tspan font-size="4.5" dy="-2.8">hi</tspan><tspan dy="2.8">monocytes</tspan></text>
<text x="270.60" y="181.60" font-size="7.6" text-anchor="middle" textLength="17.00" lengthAdjust="spacingAndGlyphs" stroke="#231f20" stroke-width="0.142" transform="rotate(-90 270.60 181.60)">(x10<tspan font-size="4.5" dy="-2.8">5</tspan><tspan dy="2.8">)</tspan></text>
<text x="299.20" y="222.20" font-size="4.8" text-anchor="middle" fill="#333">8</text>
<text x="328.10" y="222.20" font-size="4.8" text-anchor="middle" fill="#333">10</text>
<text x="357.00" y="222.20" font-size="4.8" text-anchor="middle" fill="#333">12</text>
<text x="328.00" y="232.80" font-size="7.8" text-anchor="middle" textLength="45.50" lengthAdjust="spacingAndGlyphs" stroke="#231f20" stroke-width="0.146">Days post BMT</text>
<rect x="292.90" y="244.80" width="6.00" height="3.80" fill="#fff" stroke="#c41a40" stroke-width="1.2" rx="0.8"/>
<text x="302.10" y="248.40" font-size="4.8" textLength="18.80" lengthAdjust="spacingAndGlyphs" fill="#444">KO-&gt;KO</text>
<rect x="292.90" y="253.80" width="6.00" height="3.80" fill="#fff" stroke="#c8c8c8" stroke-width="1.2" rx="0.8"/>
<text x="302.10" y="257.40" font-size="4.8" textLength="18.80" lengthAdjust="spacingAndGlyphs" fill="#444">WT-&gt;KO</text>
<rect x="334.30" y="244.80" width="6.00" height="3.80" fill="#fff" stroke="#72b847" stroke-width="1.2" rx="0.8"/>
<text x="343.50" y="248.40" font-size="4.8" textLength="18.80" lengthAdjust="spacingAndGlyphs" fill="#444">KO-&gt;WT</text>
<rect x="334.30" y="253.80" width="6.00" height="3.80" fill="#fff" stroke="#5577b8" stroke-width="1.2" rx="0.8"/>
<text x="343.50" y="257.40" font-size="4.8" textLength="18.80" lengthAdjust="spacingAndGlyphs" fill="#444">WT-&gt;WT</text>
<text x="389.00" y="139.00" font-size="11.0" textLength="5.00" lengthAdjust="spacingAndGlyphs" fill="#2a2a2a" stroke="#2a2a2a" stroke-width="0.206">F</text>
<line x1="427.95" y1="210.13" x2="427.95" y2="209.75" stroke="#1a1a1a" stroke-width="0.9"/>
<line x1="426.95" y1="209.75" x2="428.95" y2="209.75" stroke="#1a1a1a" stroke-width="0.9"/>
<rect x="425.93" y="210.13" width="4.05" height="0.60" fill="#fff" stroke="#c41a40" stroke-width="1.25"/>
<circle cx="426.95" cy="210.13" r="0.95" fill="#c41a40" stroke="none" stroke-width="1.0"/>
<circle cx="428.95" cy="210.52" r="0.95" fill="#c41a40" stroke="none" stroke-width="1.0"/>
<line x1="434.15" y1="205.08" x2="434.15" y2="204.30" stroke="#1a1a1a" stroke-width="0.9"/>
<line x1="433.15" y1="204.30" x2="435.15" y2="204.30" stroke="#1a1a1a" stroke-width="0.9"/>
<rect x="432.12" y="205.08" width="4.05" height="5.62" fill="#fff" stroke="#c8c8c8" stroke-width="1.25"/>
<circle cx="434.15" cy="205.86" r="0.95" fill="#b0b0b0" stroke="none" stroke-width="1.0"/>
<circle cx="435.15" cy="204.30" r="0.95" fill="#b0b0b0" stroke="none" stroke-width="1.0"/>
<line x1="440.35" y1="209.36" x2="440.35" y2="208.58" stroke="#1a1a1a" stroke-width="0.9"/>
<line x1="439.35" y1="208.58" x2="441.35" y2="208.58" stroke="#1a1a1a" stroke-width="0.9"/>
<rect x="438.33" y="209.36" width="4.05" height="1.34" fill="#fff" stroke="#72b847" stroke-width="1.25"/>
<circle cx="440.35" cy="209.75" r="0.95" fill="#6cb240" stroke="none" stroke-width="1.0"/>
<circle cx="441.35" cy="207.80" r="0.95" fill="#6cb240" stroke="none" stroke-width="1.0"/>
<line x1="446.55" y1="204.30" x2="446.55" y2="203.53" stroke="#1a1a1a" stroke-width="0.9"/>
<line x1="445.55" y1="203.53" x2="447.55" y2="203.53" stroke="#1a1a1a" stroke-width="0.9"/>
<rect x="444.53" y="204.30" width="4.05" height="6.40" fill="#fff" stroke="#5577b8" stroke-width="1.25"/>
<circle cx="445.55" cy="203.91" r="0.95" fill="#26458f" stroke="none" stroke-width="1.0"/>
<circle cx="447.55" cy="203.91" r="0.95" fill="#26458f" stroke="none" stroke-width="1.0"/>
<line x1="456.85" y1="205.08" x2="456.85" y2="204.30" stroke="#1a1a1a" stroke-width="0.9"/>
<line x1="455.85" y1="204.30" x2="457.85" y2="204.30" stroke="#1a1a1a" stroke-width="0.9"/>
<rect x="454.82" y="205.08" width="4.05" height="5.62" fill="#fff" stroke="#c41a40" stroke-width="1.25"/>
<circle cx="455.85" cy="204.69" r="0.95" fill="#c41a40" stroke="none" stroke-width="1.0"/>
<circle cx="457.85" cy="205.86" r="0.95" fill="#c41a40" stroke="none" stroke-width="1.0"/>
<line x1="463.05" y1="201.58" x2="463.05" y2="200.03" stroke="#1a1a1a" stroke-width="0.9"/>
<line x1="462.05" y1="200.03" x2="464.05" y2="200.03" stroke="#1a1a1a" stroke-width="0.9"/>
<rect x="461.02" y="201.58" width="4.05" height="9.12" fill="#fff" stroke="#c8c8c8" stroke-width="1.25"/>
<circle cx="463.05" cy="202.75" r="0.95" fill="#b0b0b0" stroke="none" stroke-width="1.0"/>
<circle cx="464.05" cy="199.64" r="0.95" fill="#b0b0b0" stroke="none" stroke-width="1.0"/>
<circle cx="462.05" cy="205.08" r="0.95" fill="#b0b0b0" stroke="none" stroke-width="1.0"/>
<line x1="469.25" y1="200.81" x2="469.25" y2="198.86" stroke="#1a1a1a" stroke-width="0.9"/>
<line x1="468.25" y1="198.86" x2="470.25" y2="198.86" stroke="#1a1a1a" stroke-width="0.9"/>
<rect x="467.23" y="200.81" width="4.05" height="9.89" fill="#fff" stroke="#72b847" stroke-width="1.25"/>
<circle cx="469.25" cy="200.03" r="0.95" fill="#6cb240" stroke="none" stroke-width="1.0"/>
<circle cx="469.25" cy="206.25" r="0.95" fill="#6cb240" stroke="none" stroke-width="1.0"/>
<line x1="475.45" y1="187.98" x2="475.45" y2="183.31" stroke="#1a1a1a" stroke-width="0.9"/>
<line x1="474.45" y1="183.31" x2="476.45" y2="183.31" stroke="#1a1a1a" stroke-width="0.9"/>
<rect x="473.43" y="187.98" width="4.05" height="22.72" fill="#fff" stroke="#5577b8" stroke-width="1.25"/>
<circle cx="474.45" cy="179.43" r="0.95" fill="#26458f" stroke="none" stroke-width="1.0"/>
<circle cx="476.45" cy="180.59" r="0.95" fill="#26458f" stroke="none" stroke-width="1.0"/>
<line x1="485.65" y1="190.70" x2="485.65" y2="187.20" stroke="#1a1a1a" stroke-width="0.9"/>
<line x1="484.65" y1="187.20" x2="486.65" y2="187.20" stroke="#1a1a1a" stroke-width="0.9"/>
<rect x="483.62" y="190.70" width="4.05" height="20.00" fill="#fff" stroke="#c41a40" stroke-width="1.25"/>
<circle cx="485.65" cy="186.03" r="0.95" fill="#c41a40" stroke="none" stroke-width="1.0"/>
<circle cx="485.65" cy="205.47" r="0.95" fill="#c41a40" stroke="none" stroke-width="1.0"/>
<circle cx="486.65" cy="191.87" r="0.95" fill="#c41a40" stroke="none" stroke-width="1.0"/>
<line x1="491.85" y1="196.14" x2="491.85" y2="194.20" stroke="#1a1a1a" stroke-width="0.9"/>
<line x1="490.85" y1="194.20" x2="492.85" y2="194.20" stroke="#1a1a1a" stroke-width="0.9"/>
<rect x="489.82" y="196.14" width="4.05" height="14.56" fill="#fff" stroke="#c8c8c8" stroke-width="1.25"/>
<circle cx="491.85" cy="191.09" r="0.95" fill="#b0b0b0" stroke="none" stroke-width="1.0"/>
<circle cx="490.85" cy="198.08" r="0.95" fill="#b0b0b0" stroke="none" stroke-width="1.0"/>
<circle cx="492.85" cy="201.58" r="0.95" fill="#b0b0b0" stroke="none" stroke-width="1.0"/>
<line x1="498.05" y1="182.15" x2="498.05" y2="174.76" stroke="#1a1a1a" stroke-width="0.9"/>
<line x1="497.05" y1="174.76" x2="499.05" y2="174.76" stroke="#1a1a1a" stroke-width="0.9"/>
<rect x="496.03" y="182.15" width="4.05" height="28.55" fill="#fff" stroke="#72b847" stroke-width="1.25"/>
<circle cx="498.05" cy="161.94" r="0.95" fill="#6cb240" stroke="none" stroke-width="1.0"/>
<circle cx="498.05" cy="188.37" r="0.95" fill="#6cb240" stroke="none" stroke-width="1.0"/>
<circle cx="498.05" cy="200.42" r="0.95" fill="#6cb240" stroke="none" stroke-width="1.0"/>
<line x1="504.25" y1="199.25" x2="504.25" y2="196.92" stroke="#1a1a1a" stroke-width="0.9"/>
<line x1="503.25" y1="196.92" x2="505.25" y2="196.92" stroke="#1a1a1a" stroke-width="0.9"/>
<rect x="502.23" y="199.25" width="4.05" height="11.45" fill="#fff" stroke="#5577b8" stroke-width="1.25"/>
<circle cx="504.25" cy="194.20" r="0.95" fill="#26458f" stroke="none" stroke-width="1.0"/>
<circle cx="504.75" cy="201.97" r="0.95" fill="#26458f" stroke="none" stroke-width="1.0"/>
<line x1="422.80" y1="150.70" x2="422.80" y2="211.90" stroke="#231f20" stroke-width="1.25"/>
<line x1="422.20" y1="211.30" x2="509.80" y2="211.30" stroke="#231f20" stroke-width="1.25"/>
<line x1="420.40" y1="211.30" x2="422.80" y2="211.30" stroke="#231f20" stroke-width="0.9"/>
<text x="419.00" y="212.90" font-size="4.6" text-anchor="end" fill="#333">0</text>
<line x1="420.40" y1="191.87" x2="422.80" y2="191.87" stroke="#231f20" stroke-width="0.9"/>
<text x="419.00" y="193.47" font-size="4.6" text-anchor="end" fill="#333">5</text>
<line x1="420.40" y1="172.43" x2="422.80" y2="172.43" stroke="#231f20" stroke-width="0.9"/>
<text x="419.00" y="174.03" font-size="4.6" text-anchor="end" fill="#333">10</text>
<line x1="420.40" y1="153.00" x2="422.80" y2="153.00" stroke="#231f20" stroke-width="0.9"/>
<text x="419.00" y="154.59" font-size="4.6" text-anchor="end" fill="#333">15</text>
<line x1="437.10" y1="211.30" x2="437.10" y2="213.70" stroke="#231f20" stroke-width="0.9"/>
<line x1="466.00" y1="211.30" x2="466.00" y2="213.70" stroke="#231f20" stroke-width="0.9"/>
<line x1="494.80" y1="211.30" x2="494.80" y2="213.70" stroke="#231f20" stroke-width="0.9"/>
<path d="M456.30,163.40 L456.30,148.30 L475.20,148.30 L475.20,163.40" fill="none" stroke="#222" stroke-width="1.1"/>
<path d="M462.80,163.40 L462.80,154.50 L475.20,154.50 L475.20,163.40" fill="none" stroke="#222" stroke-width="1.1"/>
<path d="M469.40,163.40 L469.40,160.30 L475.20,160.30 L475.20,163.40" fill="none" stroke="#222" stroke-width="1.1"/>
<text x="465.50" y="147.40" font-size="4.0" text-anchor="middle" fill="#333">**</text>
<text x="468.90" y="153.60" font-size="4.0" text-anchor="middle" fill="#333">*</text>
<text x="472.10" y="159.30" font-size="4.0" text-anchor="middle" fill="#333">*</text>
<text x="397.40" y="181.00" font-size="7.6" text-anchor="middle" textLength="53.70" lengthAdjust="spacingAndGlyphs" stroke="#231f20" stroke-width="0.142" transform="rotate(-90 397.40 181.00)">Ly6C<tspan font-size="4.5" dy="-2.8">lo</tspan><tspan dy="2.8">monocytes</tspan></text>
<text x="405.40" y="180.70" font-size="7.6" text-anchor="middle" textLength="17.80" lengthAdjust="spacingAndGlyphs" stroke="#231f20" stroke-width="0.142" transform="rotate(-90 405.40 180.70)">(x10<tspan font-size="4.5" dy="-2.8">5</tspan><tspan dy="2.8">)</tspan></text>
<text x="437.10" y="222.20" font-size="4.8" text-anchor="middle" fill="#333">8</text>
<text x="466.00" y="222.20" font-size="4.8" text-anchor="middle" fill="#333">10</text>
<text x="494.80" y="222.20" font-size="4.8" text-anchor="middle" fill="#333">12</text>
<text x="466.60" y="232.80" font-size="7.8" text-anchor="middle" textLength="45.50" lengthAdjust="spacingAndGlyphs" stroke="#231f20" stroke-width="0.146">Days post BMT</text>
<text x="257.20" y="274.00" font-size="11.0" textLength="7.60" lengthAdjust="spacingAndGlyphs" fill="#2a2a2a" stroke="#2a2a2a" stroke-width="0.206">G</text>
<line x1="290.05" y1="350.39" x2="290.05" y2="350.10" stroke="#1a1a1a" stroke-width="0.9"/>
<line x1="289.05" y1="350.10" x2="291.05" y2="350.10" stroke="#1a1a1a" stroke-width="0.9"/>
<rect x="288.02" y="350.39" width="4.05" height="0.60" fill="#fff" stroke="#c41a40" stroke-width="1.25"/>
<circle cx="290.05" cy="350.68" r="0.95" fill="#c41a40" stroke="none" stroke-width="1.0"/>
<line x1="296.25" y1="348.52" x2="296.25" y2="347.08" stroke="#1a1a1a" stroke-width="0.9"/>
<line x1="295.25" y1="347.08" x2="297.25" y2="347.08" stroke="#1a1a1a" stroke-width="0.9"/>
<rect x="294.22" y="348.52" width="4.05" height="2.28" fill="#fff" stroke="#c8c8c8" stroke-width="1.25"/>
<circle cx="296.25" cy="347.80" r="0.95" fill="#b0b0b0" stroke="none" stroke-width="1.0"/>
<circle cx="297.25" cy="349.96" r="0.95" fill="#b0b0b0" stroke="none" stroke-width="1.0"/>
<line x1="302.45" y1="333.11" x2="302.45" y2="325.77" stroke="#1a1a1a" stroke-width="0.9"/>
<line x1="301.45" y1="325.77" x2="303.45" y2="325.77" stroke="#1a1a1a" stroke-width="0.9"/>
<rect x="300.43" y="333.11" width="4.05" height="17.69" fill="#fff" stroke="#72b847" stroke-width="1.25"/>
<circle cx="302.45" cy="317.56" r="0.95" fill="#6cb240" stroke="none" stroke-width="1.0"/>
<circle cx="302.45" cy="322.60" r="0.95" fill="#6cb240" stroke="none" stroke-width="1.0"/>
<circle cx="302.45" cy="338.44" r="0.95" fill="#6cb240" stroke="none" stroke-width="1.0"/>
<circle cx="302.45" cy="347.08" r="0.95" fill="#6cb240" stroke="none" stroke-width="1.0"/>
<line x1="308.65" y1="347.08" x2="308.65" y2="346.50" stroke="#1a1a1a" stroke-width="0.9"/>
<line x1="307.65" y1="346.50" x2="309.65" y2="346.50" stroke="#1a1a1a" stroke-width="0.9"/>
<rect x="306.62" y="347.08" width="4.05" height="3.72" fill="#fff" stroke="#5577b8" stroke-width="1.25"/>
<circle cx="308.65" cy="347.08" r="0.95" fill="#26458f" stroke="none" stroke-width="1.0"/>
<line x1="318.95" y1="340.31" x2="318.95" y2="338.01" stroke="#1a1a1a" stroke-width="0.9"/>
<line x1="317.95" y1="338.01" x2="319.95" y2="338.01" stroke="#1a1a1a" stroke-width="0.9"/>
<rect x="316.93" y="340.31" width="4.05" height="10.49" fill="#fff" stroke="#c41a40" stroke-width="1.25"/>
<circle cx="318.95" cy="334.84" r="0.95" fill="#c41a40" stroke="none" stroke-width="1.0"/>
<circle cx="318.95" cy="344.20" r="0.95" fill="#c41a40" stroke="none" stroke-width="1.0"/>
<circle cx="319.95" cy="341.32" r="0.95" fill="#c41a40" stroke="none" stroke-width="1.0"/>
<line x1="325.15" y1="334.55" x2="325.15" y2="331.96" stroke="#1a1a1a" stroke-width="0.9"/>
<line x1="324.15" y1="331.96" x2="326.15" y2="331.96" stroke="#1a1a1a" stroke-width="0.9"/>
<rect x="323.12" y="334.55" width="4.05" height="16.25" fill="#fff" stroke="#c8c8c8" stroke-width="1.25"/>
<circle cx="325.15" cy="329.08" r="0.95" fill="#b0b0b0" stroke="none" stroke-width="1.0"/>
<circle cx="326.15" cy="332.68" r="0.95" fill="#b0b0b0" stroke="none" stroke-width="1.0"/>
<line x1="331.35" y1="335.13" x2="331.35" y2="331.24" stroke="#1a1a1a" stroke-width="0.9"/>
<line x1="330.35" y1="331.24" x2="332.35" y2="331.24" stroke="#1a1a1a" stroke-width="0.9"/>
<rect x="329.33" y="335.13" width="4.05" height="15.67" fill="#fff" stroke="#72b847" stroke-width="1.25"/>
<circle cx="331.35" cy="328.36" r="0.95" fill="#6cb240" stroke="none" stroke-width="1.0"/>
<circle cx="331.35" cy="337.72" r="0.95" fill="#6cb240" stroke="none" stroke-width="1.0"/>
<circle cx="331.35" cy="344.20" r="0.95" fill="#6cb240" stroke="none" stroke-width="1.0"/>
<line x1="337.55" y1="316.26" x2="337.55" y2="309.35" stroke="#1a1a1a" stroke-width="0.9"/>
<line x1="336.55" y1="309.35" x2="338.55" y2="309.35" stroke="#1a1a1a" stroke-width="0.9"/>
<rect x="335.53" y="316.26" width="4.05" height="34.54" fill="#fff" stroke="#5577b8" stroke-width="1.25"/>
<circle cx="337.55" cy="299.99" r="0.95" fill="#26458f" stroke="none" stroke-width="1.0"/>
<line x1="347.85" y1="350.39" x2="347.85" y2="350.10" stroke="#1a1a1a" stroke-width="0.9"/>
<line x1="346.85" y1="350.10" x2="348.85" y2="350.10" stroke="#1a1a1a" stroke-width="0.9"/>
<rect x="345.82" y="350.39" width="4.05" height="0.60" fill="#fff" stroke="#c41a40" stroke-width="1.25"/>
<circle cx="347.85" cy="350.54" r="0.95" fill="#c41a40" stroke="none" stroke-width="1.0"/>
<line x1="354.05" y1="342.76" x2="354.05" y2="342.04" stroke="#1a1a1a" stroke-width="0.9"/>
<line x1="353.05" y1="342.04" x2="355.05" y2="342.04" stroke="#1a1a1a" stroke-width="0.9"/>
<rect x="352.02" y="342.76" width="4.05" height="8.04" fill="#fff" stroke="#c8c8c8" stroke-width="1.25"/>
<circle cx="354.05" cy="342.04" r="0.95" fill="#b0b0b0" stroke="none" stroke-width="1.0"/>
<line x1="360.25" y1="349.67" x2="360.25" y2="349.38" stroke="#1a1a1a" stroke-width="0.9"/>
<line x1="359.25" y1="349.38" x2="361.25" y2="349.38" stroke="#1a1a1a" stroke-width="0.9"/>
<rect x="358.23" y="349.67" width="4.05" height="1.13" fill="#fff" stroke="#72b847" stroke-width="1.25"/>
<circle cx="360.25" cy="349.67" r="0.95" fill="#6cb240" stroke="none" stroke-width="1.0"/>
<line x1="366.45" y1="333.11" x2="366.45" y2="329.80" stroke="#1a1a1a" stroke-width="0.9"/>
<line x1="365.45" y1="329.80" x2="367.45" y2="329.80" stroke="#1a1a1a" stroke-width="0.9"/>
<rect x="364.43" y="333.11" width="4.05" height="17.69" fill="#fff" stroke="#5577b8" stroke-width="1.25"/>
<circle cx="366.45" cy="326.92" r="0.95" fill="#26458f" stroke="none" stroke-width="1.0"/>
<line x1="285.00" y1="291.30" x2="285.00" y2="352.00" stroke="#231f20" stroke-width="1.25"/>
<line x1="284.40" y1="351.40" x2="372.20" y2="351.40" stroke="#231f20" stroke-width="1.25"/>
<line x1="282.60" y1="351.40" x2="285.00" y2="351.40" stroke="#231f20" stroke-width="0.9"/>
<text x="281.20" y="353.00" font-size="4.6" text-anchor="end" fill="#333">0</text>
<line x1="282.60" y1="337.00" x2="285.00" y2="337.00" stroke="#231f20" stroke-width="0.9"/>
<text x="281.20" y="338.60" font-size="4.6" text-anchor="end" fill="#333">1</text>
<line x1="282.60" y1="322.60" x2="285.00" y2="322.60" stroke="#231f20" stroke-width="0.9"/>
<text x="281.20" y="324.20" font-size="4.6" text-anchor="end" fill="#333">2</text>
<line x1="282.60" y1="308.20" x2="285.00" y2="308.20" stroke="#231f20" stroke-width="0.9"/>
<text x="281.20" y="309.80" font-size="4.6" text-anchor="end" fill="#333">3</text>
<line x1="282.60" y1="293.80" x2="285.00" y2="293.80" stroke="#231f20" stroke-width="0.9"/>
<text x="281.20" y="295.40" font-size="4.6" text-anchor="end" fill="#333">4</text>
<line x1="299.20" y1="351.40" x2="299.20" y2="353.80" stroke="#231f20" stroke-width="0.9"/>
<line x1="328.10" y1="351.40" x2="328.10" y2="353.80" stroke="#231f20" stroke-width="0.9"/>
<line x1="357.00" y1="351.40" x2="357.00" y2="353.80" stroke="#231f20" stroke-width="0.9"/>
<path d="M318.50,298.40 L318.50,283.40 L337.50,283.40 L337.50,298.40" fill="none" stroke="#222" stroke-width="1.1"/>
<path d="M325.20,298.40 L325.20,288.90 L337.50,288.90 L337.50,298.40" fill="none" stroke="#222" stroke-width="1.1"/>
<path d="M331.40,298.40 L331.40,294.80 L337.50,294.80 L337.50,298.40" fill="none" stroke="#222" stroke-width="1.1"/>
<text x="327.80" y="282.50" font-size="4.0" text-anchor="middle" fill="#333">****</text>
<text x="331.00" y="288.00" font-size="4.0" text-anchor="middle" fill="#333">**</text>
<text x="334.40" y="293.80" font-size="4.0" text-anchor="middle" fill="#333">**</text>
<path d="M347.30,323.20 L347.30,318.80 L366.20,318.80 L366.20,323.20" fill="none" stroke="#222" stroke-width="1.1"/>
<path d="M359.40,325.00 L359.40,323.00 L366.20,323.00 L366.20,325.00" fill="none" stroke="#222" stroke-width="1.1"/>
<text x="357.00" y="317.60" font-size="4.0" text-anchor="middle" fill="#333">*</text>
<text x="362.70" y="322.40" font-size="4.0" text-anchor="middle" fill="#333">*</text>
<text x="262.40" y="321.00" font-size="7.8" text-anchor="middle" textLength="55.60" lengthAdjust="spacingAndGlyphs" stroke="#231f20" stroke-width="0.146" transform="rotate(-90 262.40 321.00)">Stress progenitors</text>
<text x="270.60" y="320.80" font-size="7.8" text-anchor="middle" textLength="28.90" lengthAdjust="spacingAndGlyphs" stroke="#231f20" stroke-width="0.146" transform="rotate(-90 270.60 320.80)">% in total</text>
<text x="299.20" y="362.30" font-size="4.8" text-anchor="middle" fill="#333">8</text>
<text x="328.10" y="362.30" font-size="4.8" text-anchor="middle" fill="#333">10</text>
<text x="357.00" y="362.30" font-size="4.8" text-anchor="middle" fill="#333">12</text>
<text x="328.00" y="372.80" font-size="7.8" text-anchor="middle" textLength="45.50" lengthAdjust="spacingAndGlyphs" stroke="#231f20" stroke-width="0.146">Days post BMT</text>
<line x1="427.95" y1="349.22" x2="427.95" y2="348.93" stroke="#1a1a1a" stroke-width="0.9"/>
<line x1="426.95" y1="348.93" x2="428.95" y2="348.93" stroke="#1a1a1a" stroke-width="0.9"/>
<rect x="425.93" y="349.22" width="4.05" height="0.60" fill="#fff" stroke="#c41a40" stroke-width="1.25"/>
<circle cx="427.95" cy="349.51" r="0.95" fill="#c41a40" stroke="none" stroke-width="1.0"/>
<line x1="434.15" y1="347.78" x2="434.15" y2="347.20" stroke="#1a1a1a" stroke-width="0.9"/>
<line x1="433.15" y1="347.20" x2="435.15" y2="347.20" stroke="#1a1a1a" stroke-width="0.9"/>
<rect x="432.12" y="347.78" width="4.05" height="1.42" fill="#fff" stroke="#c8c8c8" stroke-width="1.25"/>
<circle cx="434.15" cy="348.36" r="0.95" fill="#b0b0b0" stroke="none" stroke-width="1.0"/>
<circle cx="435.15" cy="347.49" r="0.95" fill="#b0b0b0" stroke="none" stroke-width="1.0"/>
<line x1="440.35" y1="342.57" x2="440.35" y2="338.82" stroke="#1a1a1a" stroke-width="0.9"/>
<line x1="439.35" y1="338.82" x2="441.35" y2="338.82" stroke="#1a1a1a" stroke-width="0.9"/>
<rect x="438.33" y="342.57" width="4.05" height="6.63" fill="#fff" stroke="#72b847" stroke-width="1.25"/>
<circle cx="440.35" cy="331.59" r="0.95" fill="#6cb240" stroke="none" stroke-width="1.0"/>
<circle cx="440.35" cy="341.13" r="0.95" fill="#6cb240" stroke="none" stroke-width="1.0"/>
<circle cx="440.35" cy="346.91" r="0.95" fill="#6cb240" stroke="none" stroke-width="1.0"/>
<line x1="446.55" y1="347.49" x2="446.55" y2="346.91" stroke="#1a1a1a" stroke-width="0.9"/>
<line x1="445.55" y1="346.91" x2="447.55" y2="346.91" stroke="#1a1a1a" stroke-width="0.9"/>
<rect x="444.53" y="347.49" width="4.05" height="1.71" fill="#fff" stroke="#5577b8" stroke-width="1.25"/>
<circle cx="446.55" cy="347.20" r="0.95" fill="#26458f" stroke="none" stroke-width="1.0"/>
<line x1="456.85" y1="340.26" x2="456.85" y2="338.24" stroke="#1a1a1a" stroke-width="0.9"/>
<line x1="455.85" y1="338.24" x2="457.85" y2="338.24" stroke="#1a1a1a" stroke-width="0.9"/>
<rect x="454.82" y="340.26" width="4.05" height="8.94" fill="#fff" stroke="#c41a40" stroke-width="1.25"/>
<circle cx="456.85" cy="334.77" r="0.95" fill="#c41a40" stroke="none" stroke-width="1.0"/>
<circle cx="456.85" cy="342.57" r="0.95" fill="#c41a40" stroke="none" stroke-width="1.0"/>
<circle cx="456.85" cy="345.47" r="0.95" fill="#c41a40" stroke="none" stroke-width="1.0"/>
<line x1="463.05" y1="343.15" x2="463.05" y2="341.13" stroke="#1a1a1a" stroke-width="0.9"/>
<line x1="462.05" y1="341.13" x2="464.05" y2="341.13" stroke="#1a1a1a" stroke-width="0.9"/>
<rect x="461.02" y="343.15" width="4.05" height="6.05" fill="#fff" stroke="#c8c8c8" stroke-width="1.25"/>
<circle cx="463.05" cy="334.77" r="0.95" fill="#b0b0b0" stroke="none" stroke-width="1.0"/>
<circle cx="463.05" cy="338.82" r="0.95" fill="#b0b0b0" stroke="none" stroke-width="1.0"/>
<circle cx="463.05" cy="344.02" r="0.95" fill="#b0b0b0" stroke="none" stroke-width="1.0"/>
<line x1="469.25" y1="331.30" x2="469.25" y2="328.99" stroke="#1a1a1a" stroke-width="0.9"/>
<line x1="468.25" y1="328.99" x2="470.25" y2="328.99" stroke="#1a1a1a" stroke-width="0.9"/>
<rect x="467.23" y="331.30" width="4.05" height="17.90" fill="#fff" stroke="#72b847" stroke-width="1.25"/>
<circle cx="469.25" cy="325.24" r="0.95" fill="#6cb240" stroke="none" stroke-width="1.0"/>
<circle cx="469.25" cy="338.24" r="0.95" fill="#6cb240" stroke="none" stroke-width="1.0"/>
<circle cx="469.25" cy="343.44" r="0.95" fill="#6cb240" stroke="none" stroke-width="1.0"/>
<line x1="475.45" y1="324.08" x2="475.45" y2="316.85" stroke="#1a1a1a" stroke-width="0.9"/>
<line x1="474.45" y1="316.85" x2="476.45" y2="316.85" stroke="#1a1a1a" stroke-width="0.9"/>
<rect x="473.43" y="324.08" width="4.05" height="25.12" fill="#fff" stroke="#5577b8" stroke-width="1.25"/>
<circle cx="475.45" cy="302.12" r="0.95" fill="#26458f" stroke="none" stroke-width="1.0"/>
<line x1="485.65" y1="348.36" x2="485.65" y2="348.07" stroke="#1a1a1a" stroke-width="0.9"/>
<line x1="484.65" y1="348.07" x2="486.65" y2="348.07" stroke="#1a1a1a" stroke-width="0.9"/>
<rect x="483.62" y="348.36" width="4.05" height="0.84" fill="#fff" stroke="#c41a40" stroke-width="1.25"/>
<circle cx="485.65" cy="348.64" r="0.95" fill="#c41a40" stroke="none" stroke-width="1.0"/>
<line x1="491.85" y1="344.60" x2="491.85" y2="343.44" stroke="#1a1a1a" stroke-width="0.9"/>
<line x1="490.85" y1="343.44" x2="492.85" y2="343.44" stroke="#1a1a1a" stroke-width="0.9"/>
<rect x="489.82" y="344.60" width="4.05" height="4.60" fill="#fff" stroke="#c8c8c8" stroke-width="1.25"/>
<circle cx="491.85" cy="341.71" r="0.95" fill="#b0b0b0" stroke="none" stroke-width="1.0"/>
<circle cx="491.85" cy="345.47" r="0.95" fill="#b0b0b0" stroke="none" stroke-width="1.0"/>
<line x1="498.05" y1="347.20" x2="498.05" y2="346.91" stroke="#1a1a1a" stroke-width="0.9"/>
<line x1="497.05" y1="346.91" x2="499.05" y2="346.91" stroke="#1a1a1a" stroke-width="0.9"/>
<rect x="496.03" y="347.20" width="4.05" height="2.00" fill="#fff" stroke="#72b847" stroke-width="1.25"/>
<circle cx="498.05" cy="347.49" r="0.95" fill="#6cb240" stroke="none" stroke-width="1.0"/>
<line x1="504.25" y1="336.22" x2="504.25" y2="333.91" stroke="#1a1a1a" stroke-width="0.9"/>
<line x1="503.25" y1="333.91" x2="505.25" y2="333.91" stroke="#1a1a1a" stroke-width="0.9"/>
<rect x="502.23" y="336.22" width="4.05" height="12.98" fill="#fff" stroke="#5577b8" stroke-width="1.25"/>
<circle cx="504.25" cy="332.46" r="0.95" fill="#26458f" stroke="none" stroke-width="1.0"/>
<circle cx="504.25" cy="335.35" r="0.95" fill="#26458f" stroke="none" stroke-width="1.0"/>
<line x1="422.80" y1="289.40" x2="422.80" y2="350.40" stroke="#231f20" stroke-width="1.25"/>
<line x1="422.20" y1="349.80" x2="509.80" y2="349.80" stroke="#231f20" stroke-width="1.25"/>
<line x1="420.40" y1="349.80" x2="422.80" y2="349.80" stroke="#231f20" stroke-width="0.9"/>
<text x="419.00" y="351.40" font-size="4.6" text-anchor="end" fill="#333">0</text>
<line x1="420.40" y1="335.35" x2="422.80" y2="335.35" stroke="#231f20" stroke-width="0.9"/>
<text x="419.00" y="336.95" font-size="4.6" text-anchor="end" fill="#333">50</text>
<line x1="420.40" y1="320.90" x2="422.80" y2="320.90" stroke="#231f20" stroke-width="0.9"/>
<text x="419.00" y="322.50" font-size="4.6" text-anchor="end" fill="#333">100</text>
<line x1="420.40" y1="306.45" x2="422.80" y2="306.45" stroke="#231f20" stroke-width="0.9"/>
<text x="419.00" y="308.05" font-size="4.6" text-anchor="end" fill="#333">150</text>
<line x1="420.40" y1="292.00" x2="422.80" y2="292.00" stroke="#231f20" stroke-width="0.9"/>
<text x="419.00" y="293.60" font-size="4.6" text-anchor="end" fill="#333">200</text>
<line x1="437.10" y1="349.80" x2="437.10" y2="352.20" stroke="#231f20" stroke-width="0.9"/>
<line x1="466.00" y1="349.80" x2="466.00" y2="352.20" stroke="#231f20" stroke-width="0.9"/>
<line x1="494.80" y1="349.80" x2="494.80" y2="352.20" stroke="#231f20" stroke-width="0.9"/>
<path d="M456.00,297.60 L456.00,290.80 L475.40,290.80 L475.40,297.60" fill="none" stroke="#222" stroke-width="1.1"/>
<path d="M462.80,298.20 L462.80,296.00 L475.40,296.00 L475.40,298.20" fill="none" stroke="#222" stroke-width="1.1"/>
<text x="465.40" y="289.60" font-size="4.0" text-anchor="middle" fill="#333">**</text>
<text x="469.00" y="295.00" font-size="4.0" text-anchor="middle" fill="#333">***</text>
<text x="394.00" y="320.00" font-size="7.8" text-anchor="middle" textLength="56.90" lengthAdjust="spacingAndGlyphs" stroke="#231f20" stroke-width="0.146" transform="rotate(-90 394.00 320.00)">Stress progenitors</text>
<text x="402.40" y="319.50" font-size="7.6" text-anchor="middle" textLength="17.50" lengthAdjust="spacingAndGlyphs" stroke="#231f20" stroke-width="0.142" transform="rotate(-90 402.40 319.50)">(x10<tspan font-size="4.5" dy="-2.8">7</tspan><tspan dy="2.8">)</tspan></text>
<text x="437.10" y="360.50" font-size="4.8" text-anchor="middle" fill="#333">8</text>
<text x="466.00" y="360.50" font-size="4.8" text-anchor="middle" fill="#333">10</text>
<text x="494.80" y="360.50" font-size="4.8" text-anchor="middle" fill="#333">12</text>
<text x="466.00" y="371.40" font-size="7.8" text-anchor="middle" textLength="45.50" lengthAdjust="spacingAndGlyphs" stroke="#231f20" stroke-width="0.146">Days post BMT</text>
<text x="11.20" y="326.40" font-size="11.0" textLength="6.30" lengthAdjust="spacingAndGlyphs" fill="#2a2a2a" stroke="#2a2a2a" stroke-width="0.206">H</text>
<line x1="52.85" y1="385.41" x2="52.85" y2="379.44" stroke="#333" stroke-width="0.9"/>
<line x1="51.85" y1="379.44" x2="53.85" y2="379.44" stroke="#333" stroke-width="0.9"/>
<rect x="49.00" y="385.41" width="7.70" height="14.19" fill="#fff" stroke="#c41a40" stroke-width="1.2"/>
<circle cx="52.85" cy="373.47" r="1.20" fill="#c41a40" stroke="none" stroke-width="1.0"/>
<circle cx="52.85" cy="388.52" r="1.20" fill="#c41a40" stroke="none" stroke-width="1.0"/>
<circle cx="52.85" cy="394.23" r="1.20" fill="#c41a40" stroke="none" stroke-width="1.0"/>
<line x1="65.35" y1="384.63" x2="65.35" y2="374.25" stroke="#555" stroke-width="0.9"/>
<line x1="64.35" y1="374.25" x2="66.35" y2="374.25" stroke="#555" stroke-width="0.9"/>
<rect x="61.50" y="384.63" width="7.70" height="14.97" fill="#fff" stroke="#c8c8c8" stroke-width="1.2"/>
<circle cx="64.85" cy="393.71" r="1.20" fill="#b8b8b8" stroke="none" stroke-width="1.0"/>
<line x1="85.25" y1="391.38" x2="85.25" y2="387.74" stroke="#333" stroke-width="0.9"/>
<line x1="84.25" y1="387.74" x2="86.25" y2="387.74" stroke="#333" stroke-width="0.9"/>
<rect x="81.40" y="391.38" width="7.70" height="8.22" fill="#fff" stroke="#c41a40" stroke-width="1.2"/>
<circle cx="84.05" cy="387.22" r="1.20" fill="#c41a40" stroke="none" stroke-width="1.0"/>
<circle cx="85.75" cy="388.52" r="1.20" fill="#c41a40" stroke="none" stroke-width="1.0"/>
<circle cx="85.25" cy="398.90" r="1.20" fill="#c41a40" stroke="none" stroke-width="1.0"/>
<line x1="97.75" y1="358.42" x2="97.75" y2="344.93" stroke="#555" stroke-width="0.9"/>
<line x1="96.75" y1="344.93" x2="98.75" y2="344.93" stroke="#555" stroke-width="0.9"/>
<rect x="93.90" y="358.42" width="7.70" height="41.18" fill="#fff" stroke="#c8c8c8" stroke-width="1.2"/>
<circle cx="97.75" cy="371.65" r="1.20" fill="#b8b8b8" stroke="none" stroke-width="1.0"/>
<line x1="42.80" y1="332.80" x2="42.80" y2="400.80" stroke="#231f20" stroke-width="1.25"/>
<line x1="42.20" y1="400.20" x2="108.00" y2="400.20" stroke="#231f20" stroke-width="1.25"/>
<line x1="40.40" y1="400.20" x2="42.80" y2="400.20" stroke="#231f20" stroke-width="0.9"/>
<text x="39.00" y="401.80" font-size="4.6" text-anchor="end" fill="#333">0.0</text>
<line x1="40.40" y1="387.22" x2="42.80" y2="387.22" stroke="#231f20" stroke-width="0.9"/>
<text x="39.00" y="388.82" font-size="4.6" text-anchor="end" fill="#333">0.5</text>
<line x1="40.40" y1="374.25" x2="42.80" y2="374.25" stroke="#231f20" stroke-width="0.9"/>
<text x="39.00" y="375.85" font-size="4.6" text-anchor="end" fill="#333">1.0</text>
<line x1="40.40" y1="361.27" x2="42.80" y2="361.27" stroke="#231f20" stroke-width="0.9"/>
<text x="39.00" y="362.88" font-size="4.6" text-anchor="end" fill="#333">1.5</text>
<line x1="40.40" y1="348.30" x2="42.80" y2="348.30" stroke="#231f20" stroke-width="0.9"/>
<text x="39.00" y="349.90" font-size="4.6" text-anchor="end" fill="#333">2.0</text>
<line x1="40.40" y1="335.32" x2="42.80" y2="335.32" stroke="#231f20" stroke-width="0.9"/>
<text x="39.00" y="336.93" font-size="4.6" text-anchor="end" fill="#333">2.5</text>
<line x1="58.80" y1="400.20" x2="58.80" y2="402.60" stroke="#231f20" stroke-width="0.9"/>
<line x1="91.20" y1="400.20" x2="91.20" y2="402.60" stroke="#231f20" stroke-width="0.9"/>
<line x1="84.20" y1="339.80" x2="98.30" y2="339.80" stroke="#222" stroke-width="1.1"/>
<text x="91.20" y="339.00" font-size="4.0" text-anchor="middle" fill="#333">*</text>
<text x="16.50" y="367.70" font-size="7.8" text-anchor="middle" textLength="61.40" lengthAdjust="spacingAndGlyphs" stroke="#231f20" stroke-width="0.146" transform="rotate(-90 16.50 367.70)">Monocyte number</text>
<text x="24.60" y="366.50" font-size="7.8" text-anchor="middle" textLength="37.00" lengthAdjust="spacingAndGlyphs" stroke="#231f20" stroke-width="0.146" transform="rotate(-90 24.60 366.50)">fold change</text>
<text x="58.80" y="410.80" font-size="4.8" text-anchor="middle" fill="#333">10</text>
<text x="91.20" y="410.80" font-size="4.8" text-anchor="middle" fill="#333">12</text>
<text x="75.00" y="421.50" font-size="7.8" text-anchor="middle" textLength="45.50" lengthAdjust="spacingAndGlyphs" stroke="#231f20" stroke-width="0.146">Days post BMT</text>
<rect x="123.20" y="338.20" width="7.10" height="5.50" fill="#b8143c" stroke="none" stroke-width="1.0"/>
<rect x="123.20" y="346.70" width="7.10" height="5.30" fill="#c8c8c8" stroke="none" stroke-width="1.0"/>
<text x="133.20" y="342.40" font-size="3.6" fill="#444">KO</text>
<text x="133.20" y="351.00" font-size="3.6" fill="#444">WT</text>
<rect x="155.90" y="319.20" width="1.80" height="7.10" fill="#231f20" stroke="none" stroke-width="1.0"/>
<line x1="198.70" y1="385.58" x2="198.70" y2="383.86" stroke="#333" stroke-width="0.9"/>
<line x1="197.70" y1="383.86" x2="199.70" y2="383.86" stroke="#333" stroke-width="0.9"/>
<rect x="194.80" y="385.58" width="7.80" height="14.02" fill="#fff" stroke="#c41a40" stroke-width="1.2"/>
<circle cx="198.70" cy="380.85" r="1.20" fill="#c41a40" stroke="none" stroke-width="1.0"/>
<circle cx="198.70" cy="387.30" r="1.20" fill="#c41a40" stroke="none" stroke-width="1.0"/>
<line x1="210.50" y1="362.36" x2="210.50" y2="357.20" stroke="#555" stroke-width="0.9"/>
<line x1="209.50" y1="357.20" x2="211.50" y2="357.20" stroke="#555" stroke-width="0.9"/>
<rect x="206.60" y="362.36" width="7.80" height="37.24" fill="#fff" stroke="#c8c8c8" stroke-width="1.2"/>
<circle cx="210.50" cy="366.66" r="1.20" fill="#b8b8b8" stroke="none" stroke-width="1.0"/>
<line x1="231.00" y1="388.59" x2="231.00" y2="381.71" stroke="#333" stroke-width="0.9"/>
<line x1="230.00" y1="381.71" x2="232.00" y2="381.71" stroke="#333" stroke-width="0.9"/>
<rect x="227.10" y="388.59" width="7.80" height="11.01" fill="#fff" stroke="#c41a40" stroke-width="1.2"/>
<circle cx="231.00" cy="374.40" r="1.20" fill="#c41a40" stroke="none" stroke-width="1.0"/>
<circle cx="231.00" cy="391.60" r="1.20" fill="#c41a40" stroke="none" stroke-width="1.0"/>
<circle cx="231.00" cy="398.05" r="1.20" fill="#c41a40" stroke="none" stroke-width="1.0"/>
<line x1="242.80" y1="370.53" x2="242.80" y2="363.22" stroke="#555" stroke-width="0.9"/>
<line x1="241.80" y1="363.22" x2="243.80" y2="363.22" stroke="#555" stroke-width="0.9"/>
<rect x="238.90" y="370.53" width="7.80" height="29.07" fill="#fff" stroke="#c8c8c8" stroke-width="1.2"/>
<circle cx="242.80" cy="377.84" r="1.20" fill="#b8b8b8" stroke="none" stroke-width="1.0"/>
<line x1="188.40" y1="332.90" x2="188.40" y2="400.80" stroke="#231f20" stroke-width="1.25"/>
<line x1="187.80" y1="400.20" x2="253.40" y2="400.20" stroke="#231f20" stroke-width="1.25"/>
<line x1="186.00" y1="400.20" x2="188.40" y2="400.20" stroke="#231f20" stroke-width="0.9"/>
<text x="184.60" y="401.80" font-size="4.6" text-anchor="end" fill="#333">0.0</text>
<line x1="186.00" y1="378.70" x2="188.40" y2="378.70" stroke="#231f20" stroke-width="0.9"/>
<text x="184.60" y="380.30" font-size="4.6" text-anchor="end" fill="#333">0.5</text>
<line x1="186.00" y1="357.20" x2="188.40" y2="357.20" stroke="#231f20" stroke-width="0.9"/>
<text x="184.60" y="358.80" font-size="4.6" text-anchor="end" fill="#333">1.0</text>
<line x1="186.00" y1="335.70" x2="188.40" y2="335.70" stroke="#231f20" stroke-width="0.9"/>
<text x="184.60" y="337.30" font-size="4.6" text-anchor="end" fill="#333">1.5</text>
<line x1="204.60" y1="400.20" x2="204.60" y2="402.60" stroke="#231f20" stroke-width="0.9"/>
<line x1="236.90" y1="400.20" x2="236.90" y2="402.60" stroke="#231f20" stroke-width="0.9"/>
<text x="162.30" y="366.30" font-size="7.8" text-anchor="middle" textLength="56.30" lengthAdjust="spacingAndGlyphs" stroke="#231f20" stroke-width="0.146" transform="rotate(-90 162.30 366.30)">Stress progenitors</text>
<text x="170.90" y="366.70" font-size="7.8" text-anchor="middle" textLength="62.60" lengthAdjust="spacingAndGlyphs" stroke="#231f20" stroke-width="0.146" transform="rotate(-90 170.90 366.70)">number fold change</text>
<text x="204.60" y="410.60" font-size="4.8" text-anchor="middle" fill="#333">10</text>
<text x="236.90" y="410.60" font-size="4.8" text-anchor="middle" fill="#333">12</text>
<text x="221.50" y="421.50" font-size="7.8" text-anchor="middle" textLength="45.50" lengthAdjust="spacingAndGlyphs" stroke="#231f20" stroke-width="0.146">Days post BMT</text>
<text x="11.00" y="435.80" font-size="10.0" textLength="4.20" lengthAdjust="spacingAndGlyphs" fill="#2a2a2a" stroke="#2a2a2a" stroke-width="0.188">J</text>
<text x="20.00" y="454.60" font-size="6.9" textLength="35.50" lengthAdjust="spacingAndGlyphs" stroke="#231f20" stroke-width="0.129">Bone marrow</text>
<circle cx="19.80" cy="487.40" r="6.60" fill="#ebb443" stroke="#7c7c8c" stroke-width="0.5"/>
<ellipse cx="19.80" cy="487.40" rx="2.80" ry="1.40" fill="#4a66b8"/>
<circle cx="38.10" cy="489.40" r="6.60" fill="#ebb443" stroke="#7c7c8c" stroke-width="0.5"/>
<ellipse cx="38.10" cy="489.40" rx="2.80" ry="1.40" fill="#4a66b8"/>
<circle cx="61.30" cy="497.50" r="6.60" fill="#ebb443" stroke="#7c7c8c" stroke-width="0.5"/>
<ellipse cx="61.30" cy="497.50" rx="2.80" ry="1.40" fill="#4a66b8"/>
<circle cx="80.50" cy="479.50" r="6.60" fill="#ebb443" stroke="#7c7c8c" stroke-width="0.5"/>
<ellipse cx="80.50" cy="479.50" rx="2.80" ry="1.40" fill="#4a66b8"/>
<circle cx="105.00" cy="478.30" r="6.60" fill="#ebb443" stroke="#7c7c8c" stroke-width="0.5"/>
<ellipse cx="105.00" cy="478.30" rx="2.80" ry="1.40" fill="#4a66b8"/>
<circle cx="97.00" cy="497.50" r="6.60" fill="#ebb443" stroke="#7c7c8c" stroke-width="0.5"/>
<ellipse cx="97.00" cy="497.50" rx="2.80" ry="1.40" fill="#4a66b8"/>
<circle cx="116.30" cy="499.40" r="6.60" fill="#ebb443" stroke="#7c7c8c" stroke-width="0.5"/>
<ellipse cx="116.30" cy="499.40" rx="2.80" ry="1.40" fill="#4a66b8"/>
<line x1="9.50" y1="515.60" x2="345.20" y2="515.60" stroke="#4a4a4a" stroke-width="1.6"/>
<circle cx="125.60" cy="516.70" r="6.60" fill="#ebb443" stroke="#7c7c8c" stroke-width="0.5"/>
<ellipse cx="125.60" cy="516.70" rx="2.80" ry="1.40" fill="#4a66b8"/>
<circle cx="139.80" cy="527.30" r="6.60" fill="#ebb443" stroke="#7c7c8c" stroke-width="0.5"/>
<ellipse cx="139.80" cy="527.30" rx="2.80" ry="1.40" fill="#4a66b8"/>
<text x="145.80" y="482.40" font-size="6.9" text-anchor="middle" textLength="51.30" lengthAdjust="spacingAndGlyphs" stroke="#231f20" stroke-width="0.129">Monocytes migrate</text>
<text x="145.80" y="490.10" font-size="6.9" text-anchor="middle" textLength="34.50" lengthAdjust="spacingAndGlyphs" stroke="#231f20" stroke-width="0.129">to the spleen</text>
<line x1="128.80" y1="499.40" x2="153.35" y2="523.50" stroke="#111" stroke-width="1.1"/>
<path d="M156.20,526.30 L152.08,524.78 L154.61,522.21 Z" fill="#111" stroke="none" stroke-width="1.0"/>
<text x="18.80" y="528.60" font-size="6.9" textLength="18.30" lengthAdjust="spacingAndGlyphs" stroke="#231f20" stroke-width="0.129">Spleen</text>
<line x1="69.50" y1="538.80" x2="53.37" y2="512.22" stroke="#111" stroke-width="1.1"/>
<path d="M51.30,508.80 L54.91,511.29 L51.84,513.15 Z" fill="#111" stroke="none" stroke-width="1.0"/>
<line x1="78.80" y1="538.00" x2="80.99" y2="509.79" stroke="#111" stroke-width="1.1"/>
<path d="M81.30,505.80 L82.78,509.93 L79.20,509.65 Z" fill="#111" stroke="none" stroke-width="1.0"/>
<line x1="88.80" y1="542.00" x2="100.49" y2="513.21" stroke="#111" stroke-width="1.1"/>
<path d="M102.00,509.50 L102.16,513.88 L98.83,512.53 Z" fill="#111" stroke="none" stroke-width="1.0"/>
<text x="77.50" y="551.00" font-size="6.9" text-anchor="middle" textLength="11.80" lengthAdjust="spacingAndGlyphs" stroke="#231f20" stroke-width="0.129">Ccl2</text>
<path d="M34.23,553.00 L33.87,553.98 L33.74,554.95 L33.89,556.04 L34.23,557.35 L34.56,558.88 L34.65,560.53 L34.28,562.08 L33.37,563.24 L31.99,563.80 L30.34,563.68 L28.69,562.96 L27.24,561.94 L26.10,560.98 L25.20,560.44 L24.35,560.51 L23.34,561.17 L21.99,562.19 L20.30,563.17 L18.45,563.74 L16.74,563.60 L15.50,562.70 L14.95,561.18 L15.12,559.33 L15.84,557.51 L16.77,555.95 L17.51,554.75 L17.77,553.84 L17.41,553.00 L16.56,552.03 L15.48,550.78 L14.55,549.27 L14.10,547.65 L14.29,546.15 L15.14,544.98 L16.47,544.27 L18.04,544.02 L19.61,544.10 L21.01,544.29 L22.19,544.41 L23.22,544.33 L24.19,544.04 L25.20,543.62 L26.30,543.20 L27.50,542.91 L28.75,542.85 L30.00,543.04 L31.19,543.47 L32.30,544.10 L33.30,544.90 L34.16,545.85 L34.83,546.95 L35.23,548.17 L35.32,549.46 L35.12,550.74 L34.71,551.93 Z" fill="#fff" stroke="#5a5a5a" stroke-width="0.6"/>
<circle cx="25.20" cy="553.00" r="3.30" fill="#4a66b8" stroke="none" stroke-width="1.0"/>
<path d="M30.19,576.00 L30.34,576.95 L30.86,578.05 L31.61,579.40 L32.28,581.00 L32.58,582.71 L32.28,584.28 L31.31,585.41 L29.80,585.91 L28.01,585.72 L26.24,585.01 L24.74,584.11 L23.59,583.41 L22.72,583.23 L21.90,583.72 L20.91,584.77 L19.60,586.07 L17.98,587.20 L16.23,587.78 L14.63,587.57 L13.49,586.55 L12.97,584.93 L13.06,583.05 L13.56,581.24 L14.15,579.73 L14.48,578.60 L14.34,577.73 L13.68,576.93 L12.65,576.00 L11.54,574.83 L10.68,573.44 L10.32,571.95 L10.58,570.55 L11.40,569.40 L12.62,568.60 L14.02,568.12 L15.41,567.86 L16.68,567.69 L17.80,567.49 L18.82,567.21 L19.81,566.86 L20.83,566.49 L21.90,566.18 L23.03,565.97 L24.21,565.89 L25.43,565.92 L26.68,566.08 L27.94,566.38 L29.17,566.88 L30.26,567.64 L31.11,568.66 L31.60,569.91 L31.67,571.29 L31.39,572.68 L30.90,573.95 L30.42,575.04 Z" fill="#fff" stroke="#5a5a5a" stroke-width="0.6"/>
<circle cx="21.90" cy="576.00" r="3.30" fill="#4a66b8" stroke="none" stroke-width="1.0"/>
<line x1="39.60" y1="566.50" x2="49.80" y2="566.50" stroke="#111" stroke-width="1.2"/>
<path d="M54.00,566.50 L49.80,568.50 L49.80,564.50 Z" fill="#111" stroke="none" stroke-width="1.0"/>
<path d="M79.56,567.20 L79.19,568.19 L78.88,569.14 L78.71,570.11 L78.70,571.20 L78.78,572.46 L78.79,573.89 L78.56,575.36 L77.95,576.67 L76.93,577.60 L75.58,577.96 L74.07,577.69 L72.62,576.92 L71.38,575.90 L70.40,574.98 L69.58,574.44 L68.74,574.45 L67.68,574.97 L66.27,575.77 L64.57,576.48 L62.77,576.77 L61.18,576.42 L60.13,575.39 L59.80,573.86 L60.21,572.11 L61.13,570.44 L62.21,569.07 L63.05,568.03 L63.36,567.20 L63.04,566.37 L62.24,565.34 L61.25,564.00 L60.45,562.41 L60.15,560.76 L60.51,559.31 L61.51,558.31 L62.95,557.86 L64.57,557.92 L66.12,558.30 L67.45,558.76 L68.54,559.06 L69.48,559.07 L70.40,558.77 L71.40,558.29 L72.54,557.81 L73.79,557.51 L75.07,557.51 L76.27,557.85 L77.34,558.50 L78.23,559.37 L78.94,560.39 L79.49,561.49 L79.86,562.64 L80.06,563.82 L80.06,564.99 L79.88,566.13 Z" fill="#fff" stroke="#5a5a5a" stroke-width="0.6"/>
<circle cx="70.40" cy="567.20" r="3.30" fill="#4a66b8" stroke="none" stroke-width="1.0"/>
<path d="M93.92,569.30 L94.04,570.34 L94.32,571.47 L94.70,572.77 L95.02,574.22 L95.07,575.75 L94.69,577.19 L93.79,578.29 L92.45,578.89 L90.84,578.91 L89.20,578.43 L87.74,577.71 L86.58,577.08 L85.65,576.85 L84.80,577.19 L83.81,578.06 L82.53,579.24 L80.94,580.34 L79.18,580.97 L77.54,580.86 L76.31,579.94 L75.73,578.37 L75.81,576.47 L76.39,574.58 L77.14,572.99 L77.66,571.80 L77.65,570.93 L77.00,570.18 L75.84,569.30 L74.48,568.14 L73.32,566.68 L72.72,565.07 L72.86,563.55 L73.75,562.36 L75.19,561.63 L76.88,561.38 L78.53,561.44 L79.95,561.58 L81.08,561.58 L81.99,561.28 L82.83,560.69 L83.74,559.90 L84.80,559.11 L86.02,558.51 L87.32,558.24 L88.63,558.35 L89.85,558.81 L90.93,559.54 L91.86,560.44 L92.64,561.46 L93.26,562.55 L93.72,563.70 L93.99,564.87 L94.09,566.05 L94.05,567.19 L93.95,568.27 Z" fill="#fff" stroke="#5a5a5a" stroke-width="0.6"/>
<circle cx="84.80" cy="569.30" r="3.30" fill="#4a66b8" stroke="none" stroke-width="1.0"/>
<circle cx="68.50" cy="561.70" r="1.60" fill="#d8232f" stroke="#9c1a26" stroke-width="0.3"/>
<circle cx="61.30" cy="573.20" r="1.60" fill="#d8232f" stroke="#9c1a26" stroke-width="0.3"/>
<circle cx="66.90" cy="577.40" r="1.60" fill="#d8232f" stroke="#9c1a26" stroke-width="0.3"/>
<circle cx="82.90" cy="563.60" r="1.60" fill="#d8232f" stroke="#9c1a26" stroke-width="0.3"/>
<circle cx="76.50" cy="575.50" r="1.60" fill="#d8232f" stroke="#9c1a26" stroke-width="0.3"/>
<circle cx="81.50" cy="579.30" r="1.60" fill="#d8232f" stroke="#9c1a26" stroke-width="0.3"/>
<text x="75.00" y="591.00" font-size="6.9" text-anchor="middle" textLength="25.50" lengthAdjust="spacingAndGlyphs" stroke="#231f20" stroke-width="0.129">Increased</text>
<text x="75.60" y="599.20" font-size="6.9" text-anchor="middle" textLength="55.30" lengthAdjust="spacingAndGlyphs" stroke="#231f20" stroke-width="0.129">erythrophagocytosis</text>
<line x1="25.00" y1="608.00" x2="25.00" y2="594.70" stroke="#111" stroke-width="1.2"/>
<path d="M25.00,590.50 L27.00,594.70 L23.00,594.70 Z" fill="#111" stroke="none" stroke-width="1.0"/>
<text x="25.30" y="616.00" font-size="6.9" text-anchor="middle" textLength="20.00" lengthAdjust="spacingAndGlyphs" stroke="#231f20" stroke-width="0.129">Anemic</text>
<text x="25.30" y="623.40" font-size="6.9" text-anchor="middle" textLength="23.30" lengthAdjust="spacingAndGlyphs" stroke="#231f20" stroke-width="0.129">stimulus</text>
<path d="M169.74,536.40 L169.93,537.05 L170.05,537.74 L170.08,538.46 L169.98,539.18 L169.74,539.88 L169.36,540.52 L168.86,541.06 L168.24,541.47 L167.56,541.75 L166.85,541.91 L166.14,541.95 L165.46,541.90 L164.81,541.81 L164.20,541.69 L163.62,541.57 L163.04,541.47 L162.46,541.38 L161.85,541.28 L161.21,541.15 L160.56,540.97 L159.90,540.70 L159.28,540.33 L158.72,539.84 L158.28,539.25 L157.96,538.58 L157.80,537.86 L157.80,537.12 L157.94,536.40 L158.20,535.72 L158.55,535.11 L158.94,534.56 L159.35,534.06 L159.75,533.61 L160.14,533.16 L160.51,532.71 L160.89,532.25 L161.29,531.76 L161.73,531.28 L162.24,530.81 L162.83,530.40 L163.49,530.08 L164.20,529.89 L164.94,529.85 L165.67,529.96 L166.36,530.24 L166.97,530.65 L167.49,531.16 L167.91,531.74 L168.25,532.35 L168.50,532.97 L168.72,533.56 L168.91,534.13 L169.10,534.69 L169.31,535.23 L169.53,535.80 Z" fill="#ebb443" stroke="#8a7a5a" stroke-width="0.4"/>
<ellipse cx="164.20" cy="536.40" rx="2.60" ry="1.35" fill="#4a66b8"/>
<circle cx="164.20" cy="530.00" r="2.30" fill="#fff" stroke="#6c78c0" stroke-width="0.6"/>
<circle cx="170.00" cy="533.70" r="2.30" fill="#fff" stroke="#6c78c0" stroke-width="0.6"/>
<circle cx="168.31" cy="541.30" r="2.30" fill="#fff" stroke="#6c78c0" stroke-width="0.6"/>
<circle cx="159.30" cy="540.51" r="2.30" fill="#fff" stroke="#6c78c0" stroke-width="0.6"/>
<path d="M187.05,533.50 L186.83,534.10 L186.61,534.67 L186.40,535.22 L186.20,535.77 L186.01,536.33 L185.80,536.93 L185.54,537.54 L185.21,538.15 L184.79,538.73 L184.27,539.24 L183.65,539.66 L182.97,539.93 L182.24,540.06 L181.50,540.02 L180.79,539.83 L180.13,539.51 L179.54,539.10 L179.03,538.63 L178.58,538.15 L178.18,537.66 L177.81,537.19 L177.44,536.74 L177.06,536.29 L176.66,535.83 L176.25,535.34 L175.86,534.79 L175.51,534.17 L175.25,533.50 L175.11,532.78 L175.11,532.04 L175.26,531.32 L175.57,530.65 L176.02,530.06 L176.57,529.57 L177.19,529.19 L177.85,528.92 L178.51,528.74 L179.15,528.61 L179.76,528.52 L180.34,528.43 L180.92,528.33 L181.50,528.22 L182.11,528.10 L182.75,528.01 L183.44,527.96 L184.15,528.00 L184.86,528.15 L185.54,528.43 L186.15,528.85 L186.67,529.38 L187.05,530.01 L187.29,530.71 L187.39,531.44 L187.36,532.16 L187.24,532.85 Z" fill="#ebb443" stroke="#8a7a5a" stroke-width="0.4"/>
<ellipse cx="181.50" cy="533.50" rx="2.60" ry="1.35" fill="#4a66b8"/>
<circle cx="181.50" cy="527.10" r="2.30" fill="#fff" stroke="#6c78c0" stroke-width="0.6"/>
<circle cx="187.30" cy="530.80" r="2.30" fill="#fff" stroke="#6c78c0" stroke-width="0.6"/>
<circle cx="185.61" cy="538.40" r="2.30" fill="#fff" stroke="#6c78c0" stroke-width="0.6"/>
<circle cx="176.60" cy="537.61" r="2.30" fill="#fff" stroke="#6c78c0" stroke-width="0.6"/>
<path d="M176.90,550.30 L176.94,550.89 L176.98,551.50 L177.00,552.15 L176.96,552.83 L176.85,553.53 L176.62,554.22 L176.27,554.87 L175.80,555.44 L175.22,555.89 L174.55,556.21 L173.83,556.38 L173.09,556.40 L172.38,556.30 L171.70,556.10 L171.08,555.84 L170.50,555.55 L169.96,555.26 L169.45,554.98 L168.93,554.72 L168.39,554.45 L167.83,554.17 L167.25,553.85 L166.69,553.45 L166.16,552.97 L165.70,552.40 L165.35,551.75 L165.15,551.04 L165.10,550.30 L165.21,549.57 L165.47,548.88 L165.86,548.26 L166.33,547.71 L166.85,547.26 L167.40,546.87 L167.93,546.53 L168.44,546.21 L168.94,545.90 L169.43,545.58 L169.93,545.24 L170.47,544.90 L171.05,544.57 L171.70,544.30 L172.40,544.11 L173.13,544.05 L173.86,544.12 L174.57,544.35 L175.20,544.72 L175.75,545.23 L176.17,545.83 L176.48,546.49 L176.68,547.17 L176.79,547.85 L176.84,548.50 L176.86,549.12 L176.87,549.72 Z" fill="#ebb443" stroke="#8a7a5a" stroke-width="0.4"/>
<ellipse cx="171.70" cy="550.30" rx="2.60" ry="1.35" fill="#4a66b8"/>
<circle cx="171.70" cy="543.90" r="2.30" fill="#fff" stroke="#6c78c0" stroke-width="0.6"/>
<circle cx="177.50" cy="547.60" r="2.30" fill="#fff" stroke="#6c78c0" stroke-width="0.6"/>
<circle cx="175.81" cy="555.20" r="2.30" fill="#fff" stroke="#6c78c0" stroke-width="0.6"/>
<circle cx="166.80" cy="554.41" r="2.30" fill="#fff" stroke="#6c78c0" stroke-width="0.6"/>
<path d="M159.65,556.60 L159.40,557.29 L159.06,557.92 L158.66,558.47 L158.23,558.97 L157.79,559.42 L157.37,559.85 L156.97,560.27 L156.58,560.71 L156.17,561.17 L155.72,561.63 L155.22,562.08 L154.65,562.50 L154.00,562.83 L153.30,563.05 L152.56,563.12 L151.83,563.04 L151.13,562.80 L150.50,562.42 L149.96,561.92 L149.52,561.34 L149.18,560.72 L148.92,560.09 L148.72,559.48 L148.55,558.89 L148.39,558.32 L148.22,557.76 L148.04,557.19 L147.85,556.60 L147.68,555.97 L147.56,555.29 L147.52,554.58 L147.59,553.85 L147.80,553.14 L148.15,552.49 L148.63,551.93 L149.22,551.49 L149.89,551.17 L150.60,551.00 L151.32,550.95 L152.02,550.99 L152.68,551.10 L153.30,551.25 L153.89,551.40 L154.46,551.54 L155.03,551.66 L155.62,551.79 L156.23,551.93 L156.87,552.12 L157.52,552.38 L158.15,552.74 L158.71,553.20 L159.19,553.77 L159.53,554.42 L159.73,555.13 L159.76,555.87 Z" fill="#ebb443" stroke="#8a7a5a" stroke-width="0.4"/>
<ellipse cx="153.30" cy="556.60" rx="2.60" ry="1.35" fill="#4a66b8"/>
<circle cx="153.30" cy="550.20" r="2.30" fill="#fff" stroke="#6c78c0" stroke-width="0.6"/>
<circle cx="159.10" cy="553.90" r="2.30" fill="#fff" stroke="#6c78c0" stroke-width="0.6"/>
<circle cx="157.41" cy="561.50" r="2.30" fill="#fff" stroke="#6c78c0" stroke-width="0.6"/>
<circle cx="148.40" cy="560.71" r="2.30" fill="#fff" stroke="#6c78c0" stroke-width="0.6"/>
<path d="M153.47,573.70 L153.82,574.75 L154.29,575.93 L154.69,577.27 L154.85,578.69 L154.63,580.07 L153.97,581.26 L152.92,582.12 L151.59,582.59 L150.15,582.70 L148.76,582.54 L147.51,582.30 L146.43,582.15 L145.46,582.23 L144.50,582.61 L143.43,583.21 L142.17,583.89 L140.74,584.45 L139.21,584.69 L137.74,584.46 L136.51,583.72 L135.68,582.52 L135.31,581.03 L135.38,579.43 L135.75,577.91 L136.22,576.60 L136.58,575.51 L136.64,574.59 L136.33,573.70 L135.71,572.71 L134.91,571.51 L134.17,570.09 L133.71,568.51 L133.72,566.93 L134.28,565.55 L135.34,564.54 L136.77,564.01 L138.38,563.96 L139.97,564.29 L141.39,564.80 L142.58,565.28 L143.58,565.54 L144.50,565.47 L145.47,565.09 L146.60,564.51 L147.92,563.93 L149.39,563.55 L150.88,563.55 L152.22,564.02 L153.26,564.94 L153.89,566.21 L154.11,567.66 L154.00,569.12 L153.72,570.47 L153.45,571.66 L153.34,572.70 Z" fill="#fcefca" stroke="#5a5a5a" stroke-width="0.6"/>
<circle cx="143.70" cy="572.50" r="3.30" fill="#4a66b8" stroke="none" stroke-width="1.0"/>
<circle cx="142.21" cy="564.03" r="2.35" fill="#fff" stroke="#6c78c0" stroke-width="0.6"/>
<circle cx="151.15" cy="568.20" r="2.35" fill="#fff" stroke="#6c78c0" stroke-width="0.6"/>
<circle cx="150.29" cy="578.03" r="2.35" fill="#fff" stroke="#6c78c0" stroke-width="0.6"/>
<circle cx="136.25" cy="576.80" r="2.35" fill="#fff" stroke="#6c78c0" stroke-width="0.6"/>
<circle cx="135.62" cy="569.56" r="2.35" fill="#fff" stroke="#6c78c0" stroke-width="0.6"/>
<path d="M175.27,572.40 L174.74,573.37 L174.48,574.31 L174.49,575.34 L174.65,576.52 L174.80,577.87 L174.76,579.30 L174.38,580.68 L173.62,581.84 L172.52,582.62 L171.19,582.96 L169.77,582.88 L168.40,582.50 L167.18,581.98 L166.10,581.50 L165.11,581.22 L164.10,581.18 L162.97,581.35 L161.67,581.59 L160.24,581.73 L158.76,581.60 L157.42,581.08 L156.37,580.16 L155.76,578.90 L155.63,577.44 L155.94,575.96 L156.53,574.58 L157.20,573.40 L157.74,572.40 L158.00,571.49 L157.92,570.53 L157.57,569.42 L157.11,568.07 L156.75,566.53 L156.70,564.90 L157.08,563.38 L157.94,562.17 L159.21,561.44 L160.74,561.27 L162.33,561.61 L163.80,562.33 L165.06,563.19 L166.10,563.97 L166.99,564.48 L167.88,564.62 L168.89,564.43 L170.12,564.05 L171.58,563.68 L173.17,563.54 L174.72,563.78 L176.03,564.48 L176.94,565.59 L177.32,566.99 L177.21,568.51 L176.70,569.98 L175.98,571.29 Z" fill="#fcefca" stroke="#5a5a5a" stroke-width="0.6"/>
<circle cx="165.30" cy="571.20" r="3.30" fill="#4a66b8" stroke="none" stroke-width="1.0"/>
<circle cx="163.81" cy="562.73" r="2.35" fill="#fff" stroke="#6c78c0" stroke-width="0.6"/>
<circle cx="172.75" cy="566.90" r="2.35" fill="#fff" stroke="#6c78c0" stroke-width="0.6"/>
<circle cx="171.89" cy="576.73" r="2.35" fill="#fff" stroke="#6c78c0" stroke-width="0.6"/>
<circle cx="157.85" cy="575.50" r="2.35" fill="#fff" stroke="#6c78c0" stroke-width="0.6"/>
<circle cx="157.22" cy="568.26" r="2.35" fill="#fff" stroke="#6c78c0" stroke-width="0.6"/>
<path d="M197.04,565.60 L197.64,566.73 L198.20,568.02 L198.52,569.42 L198.46,570.83 L197.94,572.10 L196.98,573.08 L195.69,573.69 L194.24,573.93 L192.81,573.89 L191.52,573.74 L190.42,573.66 L189.47,573.81 L188.58,574.26 L187.60,574.98 L186.45,575.83 L185.09,576.60 L183.58,577.08 L182.06,577.10 L180.71,576.57 L179.69,575.52 L179.11,574.09 L178.98,572.48 L179.18,570.89 L179.55,569.48 L179.86,568.31 L179.91,567.35 L179.61,566.50 L178.96,565.60 L178.09,564.53 L177.20,563.23 L176.54,561.73 L176.31,560.16 L176.62,558.70 L177.48,557.53 L178.77,556.77 L180.32,556.48 L181.92,556.57 L183.40,556.89 L184.67,557.23 L185.73,557.41 L186.67,557.31 L187.60,556.90 L188.65,556.27 L189.88,555.60 L191.27,555.10 L192.73,554.94 L194.11,555.25 L195.24,556.02 L196.03,557.17 L196.43,558.56 L196.51,560.00 L196.41,561.36 L196.29,562.56 L196.31,563.61 L196.56,564.59 Z" fill="#fcefca" stroke="#5a5a5a" stroke-width="0.6"/>
<circle cx="186.80" cy="564.40" r="3.30" fill="#4a66b8" stroke="none" stroke-width="1.0"/>
<circle cx="185.31" cy="555.93" r="2.35" fill="#fff" stroke="#6c78c0" stroke-width="0.6"/>
<circle cx="194.25" cy="560.10" r="2.35" fill="#fff" stroke="#6c78c0" stroke-width="0.6"/>
<circle cx="193.39" cy="569.93" r="2.35" fill="#fff" stroke="#6c78c0" stroke-width="0.6"/>
<circle cx="179.35" cy="568.70" r="2.35" fill="#fff" stroke="#6c78c0" stroke-width="0.6"/>
<circle cx="178.72" cy="561.46" r="2.35" fill="#fff" stroke="#6c78c0" stroke-width="0.6"/>
<path d="M196.34,586.40 L196.18,587.38 L196.27,588.40 L196.53,589.56 L196.79,590.88 L196.88,592.29 L196.64,593.69 L196.01,594.91 L195.00,595.80 L193.71,596.28 L192.29,596.35 L190.90,596.11 L189.63,595.71 L188.51,595.35 L187.50,595.18 L186.50,595.26 L185.41,595.57 L184.14,595.99 L182.72,596.33 L181.21,596.41 L179.77,596.09 L178.59,595.31 L177.80,594.13 L177.49,592.69 L177.64,591.15 L178.11,589.68 L178.71,588.41 L179.22,587.33 L179.46,586.40 L179.35,585.48 L178.93,584.44 L178.33,583.19 L177.77,581.72 L177.47,580.10 L177.61,578.51 L178.25,577.15 L179.37,576.20 L180.83,575.78 L182.43,575.88 L184.00,576.39 L185.38,577.11 L186.53,577.82 L187.50,578.30 L188.40,578.44 L189.36,578.23 L190.51,577.79 L191.88,577.31 L193.40,577.00 L194.96,577.05 L196.35,577.55 L197.40,578.50 L198.00,579.80 L198.11,581.29 L197.83,582.78 L197.31,584.16 L196.76,585.36 Z" fill="#fff" stroke="#5a5a5a" stroke-width="0.6"/>
<circle cx="187.20" cy="584.90" r="3.30" fill="#4a66b8" stroke="none" stroke-width="1.0"/>
<circle cx="184.33" cy="577.01" r="2.35" fill="#fff" stroke="#6c78c0" stroke-width="0.6"/>
<circle cx="193.63" cy="579.50" r="2.35" fill="#fff" stroke="#6c78c0" stroke-width="0.6"/>
<circle cx="195.09" cy="587.77" r="2.35" fill="#fff" stroke="#6c78c0" stroke-width="0.6"/>
<circle cx="183.00" cy="592.17" r="2.35" fill="#fff" stroke="#6c78c0" stroke-width="0.6"/>
<circle cx="178.93" cy="583.44" r="2.35" fill="#fff" stroke="#6c78c0" stroke-width="0.6"/>
<path d="M174.04,596.20 L173.07,597.23 L172.28,598.11 L171.78,598.96 L171.58,599.90 L171.58,601.02 L171.61,602.35 L171.50,603.80 L171.09,605.21 L170.32,606.42 L169.22,607.25 L167.89,607.60 L166.47,607.48 L165.11,606.98 L163.90,606.27 L162.85,605.56 L161.90,604.98 L160.95,604.64 L159.90,604.52 L158.68,604.50 L157.32,604.45 L155.90,604.20 L154.59,603.62 L153.56,602.70 L152.95,601.48 L152.82,600.08 L153.15,598.65 L153.79,597.34 L154.57,596.20 L155.26,595.23 L155.72,594.33 L155.88,593.39 L155.79,592.29 L155.58,590.97 L155.44,589.45 L155.57,587.87 L156.08,586.39 L157.01,585.24 L158.31,584.58 L159.81,584.50 L161.33,584.95 L162.73,585.79 L163.90,586.80 L164.85,587.74 L165.68,588.42 L166.51,588.74 L167.50,588.73 L168.73,588.51 L170.21,588.28 L171.83,588.27 L173.41,588.61 L174.74,589.39 L175.61,590.56 L175.92,591.99 L175.67,593.51 L174.98,594.95 Z" fill="#fff" stroke="#5a5a5a" stroke-width="0.6"/>
<circle cx="163.60" cy="594.70" r="3.30" fill="#4a66b8" stroke="none" stroke-width="1.0"/>
<circle cx="160.73" cy="586.81" r="2.35" fill="#fff" stroke="#6c78c0" stroke-width="0.6"/>
<circle cx="170.03" cy="589.30" r="2.35" fill="#fff" stroke="#6c78c0" stroke-width="0.6"/>
<circle cx="171.49" cy="597.57" r="2.35" fill="#fff" stroke="#6c78c0" stroke-width="0.6"/>
<circle cx="159.40" cy="601.97" r="2.35" fill="#fff" stroke="#6c78c0" stroke-width="0.6"/>
<circle cx="155.33" cy="593.24" r="2.35" fill="#fff" stroke="#6c78c0" stroke-width="0.6"/>
<line x1="198.80" y1="565.80" x2="206.88" y2="564.12" stroke="#111" stroke-width="1.1"/>
<path d="M210.80,563.30 L207.25,565.88 L206.52,562.35 Z" fill="#111" stroke="none" stroke-width="1.0"/>
<text x="197.40" y="612.70" font-size="6.8" text-anchor="middle" textLength="29.20" lengthAdjust="spacingAndGlyphs" stroke="#231f20" stroke-width="0.128">Early Niche</text>
<text x="197.70" y="620.70" font-size="6.8" text-anchor="middle" textLength="59.40" lengthAdjust="spacingAndGlyphs" stroke="#231f20" stroke-width="0.128">CD133<tspan font-size="3.6" dy="-2.2">+</tspan><tspan dy="2.2">Kit</tspan><tspan font-size="3.6" dy="-2.2">+</tspan><tspan dy="2.2">Sca1</tspan><tspan font-size="3.6" dy="-2.2">+</tspan><tspan dy="2.2"> SEPs</tspan></text>
<path d="M244.74,537.70 L244.93,538.35 L245.05,539.04 L245.08,539.76 L244.98,540.48 L244.74,541.18 L244.36,541.82 L243.86,542.36 L243.24,542.77 L242.56,543.05 L241.85,543.21 L241.14,543.25 L240.46,543.20 L239.81,543.11 L239.20,542.99 L238.62,542.87 L238.04,542.77 L237.46,542.68 L236.85,542.58 L236.21,542.45 L235.56,542.27 L234.90,542.00 L234.28,541.63 L233.72,541.14 L233.28,540.55 L232.96,539.88 L232.80,539.16 L232.80,538.42 L232.94,537.70 L233.20,537.02 L233.55,536.41 L233.94,535.86 L234.35,535.36 L234.75,534.91 L235.14,534.46 L235.51,534.01 L235.89,533.55 L236.29,533.06 L236.73,532.58 L237.24,532.11 L237.83,531.70 L238.49,531.38 L239.20,531.19 L239.94,531.15 L240.67,531.26 L241.36,531.54 L241.97,531.95 L242.49,532.46 L242.91,533.04 L243.25,533.65 L243.50,534.27 L243.72,534.86 L243.91,535.43 L244.10,535.99 L244.31,536.53 L244.53,537.10 Z" fill="#ebb443" stroke="#8a7a5a" stroke-width="0.4"/>
<ellipse cx="239.20" cy="537.70" rx="2.60" ry="1.35" fill="#4a66b8"/>
<circle cx="239.20" cy="531.30" r="2.30" fill="#fff" stroke="#6c78c0" stroke-width="0.6"/>
<circle cx="245.00" cy="535.00" r="2.30" fill="#fff" stroke="#6c78c0" stroke-width="0.6"/>
<circle cx="243.31" cy="542.60" r="2.30" fill="#fff" stroke="#6c78c0" stroke-width="0.6"/>
<circle cx="234.30" cy="541.81" r="2.30" fill="#fff" stroke="#6c78c0" stroke-width="0.6"/>
<path d="M262.85,535.40 L262.63,536.00 L262.41,536.57 L262.20,537.12 L262.00,537.67 L261.81,538.23 L261.60,538.83 L261.34,539.44 L261.01,540.05 L260.59,540.63 L260.07,541.14 L259.45,541.56 L258.77,541.83 L258.04,541.96 L257.30,541.92 L256.59,541.73 L255.93,541.41 L255.34,541.00 L254.83,540.53 L254.38,540.05 L253.98,539.56 L253.61,539.09 L253.24,538.64 L252.86,538.19 L252.46,537.73 L252.05,537.24 L251.66,536.69 L251.31,536.07 L251.05,535.40 L250.91,534.68 L250.91,533.94 L251.06,533.22 L251.37,532.55 L251.82,531.96 L252.37,531.47 L252.99,531.09 L253.65,530.82 L254.31,530.64 L254.95,530.51 L255.56,530.42 L256.14,530.33 L256.72,530.23 L257.30,530.12 L257.91,530.00 L258.55,529.91 L259.24,529.86 L259.95,529.90 L260.66,530.05 L261.34,530.33 L261.95,530.75 L262.47,531.28 L262.85,531.91 L263.09,532.61 L263.19,533.34 L263.16,534.06 L263.04,534.75 Z" fill="#ebb443" stroke="#8a7a5a" stroke-width="0.4"/>
<ellipse cx="257.30" cy="535.40" rx="2.60" ry="1.35" fill="#4a66b8"/>
<circle cx="257.30" cy="529.00" r="2.30" fill="#fff" stroke="#6c78c0" stroke-width="0.6"/>
<circle cx="263.10" cy="532.70" r="2.30" fill="#fff" stroke="#6c78c0" stroke-width="0.6"/>
<circle cx="261.41" cy="540.30" r="2.30" fill="#fff" stroke="#6c78c0" stroke-width="0.6"/>
<circle cx="252.40" cy="539.51" r="2.30" fill="#fff" stroke="#6c78c0" stroke-width="0.6"/>
<path d="M252.10,552.30 L252.14,552.89 L252.18,553.50 L252.20,554.15 L252.16,554.83 L252.05,555.53 L251.82,556.22 L251.47,556.87 L251.00,557.44 L250.42,557.89 L249.75,558.21 L249.03,558.38 L248.29,558.40 L247.58,558.30 L246.90,558.10 L246.28,557.84 L245.70,557.55 L245.16,557.26 L244.65,556.98 L244.13,556.72 L243.59,556.45 L243.03,556.17 L242.45,555.85 L241.89,555.45 L241.36,554.97 L240.90,554.40 L240.55,553.75 L240.35,553.04 L240.30,552.30 L240.41,551.57 L240.67,550.88 L241.06,550.26 L241.53,549.71 L242.05,549.26 L242.60,548.87 L243.13,548.53 L243.64,548.21 L244.14,547.90 L244.63,547.58 L245.13,547.24 L245.67,546.90 L246.25,546.57 L246.90,546.30 L247.60,546.11 L248.33,546.05 L249.06,546.12 L249.77,546.35 L250.40,546.72 L250.95,547.23 L251.37,547.83 L251.68,548.49 L251.88,549.17 L251.99,549.85 L252.04,550.50 L252.06,551.12 L252.07,551.72 Z" fill="#ebb443" stroke="#8a7a5a" stroke-width="0.4"/>
<ellipse cx="246.90" cy="552.30" rx="2.60" ry="1.35" fill="#4a66b8"/>
<circle cx="246.90" cy="545.90" r="2.30" fill="#fff" stroke="#6c78c0" stroke-width="0.6"/>
<circle cx="252.70" cy="549.60" r="2.30" fill="#fff" stroke="#6c78c0" stroke-width="0.6"/>
<circle cx="251.01" cy="557.20" r="2.30" fill="#fff" stroke="#6c78c0" stroke-width="0.6"/>
<circle cx="242.00" cy="556.41" r="2.30" fill="#fff" stroke="#6c78c0" stroke-width="0.6"/>
<path d="M234.85,559.40 L234.60,560.09 L234.26,560.72 L233.86,561.27 L233.43,561.77 L232.99,562.22 L232.57,562.65 L232.17,563.07 L231.78,563.51 L231.37,563.97 L230.92,564.43 L230.42,564.88 L229.85,565.30 L229.20,565.63 L228.50,565.85 L227.76,565.92 L227.03,565.84 L226.33,565.60 L225.70,565.22 L225.16,564.72 L224.72,564.14 L224.38,563.52 L224.12,562.89 L223.92,562.28 L223.75,561.69 L223.59,561.12 L223.42,560.56 L223.24,559.99 L223.05,559.40 L222.88,558.77 L222.76,558.09 L222.72,557.38 L222.79,556.65 L223.00,555.94 L223.35,555.29 L223.83,554.73 L224.42,554.29 L225.09,553.97 L225.80,553.80 L226.52,553.75 L227.22,553.79 L227.88,553.90 L228.50,554.05 L229.09,554.20 L229.66,554.34 L230.23,554.46 L230.82,554.59 L231.43,554.73 L232.07,554.92 L232.72,555.18 L233.35,555.54 L233.91,556.00 L234.39,556.57 L234.73,557.22 L234.93,557.93 L234.96,558.67 Z" fill="#ebb443" stroke="#8a7a5a" stroke-width="0.4"/>
<ellipse cx="228.50" cy="559.40" rx="2.60" ry="1.35" fill="#4a66b8"/>
<circle cx="228.50" cy="553.00" r="2.30" fill="#fff" stroke="#6c78c0" stroke-width="0.6"/>
<circle cx="234.30" cy="556.70" r="2.30" fill="#fff" stroke="#6c78c0" stroke-width="0.6"/>
<circle cx="232.61" cy="564.30" r="2.30" fill="#fff" stroke="#6c78c0" stroke-width="0.6"/>
<circle cx="223.60" cy="563.51" r="2.30" fill="#fff" stroke="#6c78c0" stroke-width="0.6"/>
<path d="M227.27,576.00 L227.62,577.05 L228.09,578.23 L228.49,579.57 L228.65,580.99 L228.43,582.37 L227.77,583.56 L226.72,584.42 L225.39,584.89 L223.95,585.00 L222.56,584.84 L221.31,584.60 L220.23,584.45 L219.26,584.53 L218.30,584.91 L217.23,585.51 L215.97,586.19 L214.54,586.75 L213.01,586.99 L211.54,586.76 L210.31,586.02 L209.48,584.82 L209.11,583.33 L209.18,581.73 L209.55,580.21 L210.02,578.90 L210.38,577.81 L210.44,576.89 L210.13,576.00 L209.51,575.01 L208.71,573.81 L207.97,572.39 L207.51,570.81 L207.52,569.23 L208.08,567.85 L209.14,566.84 L210.57,566.31 L212.18,566.26 L213.77,566.59 L215.19,567.10 L216.38,567.58 L217.38,567.84 L218.30,567.77 L219.27,567.39 L220.40,566.81 L221.72,566.23 L223.19,565.85 L224.68,565.85 L226.02,566.32 L227.06,567.24 L227.69,568.51 L227.91,569.96 L227.80,571.42 L227.52,572.77 L227.25,573.96 L227.14,575.00 Z" fill="#fcefca" stroke="#5a5a5a" stroke-width="0.6"/>
<circle cx="217.50" cy="574.80" r="3.30" fill="#4a66b8" stroke="none" stroke-width="1.0"/>
<circle cx="216.01" cy="566.33" r="2.35" fill="#fff" stroke="#6c78c0" stroke-width="0.6"/>
<circle cx="224.95" cy="570.50" r="2.35" fill="#fff" stroke="#6c78c0" stroke-width="0.6"/>
<circle cx="224.09" cy="580.33" r="2.35" fill="#fff" stroke="#6c78c0" stroke-width="0.6"/>
<circle cx="210.05" cy="579.10" r="2.35" fill="#fff" stroke="#6c78c0" stroke-width="0.6"/>
<circle cx="209.42" cy="571.86" r="2.35" fill="#fff" stroke="#6c78c0" stroke-width="0.6"/>
<path d="M249.57,574.10 L249.04,575.07 L248.78,576.01 L248.79,577.04 L248.95,578.22 L249.10,579.57 L249.06,581.00 L248.68,582.38 L247.92,583.54 L246.82,584.32 L245.49,584.66 L244.07,584.58 L242.70,584.20 L241.48,583.68 L240.40,583.20 L239.41,582.92 L238.40,582.88 L237.27,583.05 L235.97,583.29 L234.54,583.43 L233.06,583.30 L231.72,582.78 L230.67,581.86 L230.06,580.60 L229.93,579.14 L230.24,577.66 L230.83,576.28 L231.50,575.10 L232.04,574.10 L232.30,573.19 L232.22,572.23 L231.87,571.12 L231.41,569.77 L231.05,568.23 L231.00,566.60 L231.38,565.08 L232.24,563.87 L233.51,563.14 L235.04,562.97 L236.63,563.31 L238.10,564.03 L239.36,564.89 L240.40,565.67 L241.29,566.18 L242.18,566.32 L243.19,566.13 L244.42,565.75 L245.88,565.38 L247.47,565.24 L249.02,565.48 L250.33,566.18 L251.24,567.29 L251.62,568.69 L251.51,570.21 L251.00,571.68 L250.28,572.99 Z" fill="#fcefca" stroke="#5a5a5a" stroke-width="0.6"/>
<circle cx="239.60" cy="572.90" r="3.30" fill="#4a66b8" stroke="none" stroke-width="1.0"/>
<circle cx="238.11" cy="564.43" r="2.35" fill="#fff" stroke="#6c78c0" stroke-width="0.6"/>
<circle cx="247.05" cy="568.60" r="2.35" fill="#fff" stroke="#6c78c0" stroke-width="0.6"/>
<circle cx="246.19" cy="578.43" r="2.35" fill="#fff" stroke="#6c78c0" stroke-width="0.6"/>
<circle cx="232.15" cy="577.20" r="2.35" fill="#fff" stroke="#6c78c0" stroke-width="0.6"/>
<circle cx="231.52" cy="569.96" r="2.35" fill="#fff" stroke="#6c78c0" stroke-width="0.6"/>
<path d="M271.94,567.90 L272.54,569.03 L273.10,570.32 L273.42,571.72 L273.36,573.13 L272.84,574.40 L271.88,575.38 L270.59,575.99 L269.14,576.23 L267.71,576.19 L266.42,576.04 L265.32,575.96 L264.37,576.11 L263.48,576.56 L262.50,577.28 L261.35,578.13 L259.99,578.90 L258.48,579.38 L256.96,579.40 L255.61,578.87 L254.59,577.82 L254.01,576.39 L253.88,574.78 L254.08,573.19 L254.45,571.78 L254.76,570.61 L254.81,569.65 L254.51,568.80 L253.86,567.90 L252.99,566.83 L252.10,565.53 L251.44,564.03 L251.21,562.46 L251.52,561.00 L252.38,559.83 L253.67,559.07 L255.22,558.78 L256.82,558.87 L258.30,559.19 L259.57,559.53 L260.63,559.71 L261.57,559.61 L262.50,559.20 L263.55,558.57 L264.78,557.90 L266.17,557.40 L267.63,557.24 L269.01,557.55 L270.14,558.32 L270.93,559.47 L271.33,560.86 L271.41,562.30 L271.31,563.66 L271.19,564.86 L271.21,565.91 L271.46,566.89 Z" fill="#fcefca" stroke="#5a5a5a" stroke-width="0.6"/>
<circle cx="261.70" cy="566.70" r="3.30" fill="#4a66b8" stroke="none" stroke-width="1.0"/>
<circle cx="260.21" cy="558.23" r="2.35" fill="#fff" stroke="#6c78c0" stroke-width="0.6"/>
<circle cx="269.15" cy="562.40" r="2.35" fill="#fff" stroke="#6c78c0" stroke-width="0.6"/>
<circle cx="268.29" cy="572.23" r="2.35" fill="#fff" stroke="#6c78c0" stroke-width="0.6"/>
<circle cx="254.25" cy="571.00" r="2.35" fill="#fff" stroke="#6c78c0" stroke-width="0.6"/>
<circle cx="253.62" cy="563.76" r="2.35" fill="#fff" stroke="#6c78c0" stroke-width="0.6"/>
<path d="M270.84,588.40 L270.68,589.38 L270.77,590.40 L271.03,591.56 L271.29,592.88 L271.38,594.29 L271.14,595.69 L270.51,596.91 L269.50,597.80 L268.21,598.28 L266.79,598.35 L265.40,598.11 L264.13,597.71 L263.01,597.35 L262.00,597.18 L261.00,597.26 L259.91,597.57 L258.64,597.99 L257.22,598.33 L255.71,598.41 L254.27,598.09 L253.09,597.31 L252.30,596.13 L251.99,594.69 L252.14,593.15 L252.61,591.68 L253.21,590.41 L253.72,589.33 L253.96,588.40 L253.85,587.48 L253.43,586.44 L252.83,585.19 L252.27,583.72 L251.97,582.10 L252.11,580.51 L252.75,579.15 L253.87,578.20 L255.33,577.78 L256.93,577.88 L258.50,578.39 L259.88,579.11 L261.03,579.82 L262.00,580.30 L262.90,580.44 L263.86,580.23 L265.01,579.79 L266.38,579.31 L267.90,579.00 L269.46,579.05 L270.85,579.55 L271.90,580.50 L272.50,581.80 L272.61,583.29 L272.33,584.78 L271.81,586.16 L271.26,587.36 Z" fill="#fff" stroke="#5a5a5a" stroke-width="0.6"/>
<circle cx="261.70" cy="586.90" r="3.30" fill="#4a66b8" stroke="none" stroke-width="1.0"/>
<circle cx="258.83" cy="579.01" r="2.35" fill="#fff" stroke="#6c78c0" stroke-width="0.6"/>
<circle cx="268.13" cy="581.50" r="2.35" fill="#fff" stroke="#6c78c0" stroke-width="0.6"/>
<circle cx="269.59" cy="589.77" r="2.35" fill="#fff" stroke="#6c78c0" stroke-width="0.6"/>
<circle cx="257.50" cy="594.17" r="2.35" fill="#fff" stroke="#6c78c0" stroke-width="0.6"/>
<circle cx="253.43" cy="585.44" r="2.35" fill="#fff" stroke="#6c78c0" stroke-width="0.6"/>
<path d="M249.14,598.40 L248.17,599.43 L247.38,600.31 L246.88,601.16 L246.68,602.10 L246.68,603.22 L246.71,604.55 L246.60,606.00 L246.19,607.41 L245.42,608.62 L244.32,609.45 L242.99,609.80 L241.57,609.68 L240.21,609.18 L239.00,608.47 L237.95,607.76 L237.00,607.18 L236.05,606.84 L235.00,606.72 L233.78,606.70 L232.42,606.65 L231.00,606.40 L229.69,605.82 L228.66,604.90 L228.05,603.68 L227.92,602.28 L228.25,600.85 L228.89,599.54 L229.67,598.40 L230.36,597.43 L230.82,596.53 L230.98,595.59 L230.89,594.49 L230.68,593.17 L230.54,591.65 L230.67,590.07 L231.18,588.59 L232.11,587.44 L233.41,586.78 L234.91,586.70 L236.43,587.15 L237.83,587.99 L239.00,589.00 L239.95,589.94 L240.78,590.62 L241.61,590.94 L242.60,590.93 L243.83,590.71 L245.31,590.48 L246.93,590.47 L248.51,590.81 L249.84,591.59 L250.71,592.76 L251.02,594.19 L250.77,595.71 L250.08,597.15 Z" fill="#fff" stroke="#5a5a5a" stroke-width="0.6"/>
<circle cx="238.70" cy="596.90" r="3.30" fill="#4a66b8" stroke="none" stroke-width="1.0"/>
<circle cx="235.83" cy="589.01" r="2.35" fill="#fff" stroke="#6c78c0" stroke-width="0.6"/>
<circle cx="245.13" cy="591.50" r="2.35" fill="#fff" stroke="#6c78c0" stroke-width="0.6"/>
<circle cx="246.59" cy="599.77" r="2.35" fill="#fff" stroke="#6c78c0" stroke-width="0.6"/>
<circle cx="234.50" cy="604.17" r="2.35" fill="#fff" stroke="#6c78c0" stroke-width="0.6"/>
<circle cx="230.43" cy="595.44" r="2.35" fill="#fff" stroke="#6c78c0" stroke-width="0.6"/>
<path d="M239.50,556.70 Q246.43,555.17 244.95,548.92 Q238.57,549.67 239.50,556.70 Z" fill="#95c965" stroke="#5f9c3e" stroke-width="0.4"/>
<path d="M239.50,556.70 Q241.66,562.69 247.16,563.13 Q245.77,557.78 239.50,556.70 Z" fill="#95c965" stroke="#5f9c3e" stroke-width="0.4"/>
<path d="M239.50,556.70 Q235.66,561.89 237.68,567.04 Q241.33,562.89 239.50,556.70 Z" fill="#95c965" stroke="#5f9c3e" stroke-width="0.4"/>
<path d="M239.50,556.70 Q234.32,555.44 231.29,558.90 Q235.65,560.38 239.50,556.70 Z" fill="#95c965" stroke="#5f9c3e" stroke-width="0.4"/>
<path d="M239.50,556.70 Q239.44,552.71 236.06,551.79 Q235.77,555.28 239.50,556.70 Z" fill="#95c965" stroke="#5f9c3e" stroke-width="0.4"/>
<circle cx="239.50" cy="556.70" r="1.00" fill="#3a2a6a" stroke="none" stroke-width="1.0"/>
<path d="M247.30,585.00 Q254.39,584.70 254.02,578.28 Q247.60,577.91 247.30,585.00 Z" fill="#95c965" stroke="#5f9c3e" stroke-width="0.4"/>
<path d="M247.30,585.00 Q248.38,591.27 253.73,592.66 Q253.29,587.16 247.30,585.00 Z" fill="#95c965" stroke="#5f9c3e" stroke-width="0.4"/>
<path d="M247.30,585.00 Q242.62,589.44 243.71,594.87 Q248.03,591.41 247.30,585.00 Z" fill="#95c965" stroke="#5f9c3e" stroke-width="0.4"/>
<path d="M247.30,585.00 Q242.42,582.86 238.83,585.74 Q242.87,587.96 247.30,585.00 Z" fill="#95c965" stroke="#5f9c3e" stroke-width="0.4"/>
<path d="M247.30,585.00 Q247.94,581.06 244.76,579.56 Q243.88,582.96 247.30,585.00 Z" fill="#95c965" stroke="#5f9c3e" stroke-width="0.4"/>
<circle cx="247.30" cy="585.00" r="1.00" fill="#3a2a6a" stroke="none" stroke-width="1.0"/>
<line x1="273.30" y1="571.00" x2="281.91" y2="568.93" stroke="#111" stroke-width="1.1"/>
<path d="M285.80,568.00 L282.33,570.68 L281.49,567.18 Z" fill="#111" stroke="none" stroke-width="1.0"/>
<path d="M320.95,533.80 L321.31,534.87 L321.78,536.08 L322.20,537.44 L322.36,538.89 L322.13,540.29 L321.46,541.51 L320.39,542.39 L319.04,542.87 L317.57,542.98 L316.14,542.82 L314.87,542.57 L313.77,542.42 L312.78,542.51 L311.80,542.88 L310.71,543.50 L309.43,544.19 L307.96,544.77 L306.40,545.01 L304.90,544.78 L303.65,544.02 L302.80,542.80 L302.43,541.28 L302.50,539.65 L302.88,538.10 L303.36,536.75 L303.72,535.64 L303.78,534.70 L303.47,533.80 L302.83,532.79 L302.02,531.57 L301.26,530.11 L300.80,528.50 L300.81,526.89 L301.37,525.48 L302.46,524.46 L303.92,523.92 L305.56,523.87 L307.18,524.20 L308.62,524.72 L309.84,525.21 L310.86,525.47 L311.80,525.41 L312.79,525.02 L313.94,524.43 L315.29,523.84 L316.78,523.45 L318.30,523.45 L319.67,523.93 L320.73,524.87 L321.38,526.16 L321.61,527.64 L321.49,529.13 L321.21,530.51 L320.93,531.72 L320.81,532.78 Z" fill="#fcefca" stroke="#5a5a5a" stroke-width="0.6"/>
<circle cx="311.30" cy="532.80" r="3.30" fill="#4a66b8" stroke="none" stroke-width="1.0"/>
<path d="M340.82,527.80 L340.11,528.80 L339.67,529.73 L339.51,530.71 L339.58,531.84 L339.71,533.15 L339.72,534.60 L339.45,536.05 L338.81,537.34 L337.79,538.30 L336.50,538.81 L335.07,538.85 L333.65,538.52 L332.34,537.95 L331.20,537.36 L330.17,536.90 L329.17,536.68 L328.09,536.68 L326.85,536.83 L325.45,536.95 L323.96,536.88 L322.54,536.46 L321.36,535.65 L320.58,534.47 L320.29,533.05 L320.47,531.55 L321.02,530.12 L321.73,528.87 L322.39,527.80 L322.83,526.86 L322.94,525.91 L322.75,524.84 L322.38,523.55 L322.03,522.04 L321.91,520.39 L322.19,518.79 L322.94,517.45 L324.13,516.55 L325.62,516.21 L327.22,516.44 L328.76,517.11 L330.10,518.02 L331.20,518.93 L332.12,519.62 L332.99,519.95 L333.96,519.92 L335.14,519.63 L336.56,519.27 L338.17,519.07 L339.80,519.20 L341.25,519.78 L342.32,520.81 L342.88,522.17 L342.89,523.71 L342.42,525.24 L341.66,526.62 Z" fill="#fcefca" stroke="#5a5a5a" stroke-width="0.6"/>
<circle cx="330.70" cy="526.80" r="3.30" fill="#4a66b8" stroke="none" stroke-width="1.0"/>
<path d="M344.65,541.80 L345.16,542.91 L345.69,544.17 L346.08,545.57 L346.15,547.02 L345.77,548.38 L344.95,549.49 L343.74,550.24 L342.32,550.60 L340.84,550.62 L339.46,550.45 L338.26,550.27 L337.23,550.26 L336.28,550.53 L335.30,551.09 L334.17,551.84 L332.83,552.60 L331.33,553.15 L329.76,553.30 L328.32,552.92 L327.17,552.00 L326.45,550.65 L326.20,549.06 L326.35,547.42 L326.75,545.92 L327.16,544.65 L327.38,543.61 L327.26,542.71 L326.77,541.80 L325.99,540.75 L325.11,539.47 L324.38,537.98 L324.01,536.36 L324.17,534.81 L324.89,533.50 L326.10,532.60 L327.63,532.19 L329.28,532.22 L330.86,532.57 L332.23,533.02 L333.38,533.37 L334.36,533.45 L335.30,533.20 L336.33,532.67 L337.53,532.02 L338.92,531.45 L340.42,531.16 L341.89,531.31 L343.16,531.94 L344.09,533.01 L344.61,534.38 L344.75,535.86 L344.62,537.31 L344.40,538.61 L344.27,539.75 L344.34,540.78 Z" fill="#fcefca" stroke="#5a5a5a" stroke-width="0.6"/>
<circle cx="334.80" cy="540.80" r="3.30" fill="#4a66b8" stroke="none" stroke-width="1.0"/>
<path d="M302.52,551.70 L302.35,552.70 L302.45,553.74 L302.71,554.92 L302.98,556.26 L303.07,557.71 L302.83,559.14 L302.18,560.38 L301.15,561.29 L299.83,561.78 L298.39,561.85 L296.96,561.60 L295.67,561.20 L294.53,560.83 L293.50,560.66 L292.48,560.74 L291.36,561.06 L290.08,561.48 L288.62,561.83 L287.08,561.91 L285.62,561.58 L284.41,560.79 L283.61,559.59 L283.29,558.11 L283.44,556.54 L283.92,555.05 L284.54,553.75 L285.05,552.65 L285.30,551.70 L285.19,550.76 L284.76,549.70 L284.15,548.43 L283.58,546.92 L283.27,545.27 L283.41,543.65 L284.06,542.26 L285.21,541.30 L286.69,540.87 L288.33,540.97 L289.93,541.49 L291.34,542.23 L292.51,542.94 L293.50,543.43 L294.42,543.58 L295.40,543.37 L296.57,542.92 L297.96,542.43 L299.52,542.11 L301.11,542.16 L302.53,542.67 L303.60,543.65 L304.21,544.97 L304.33,546.49 L304.04,548.01 L303.51,549.42 L302.94,550.64 Z" fill="#fcefca" stroke="#5a5a5a" stroke-width="0.6"/>
<circle cx="293.00" cy="550.70" r="3.30" fill="#4a66b8" stroke="none" stroke-width="1.0"/>
<path d="M325.46,555.00 L324.60,556.03 L323.97,556.93 L323.64,557.85 L323.58,558.89 L323.66,560.13 L323.70,561.54 L323.52,563.02 L322.99,564.40 L322.09,565.50 L320.88,566.17 L319.48,566.37 L318.04,566.12 L316.69,565.57 L315.50,564.89 L314.45,564.29 L313.47,563.88 L312.45,563.71 L311.30,563.73 L309.97,563.80 L308.52,563.75 L307.07,563.43 L305.80,562.73 L304.88,561.67 L304.42,560.34 L304.46,558.86 L304.91,557.42 L305.62,556.11 L306.36,555.00 L306.94,554.04 L307.24,553.11 L307.22,552.10 L306.98,550.90 L306.68,549.46 L306.54,547.85 L306.73,546.23 L307.36,544.79 L308.43,543.75 L309.84,543.25 L311.41,543.32 L312.97,543.91 L314.35,544.81 L315.50,545.80 L316.44,546.63 L317.29,547.15 L318.20,547.29 L319.29,547.13 L320.64,546.82 L322.21,546.59 L323.86,546.64 L325.41,547.10 L326.62,548.01 L327.35,549.29 L327.50,550.80 L327.13,552.35 L326.38,553.77 Z" fill="#fcefca" stroke="#5a5a5a" stroke-width="0.6"/>
<circle cx="315.00" cy="554.00" r="3.30" fill="#4a66b8" stroke="none" stroke-width="1.0"/>
<path d="M306.72,574.00 L306.92,575.04 L307.30,576.19 L307.69,577.50 L307.93,578.92 L307.83,580.37 L307.32,581.67 L306.38,582.68 L305.12,583.30 L303.68,583.52 L302.23,583.40 L300.89,583.12 L299.72,582.85 L298.69,582.77 L297.70,582.96 L296.64,583.41 L295.42,584.00 L294.00,584.56 L292.46,584.88 L290.93,584.77 L289.59,584.17 L288.61,583.09 L288.10,581.66 L288.06,580.06 L288.39,578.48 L288.91,577.08 L289.38,575.90 L289.62,574.91 L289.50,574.00 L289.02,573.02 L288.31,571.86 L287.57,570.45 L287.03,568.86 L286.91,567.22 L287.32,565.72 L288.27,564.57 L289.64,563.89 L291.25,563.73 L292.89,564.02 L294.40,564.57 L295.69,565.18 L296.75,565.61 L297.70,565.73 L298.66,565.51 L299.75,565.02 L301.05,564.44 L302.52,563.98 L304.08,563.85 L305.54,564.17 L306.72,564.98 L307.51,566.18 L307.84,567.63 L307.78,569.15 L307.45,570.59 L307.06,571.86 L306.78,572.98 Z" fill="#fcefca" stroke="#5a5a5a" stroke-width="0.6"/>
<circle cx="297.20" cy="573.00" r="3.30" fill="#4a66b8" stroke="none" stroke-width="1.0"/>
<path d="M349.38,562.30 L349.40,563.31 L349.64,564.41 L349.99,565.66 L350.26,567.05 L350.27,568.50 L349.90,569.88 L349.11,571.01 L347.96,571.78 L346.57,572.12 L345.11,572.09 L343.72,571.80 L342.49,571.45 L341.40,571.21 L340.40,571.21 L339.37,571.48 L338.20,571.95 L336.84,572.46 L335.34,572.81 L333.79,572.81 L332.38,572.35 L331.28,571.42 L330.62,570.10 L330.45,568.55 L330.71,566.97 L331.23,565.51 L331.79,564.27 L332.17,563.23 L332.24,562.30 L331.94,561.35 L331.36,560.24 L330.67,558.89 L330.10,557.34 L329.87,555.68 L330.13,554.11 L330.93,552.83 L332.20,552.01 L333.76,551.73 L335.41,551.93 L336.97,552.49 L338.32,553.18 L339.44,553.77 L340.40,554.08 L341.33,554.03 L342.37,553.67 L343.61,553.14 L345.05,552.65 L346.61,552.41 L348.15,552.59 L349.46,553.24 L350.39,554.34 L350.85,555.73 L350.86,557.26 L350.54,558.75 L350.06,560.10 L349.62,561.26 Z" fill="#ebb443" stroke="#5a5a5a" stroke-width="0.6"/>
<circle cx="340.10" cy="561.80" r="3.30" fill="#4a66b8" stroke="none" stroke-width="1.0"/>
<path d="M348.85,585.00 L349.36,586.11 L349.89,587.37 L350.28,588.77 L350.35,590.22 L349.97,591.58 L349.15,592.69 L347.94,593.44 L346.52,593.80 L345.04,593.82 L343.66,593.65 L342.46,593.47 L341.43,593.46 L340.48,593.73 L339.50,594.29 L338.37,595.04 L337.03,595.80 L335.53,596.35 L333.96,596.50 L332.52,596.12 L331.37,595.20 L330.65,593.85 L330.40,592.26 L330.55,590.62 L330.95,589.12 L331.36,587.85 L331.58,586.81 L331.46,585.91 L330.97,585.00 L330.19,583.95 L329.31,582.67 L328.58,581.18 L328.21,579.56 L328.37,578.01 L329.09,576.70 L330.30,575.80 L331.83,575.39 L333.48,575.42 L335.06,575.77 L336.43,576.22 L337.58,576.57 L338.56,576.65 L339.50,576.40 L340.53,575.87 L341.73,575.22 L343.12,574.65 L344.62,574.36 L346.09,574.51 L347.36,575.14 L348.29,576.21 L348.81,577.58 L348.95,579.06 L348.82,580.51 L348.60,581.81 L348.47,582.95 L348.54,583.98 Z" fill="#ebb443" stroke="#5a5a5a" stroke-width="0.6"/>
<circle cx="339.20" cy="584.50" r="3.30" fill="#4a66b8" stroke="none" stroke-width="1.0"/>
<path d="M327.07,580.90 L326.72,581.87 L326.64,582.85 L326.79,583.94 L327.02,585.19 L327.15,586.59 L327.02,588.01 L326.52,589.32 L325.64,590.35 L324.43,590.98 L323.05,591.18 L321.64,591.00 L320.31,590.59 L319.14,590.14 L318.10,589.80 L317.11,589.70 L316.06,589.84 L314.86,590.15 L313.50,590.45 L312.02,590.58 L310.55,590.36 L309.28,589.72 L308.35,588.67 L307.89,587.31 L307.91,585.81 L308.32,584.32 L308.93,582.99 L309.54,581.87 L309.94,580.90 L310.02,579.99 L309.76,579.00 L309.28,577.81 L308.75,576.40 L308.40,574.81 L308.43,573.19 L308.94,571.74 L309.93,570.65 L311.30,570.08 L312.88,570.05 L314.46,570.49 L315.89,571.23 L317.10,572.03 L318.10,572.67 L318.99,573.00 L319.91,572.96 L320.99,572.64 L322.30,572.19 L323.80,571.83 L325.38,571.77 L326.86,572.14 L328.05,572.96 L328.80,574.18 L329.04,575.63 L328.83,577.15 L328.29,578.57 L327.64,579.83 Z" fill="#fff" stroke="#5a5a5a" stroke-width="0.6"/>
<circle cx="317.80" cy="579.40" r="3.30" fill="#4a66b8" stroke="none" stroke-width="1.0"/>
<path d="M330.17,602.30 L330.52,603.35 L330.99,604.53 L331.39,605.87 L331.55,607.29 L331.33,608.67 L330.67,609.86 L329.62,610.72 L328.29,611.19 L326.85,611.30 L325.46,611.14 L324.21,610.90 L323.13,610.75 L322.16,610.83 L321.20,611.21 L320.13,611.81 L318.87,612.49 L317.44,613.05 L315.91,613.29 L314.44,613.06 L313.21,612.32 L312.38,611.12 L312.01,609.63 L312.08,608.03 L312.45,606.51 L312.92,605.20 L313.28,604.11 L313.34,603.19 L313.03,602.30 L312.41,601.31 L311.61,600.11 L310.87,598.69 L310.41,597.11 L310.42,595.53 L310.98,594.15 L312.04,593.14 L313.47,592.61 L315.08,592.56 L316.67,592.89 L318.09,593.40 L319.28,593.88 L320.28,594.14 L321.20,594.07 L322.17,593.69 L323.30,593.11 L324.62,592.53 L326.09,592.15 L327.58,592.15 L328.92,592.62 L329.96,593.54 L330.59,594.81 L330.81,596.26 L330.70,597.72 L330.42,599.07 L330.15,600.26 L330.04,601.30 Z" fill="#fff" stroke="#5a5a5a" stroke-width="0.6"/>
<circle cx="320.90" cy="600.80" r="3.30" fill="#4a66b8" stroke="none" stroke-width="1.0"/>
<circle cx="311.30" cy="525.40" r="2.30" fill="#d8232f" stroke="#9c1a26" stroke-width="0.4"/>
<circle cx="318.59" cy="531.52" r="2.30" fill="#d8232f" stroke="#9c1a26" stroke-width="0.4"/>
<circle cx="313.22" cy="539.95" r="2.30" fill="#d8232f" stroke="#9c1a26" stroke-width="0.4"/>
<circle cx="303.93" cy="533.44" r="2.30" fill="#d8232f" stroke="#9c1a26" stroke-width="0.4"/>
<circle cx="330.70" cy="519.40" r="2.30" fill="#d8232f" stroke="#9c1a26" stroke-width="0.4"/>
<circle cx="337.99" cy="525.52" r="2.30" fill="#d8232f" stroke="#9c1a26" stroke-width="0.4"/>
<circle cx="332.62" cy="533.95" r="2.30" fill="#d8232f" stroke="#9c1a26" stroke-width="0.4"/>
<circle cx="323.33" cy="527.44" r="2.30" fill="#d8232f" stroke="#9c1a26" stroke-width="0.4"/>
<circle cx="334.80" cy="533.40" r="2.30" fill="#d8232f" stroke="#9c1a26" stroke-width="0.4"/>
<circle cx="342.09" cy="539.52" r="2.30" fill="#d8232f" stroke="#9c1a26" stroke-width="0.4"/>
<circle cx="336.72" cy="547.95" r="2.30" fill="#d8232f" stroke="#9c1a26" stroke-width="0.4"/>
<circle cx="327.43" cy="541.44" r="2.30" fill="#d8232f" stroke="#9c1a26" stroke-width="0.4"/>
<circle cx="293.00" cy="543.30" r="2.30" fill="#d8232f" stroke="#9c1a26" stroke-width="0.4"/>
<circle cx="300.29" cy="549.42" r="2.30" fill="#d8232f" stroke="#9c1a26" stroke-width="0.4"/>
<circle cx="294.92" cy="557.85" r="2.30" fill="#d8232f" stroke="#9c1a26" stroke-width="0.4"/>
<circle cx="285.63" cy="551.34" r="2.30" fill="#d8232f" stroke="#9c1a26" stroke-width="0.4"/>
<circle cx="315.00" cy="546.60" r="2.30" fill="#d8232f" stroke="#9c1a26" stroke-width="0.4"/>
<circle cx="322.29" cy="552.72" r="2.30" fill="#d8232f" stroke="#9c1a26" stroke-width="0.4"/>
<circle cx="316.92" cy="561.15" r="2.30" fill="#d8232f" stroke="#9c1a26" stroke-width="0.4"/>
<circle cx="307.63" cy="554.64" r="2.30" fill="#d8232f" stroke="#9c1a26" stroke-width="0.4"/>
<circle cx="297.20" cy="565.60" r="2.30" fill="#d8232f" stroke="#9c1a26" stroke-width="0.4"/>
<circle cx="304.49" cy="571.72" r="2.30" fill="#d8232f" stroke="#9c1a26" stroke-width="0.4"/>
<circle cx="299.12" cy="580.15" r="2.30" fill="#d8232f" stroke="#9c1a26" stroke-width="0.4"/>
<circle cx="289.83" cy="573.64" r="2.30" fill="#d8232f" stroke="#9c1a26" stroke-width="0.4"/>
<circle cx="340.10" cy="554.40" r="2.30" fill="#d8232f" stroke="#9c1a26" stroke-width="0.4"/>
<circle cx="347.39" cy="560.52" r="2.30" fill="#d8232f" stroke="#9c1a26" stroke-width="0.4"/>
<circle cx="342.02" cy="568.95" r="2.30" fill="#d8232f" stroke="#9c1a26" stroke-width="0.4"/>
<circle cx="332.73" cy="562.44" r="2.30" fill="#d8232f" stroke="#9c1a26" stroke-width="0.4"/>
<circle cx="339.20" cy="577.10" r="2.30" fill="#d8232f" stroke="#9c1a26" stroke-width="0.4"/>
<circle cx="346.49" cy="583.22" r="2.30" fill="#d8232f" stroke="#9c1a26" stroke-width="0.4"/>
<circle cx="341.12" cy="591.65" r="2.30" fill="#d8232f" stroke="#9c1a26" stroke-width="0.4"/>
<circle cx="331.83" cy="585.14" r="2.30" fill="#d8232f" stroke="#9c1a26" stroke-width="0.4"/>
<circle cx="317.80" cy="572.00" r="2.30" fill="#d8232f" stroke="#9c1a26" stroke-width="0.4"/>
<circle cx="325.09" cy="578.12" r="2.30" fill="#d8232f" stroke="#9c1a26" stroke-width="0.4"/>
<circle cx="319.72" cy="586.55" r="2.30" fill="#d8232f" stroke="#9c1a26" stroke-width="0.4"/>
<circle cx="310.43" cy="580.04" r="2.30" fill="#d8232f" stroke="#9c1a26" stroke-width="0.4"/>
<circle cx="320.90" cy="593.40" r="2.30" fill="#d8232f" stroke="#9c1a26" stroke-width="0.4"/>
<circle cx="328.19" cy="599.52" r="2.30" fill="#d8232f" stroke="#9c1a26" stroke-width="0.4"/>
<circle cx="322.82" cy="607.95" r="2.30" fill="#d8232f" stroke="#9c1a26" stroke-width="0.4"/>
<circle cx="313.53" cy="601.44" r="2.30" fill="#d8232f" stroke="#9c1a26" stroke-width="0.4"/>
<path d="M323.00,544.30 Q329.93,542.77 328.45,536.52 Q322.07,537.27 323.00,544.30 Z" fill="#95c965" stroke="#5f9c3e" stroke-width="0.4"/>
<path d="M323.00,544.30 Q325.16,550.29 330.66,550.73 Q329.27,545.38 323.00,544.30 Z" fill="#95c965" stroke="#5f9c3e" stroke-width="0.4"/>
<path d="M323.00,544.30 Q319.16,549.49 321.18,554.64 Q324.83,550.49 323.00,544.30 Z" fill="#95c965" stroke="#5f9c3e" stroke-width="0.4"/>
<path d="M323.00,544.30 Q317.82,543.04 314.79,546.50 Q319.15,547.98 323.00,544.30 Z" fill="#95c965" stroke="#5f9c3e" stroke-width="0.4"/>
<path d="M323.00,544.30 Q322.94,540.31 319.56,539.39 Q319.27,542.88 323.00,544.30 Z" fill="#95c965" stroke="#5f9c3e" stroke-width="0.4"/>
<circle cx="323.00" cy="544.30" r="1.00" fill="#3a2a6a" stroke="none" stroke-width="1.0"/>
<path d="M324.80,565.00 Q331.89,565.32 332.08,558.89 Q325.72,557.96 324.80,565.00 Z" fill="#95c965" stroke="#5f9c3e" stroke-width="0.4"/>
<path d="M324.80,565.00 Q325.33,571.34 330.54,573.19 Q330.58,567.67 324.80,565.00 Z" fill="#95c965" stroke="#5f9c3e" stroke-width="0.4"/>
<path d="M324.80,565.00 Q319.75,569.02 320.36,574.52 Q324.97,571.45 324.80,565.00 Z" fill="#95c965" stroke="#5f9c3e" stroke-width="0.4"/>
<path d="M324.80,565.00 Q320.12,562.44 316.30,565.00 Q320.12,567.56 324.80,565.00 Z" fill="#95c965" stroke="#5f9c3e" stroke-width="0.4"/>
<path d="M324.80,565.00 Q325.78,561.13 322.75,559.36 Q321.57,562.67 324.80,565.00 Z" fill="#95c965" stroke="#5f9c3e" stroke-width="0.4"/>
<circle cx="324.80" cy="565.00" r="1.00" fill="#3a2a6a" stroke="none" stroke-width="1.0"/>
<path d="M303.70,587.10 Q310.26,584.39 307.71,578.49 Q301.56,580.34 303.70,587.10 Z" fill="#95c965" stroke="#5f9c3e" stroke-width="0.4"/>
<path d="M303.70,587.10 Q306.86,592.62 312.36,592.10 Q310.06,587.08 303.70,587.10 Z" fill="#95c965" stroke="#5f9c3e" stroke-width="0.4"/>
<path d="M303.70,587.10 Q300.82,592.88 303.70,597.60 Q306.58,592.88 303.70,587.10 Z" fill="#95c965" stroke="#5f9c3e" stroke-width="0.4"/>
<path d="M303.70,587.10 Q298.38,586.76 296.00,590.69 Q300.54,591.40 303.70,587.10 Z" fill="#95c965" stroke="#5f9c3e" stroke-width="0.4"/>
<path d="M303.70,587.10 Q302.95,583.18 299.46,582.86 Q299.78,586.35 303.70,587.10 Z" fill="#95c965" stroke="#5f9c3e" stroke-width="0.4"/>
<circle cx="303.70" cy="587.10" r="1.00" fill="#3a2a6a" stroke="none" stroke-width="1.0"/>
<text x="309.50" y="621.50" font-size="6.8" text-anchor="middle" textLength="28.70" lengthAdjust="spacingAndGlyphs" stroke="#231f20" stroke-width="0.128">Late Niche</text>
<text x="309.40" y="629.20" font-size="6.8" text-anchor="middle" textLength="56.60" lengthAdjust="spacingAndGlyphs" stroke="#231f20" stroke-width="0.128">Ter119<tspan font-size="3.6" dy="-2.2">+</tspan><tspan dy="2.2"> erythroblasts</tspan></text>
<text x="394.30" y="452.10" font-size="6.2" textLength="44.30" lengthAdjust="spacingAndGlyphs" stroke="#231f20" stroke-width="0.116">Tissue resident RPM</text>
<text x="394.30" y="471.00" font-size="6.2" textLength="56.50" lengthAdjust="spacingAndGlyphs" stroke="#231f20" stroke-width="0.116">RPM phagocytosing RBCs</text>
<text x="394.30" y="491.10" font-size="6.2" textLength="22.40" lengthAdjust="spacingAndGlyphs" stroke="#231f20" stroke-width="0.116">Monocyte</text>
<text x="394.30" y="506.90" font-size="6.2" textLength="51.60" lengthAdjust="spacingAndGlyphs" stroke="#231f20" stroke-width="0.116">Monocyte early SEP EBI</text>
<text x="394.30" y="525.60" font-size="6.2" textLength="89.60" lengthAdjust="spacingAndGlyphs" stroke="#231f20" stroke-width="0.116">Monocyte derived pre-RPM early SEP EBI</text>
<text x="394.30" y="545.10" font-size="6.2" textLength="39.20" lengthAdjust="spacingAndGlyphs" stroke="#231f20" stroke-width="0.116">RPM early SEP EBI</text>
<text x="394.30" y="572.10" font-size="6.2" textLength="87.60" lengthAdjust="spacingAndGlyphs" stroke="#231f20" stroke-width="0.116">Monocyte derived pre-RPM Ter119+ EBI</text>
<text x="394.30" y="592.90" font-size="6.2" textLength="78.70" lengthAdjust="spacingAndGlyphs" stroke="#231f20" stroke-width="0.116">Monocyte derived RPM Ter119+ EBI</text>
<text x="394.30" y="610.60" font-size="6.2" textLength="71.50" lengthAdjust="spacingAndGlyphs" stroke="#231f20" stroke-width="0.116">Tissue resident RPM Ter119+ EBI</text>
<text x="394.30" y="627.70" font-size="6.2" textLength="75.20" lengthAdjust="spacingAndGlyphs" stroke="#231f20" stroke-width="0.116">Type 1 conventional Dendritic cell</text>
<path d="M389.23,450.00 L389.36,450.58 L389.76,451.27 L390.27,452.12 L390.71,453.13 L390.91,454.22 L390.75,455.22 L390.21,456.01 L389.35,456.46 L388.30,456.53 L387.22,456.28 L386.25,455.84 L385.43,455.41 L384.78,455.14 L384.20,455.15 L383.58,455.47 L382.83,456.00 L381.90,456.58 L380.81,457.03 L379.69,457.18 L378.69,456.91 L377.97,456.23 L377.64,455.23 L377.72,454.07 L378.15,452.92 L378.74,451.91 L379.30,451.12 L379.63,450.51 L379.61,450.00 L379.23,449.44 L378.56,448.71 L377.80,447.76 L377.17,446.62 L376.87,445.39 L377.01,444.27 L377.62,443.42 L378.62,443.00 L379.82,443.03 L381.06,443.47 L382.15,444.15 L383.02,444.85 L383.68,445.36 L384.20,445.54 L384.73,445.33 L385.39,444.80 L386.26,444.12 L387.33,443.50 L388.52,443.13 L389.65,443.17 L390.56,443.64 L391.10,444.50 L391.22,445.59 L390.95,446.75 L390.44,447.82 L389.86,448.71 L389.41,449.41 Z" fill="#fff" stroke="#5a5a5a" stroke-width="0.6"/>
<circle cx="384.20" cy="450.00" r="2.24" fill="#4a66b8" stroke="none" stroke-width="1.0"/>
<path d="M388.95,468.90 L389.56,469.58 L390.21,470.43 L390.72,471.42 L390.91,472.47 L390.69,473.42 L390.07,474.14 L389.14,474.54 L388.05,474.61 L386.97,474.42 L386.01,474.12 L385.25,473.89 L384.64,473.88 L384.09,474.17 L383.50,474.73 L382.76,475.46 L381.84,476.17 L380.79,476.66 L379.71,476.77 L378.77,476.42 L378.12,475.65 L377.83,474.57 L377.91,473.35 L378.26,472.19 L378.70,471.21 L379.03,470.46 L379.08,469.91 L378.77,469.43 L378.10,468.90 L377.22,468.19 L376.33,467.26 L375.66,466.16 L375.39,464.99 L375.62,463.95 L376.33,463.18 L377.42,462.82 L378.70,462.88 L379.95,463.26 L381.04,463.79 L381.88,464.27 L382.50,464.51 L382.99,464.38 L383.50,463.89 L384.15,463.13 L385.01,462.29 L386.05,461.60 L387.19,461.25 L388.24,461.35 L389.07,461.91 L389.55,462.85 L389.64,464.00 L389.42,465.18 L389.03,466.24 L388.65,467.10 L388.46,467.77 L388.56,468.33 Z" fill="#fff" stroke="#5a5a5a" stroke-width="0.6"/>
<circle cx="383.50" cy="468.90" r="2.24" fill="#4a66b8" stroke="none" stroke-width="1.0"/>
<circle cx="380.00" cy="465.40" r="1.10" fill="#d8232f" stroke="#9c1a26" stroke-width="0.3"/>
<circle cx="378.00" cy="472.40" r="1.10" fill="#d8232f" stroke="#9c1a26" stroke-width="0.3"/>
<circle cx="381.50" cy="474.40" r="1.10" fill="#d8232f" stroke="#9c1a26" stroke-width="0.3"/>
<circle cx="382.00" cy="489.00" r="4.29" fill="#ebb443" stroke="#7c7c8c" stroke-width="0.5"/>
<ellipse cx="382.00" cy="489.00" rx="1.82" ry="0.91" fill="#4a66b8"/>
<path d="M386.28,504.60 L386.42,505.10 L386.48,505.62 L386.43,506.15 L386.28,506.66 L386.02,507.13 L385.67,507.52 L385.24,507.84 L384.77,508.07 L384.27,508.21 L383.78,508.29 L383.30,508.33 L382.85,508.33 L382.42,508.33 L382.00,508.34 L381.58,508.36 L381.14,508.38 L380.68,508.38 L380.19,508.36 L379.69,508.28 L379.19,508.12 L378.72,507.88 L378.31,507.54 L377.97,507.13 L377.73,506.65 L377.60,506.14 L377.58,505.61 L377.65,505.09 L377.79,504.60 L377.98,504.15 L378.20,503.73 L378.41,503.35 L378.63,502.98 L378.83,502.61 L379.02,502.23 L379.23,501.83 L379.47,501.43 L379.75,501.02 L380.09,500.64 L380.50,500.31 L380.96,500.05 L381.47,499.89 L382.00,499.84 L382.53,499.91 L383.03,500.09 L383.48,500.36 L383.88,500.70 L384.21,501.08 L384.49,501.48 L384.73,501.87 L384.95,502.25 L385.17,502.61 L385.39,502.97 L385.62,503.33 L385.86,503.72 L386.09,504.14 Z" fill="#ebb443" stroke="#8a7a5a" stroke-width="0.4"/>
<ellipse cx="382.00" cy="504.60" rx="1.87" ry="0.97" fill="#4a66b8"/>
<circle cx="382.00" cy="499.99" r="1.66" fill="#fff" stroke="#6c78c0" stroke-width="0.6"/>
<circle cx="386.18" cy="502.65" r="1.66" fill="#fff" stroke="#6c78c0" stroke-width="0.6"/>
<circle cx="384.96" cy="508.13" r="1.66" fill="#fff" stroke="#6c78c0" stroke-width="0.6"/>
<circle cx="378.47" cy="507.56" r="1.66" fill="#fff" stroke="#6c78c0" stroke-width="0.6"/>
<path d="M388.88,524.32 L389.10,524.99 L389.40,525.74 L389.66,526.60 L389.76,527.50 L389.62,528.39 L389.20,529.15 L388.53,529.70 L387.68,530.00 L386.76,530.07 L385.87,529.97 L385.07,529.81 L384.38,529.72 L383.76,529.77 L383.14,530.01 L382.46,530.39 L381.66,530.83 L380.74,531.19 L379.76,531.34 L378.82,531.19 L378.04,530.72 L377.50,529.96 L377.27,529.00 L377.31,527.98 L377.55,527.01 L377.85,526.17 L378.08,525.47 L378.12,524.88 L377.92,524.32 L377.52,523.68 L377.02,522.92 L376.54,522.01 L376.25,521.00 L376.26,519.99 L376.61,519.10 L377.29,518.46 L378.20,518.12 L379.23,518.09 L380.25,518.30 L381.15,518.63 L381.92,518.93 L382.56,519.10 L383.14,519.06 L383.76,518.81 L384.48,518.44 L385.33,518.07 L386.27,517.83 L387.22,517.83 L388.08,518.13 L388.74,518.72 L389.15,519.53 L389.29,520.45 L389.22,521.39 L389.04,522.25 L388.86,523.01 L388.79,523.68 Z" fill="#fcefca" stroke="#5a5a5a" stroke-width="0.6"/>
<circle cx="382.60" cy="523.50" r="2.24" fill="#4a66b8" stroke="none" stroke-width="1.0"/>
<circle cx="381.58" cy="517.74" r="1.60" fill="#fff" stroke="#6c78c0" stroke-width="0.6"/>
<circle cx="387.66" cy="520.58" r="1.60" fill="#fff" stroke="#6c78c0" stroke-width="0.6"/>
<circle cx="387.08" cy="527.26" r="1.60" fill="#fff" stroke="#6c78c0" stroke-width="0.6"/>
<circle cx="377.54" cy="526.42" r="1.60" fill="#fff" stroke="#6c78c0" stroke-width="0.6"/>
<circle cx="377.10" cy="521.50" r="1.60" fill="#fff" stroke="#6c78c0" stroke-width="0.6"/>
<path d="M388.28,543.82 L388.17,544.46 L388.23,545.13 L388.40,545.88 L388.57,546.74 L388.63,547.67 L388.47,548.58 L388.06,549.38 L387.40,549.96 L386.56,550.27 L385.63,550.32 L384.72,550.16 L383.89,549.90 L383.16,549.67 L382.50,549.55 L381.85,549.60 L381.14,549.81 L380.31,550.08 L379.38,550.30 L378.40,550.35 L377.46,550.14 L376.69,549.64 L376.17,548.87 L375.97,547.92 L376.07,546.92 L376.38,545.96 L376.77,545.13 L377.10,544.43 L377.26,543.82 L377.19,543.22 L376.91,542.54 L376.52,541.73 L376.15,540.76 L375.96,539.71 L376.05,538.67 L376.47,537.78 L377.20,537.16 L378.15,536.89 L379.20,536.95 L380.22,537.29 L381.12,537.76 L381.87,538.22 L382.50,538.53 L383.09,538.62 L383.72,538.49 L384.47,538.20 L385.36,537.89 L386.36,537.69 L387.37,537.72 L388.28,538.04 L388.97,538.67 L389.36,539.51 L389.43,540.48 L389.25,541.46 L388.91,542.36 L388.55,543.14 Z" fill="#fff" stroke="#5a5a5a" stroke-width="0.6"/>
<circle cx="382.30" cy="542.80" r="2.24" fill="#4a66b8" stroke="none" stroke-width="1.0"/>
<circle cx="380.35" cy="537.43" r="1.60" fill="#fff" stroke="#6c78c0" stroke-width="0.6"/>
<circle cx="386.68" cy="539.13" r="1.60" fill="#fff" stroke="#6c78c0" stroke-width="0.6"/>
<circle cx="387.67" cy="544.75" r="1.60" fill="#fff" stroke="#6c78c0" stroke-width="0.6"/>
<circle cx="379.44" cy="547.75" r="1.60" fill="#fff" stroke="#6c78c0" stroke-width="0.6"/>
<circle cx="376.67" cy="541.81" r="1.60" fill="#fff" stroke="#6c78c0" stroke-width="0.6"/>
<path d="M388.79,570.68 L389.03,571.37 L389.33,572.14 L389.59,573.01 L389.70,573.93 L389.55,574.84 L389.13,575.61 L388.44,576.18 L387.57,576.49 L386.63,576.55 L385.72,576.45 L384.90,576.29 L384.20,576.20 L383.57,576.25 L382.94,576.49 L382.24,576.89 L381.42,577.33 L380.48,577.70 L379.49,577.85 L378.53,577.70 L377.73,577.22 L377.18,576.44 L376.94,575.46 L376.99,574.42 L377.23,573.43 L377.54,572.57 L377.77,571.86 L377.81,571.26 L377.61,570.68 L377.20,570.03 L376.68,569.25 L376.20,568.32 L375.90,567.29 L375.90,566.26 L376.27,565.36 L376.96,564.70 L377.90,564.35 L378.95,564.32 L379.98,564.54 L380.91,564.87 L381.69,565.18 L382.34,565.35 L382.94,565.31 L383.57,565.06 L384.31,564.68 L385.17,564.30 L386.13,564.06 L387.10,564.05 L387.98,564.36 L388.66,564.96 L389.07,565.79 L389.22,566.74 L389.14,567.69 L388.96,568.57 L388.78,569.35 L388.71,570.03 Z" fill="#fcefca" stroke="#5a5a5a" stroke-width="0.6"/>
<circle cx="382.60" cy="570.00" r="2.24" fill="#4a66b8" stroke="none" stroke-width="1.0"/>
<circle cx="382.60" cy="564.97" r="1.56" fill="#d8232f" stroke="#9c1a26" stroke-width="0.4"/>
<circle cx="387.56" cy="569.13" r="1.56" fill="#d8232f" stroke="#9c1a26" stroke-width="0.4"/>
<circle cx="383.90" cy="574.86" r="1.56" fill="#d8232f" stroke="#9c1a26" stroke-width="0.4"/>
<circle cx="377.59" cy="570.44" r="1.56" fill="#d8232f" stroke="#9c1a26" stroke-width="0.4"/>
<path d="M388.25,591.14 L388.26,591.79 L388.42,592.49 L388.64,593.29 L388.81,594.18 L388.82,595.11 L388.58,595.99 L388.08,596.71 L387.34,597.20 L386.45,597.42 L385.52,597.40 L384.63,597.22 L383.84,597.00 L383.15,596.84 L382.50,596.84 L381.84,597.02 L381.09,597.32 L380.23,597.64 L379.26,597.87 L378.28,597.87 L377.37,597.58 L376.67,596.98 L376.25,596.13 L376.14,595.14 L376.30,594.13 L376.63,593.19 L376.99,592.40 L377.24,591.73 L377.28,591.14 L377.09,590.53 L376.72,589.82 L376.28,588.96 L375.91,587.96 L375.76,586.91 L375.93,585.90 L376.45,585.08 L377.25,584.56 L378.25,584.37 L379.31,584.51 L380.31,584.86 L381.17,585.30 L381.89,585.68 L382.50,585.88 L383.10,585.85 L383.76,585.62 L384.56,585.28 L385.48,584.96 L386.48,584.81 L387.46,584.92 L388.30,585.34 L388.89,586.04 L389.19,586.94 L389.20,587.92 L388.99,588.87 L388.69,589.73 L388.41,590.48 Z" fill="#ebb443" stroke="#5a5a5a" stroke-width="0.6"/>
<circle cx="382.30" cy="590.80" r="2.24" fill="#4a66b8" stroke="none" stroke-width="1.0"/>
<circle cx="382.30" cy="585.77" r="1.56" fill="#d8232f" stroke="#9c1a26" stroke-width="0.4"/>
<circle cx="387.26" cy="589.93" r="1.56" fill="#d8232f" stroke="#9c1a26" stroke-width="0.4"/>
<circle cx="383.60" cy="595.66" r="1.56" fill="#d8232f" stroke="#9c1a26" stroke-width="0.4"/>
<circle cx="377.29" cy="591.24" r="1.56" fill="#d8232f" stroke="#9c1a26" stroke-width="0.4"/>
<path d="M387.06,609.52 L386.83,610.15 L386.78,610.79 L386.87,611.50 L387.02,612.32 L387.11,613.23 L387.03,614.16 L386.70,615.02 L386.12,615.69 L385.34,616.10 L384.44,616.23 L383.51,616.12 L382.65,615.85 L381.88,615.55 L381.20,615.33 L380.56,615.26 L379.87,615.36 L379.09,615.56 L378.20,615.76 L377.23,615.84 L376.28,615.70 L375.44,615.28 L374.84,614.59 L374.54,613.71 L374.55,612.72 L374.82,611.75 L375.22,610.89 L375.61,610.15 L375.88,609.52 L375.93,608.93 L375.76,608.28 L375.44,607.50 L375.10,606.58 L374.87,605.54 L374.89,604.49 L375.22,603.54 L375.87,602.83 L376.77,602.46 L377.79,602.44 L378.83,602.73 L379.76,603.21 L380.55,603.73 L381.20,604.15 L381.79,604.36 L382.39,604.34 L383.09,604.13 L383.94,603.83 L384.92,603.60 L385.96,603.56 L386.92,603.80 L387.70,604.34 L388.19,605.13 L388.35,606.08 L388.21,607.07 L387.86,608.00 L387.43,608.82 Z" fill="#fff" stroke="#5a5a5a" stroke-width="0.6"/>
<circle cx="381.00" cy="608.50" r="2.24" fill="#4a66b8" stroke="none" stroke-width="1.0"/>
<circle cx="381.00" cy="603.47" r="1.56" fill="#d8232f" stroke="#9c1a26" stroke-width="0.4"/>
<circle cx="385.96" cy="607.63" r="1.56" fill="#d8232f" stroke="#9c1a26" stroke-width="0.4"/>
<circle cx="382.30" cy="613.36" r="1.56" fill="#d8232f" stroke="#9c1a26" stroke-width="0.4"/>
<circle cx="375.99" cy="608.94" r="1.56" fill="#d8232f" stroke="#9c1a26" stroke-width="0.4"/>
<path d="M381.00,626.20 Q386.54,624.98 385.36,619.97 Q380.25,620.57 381.00,626.20 Z" fill="#95c965" stroke="#5f9c3e" stroke-width="0.4"/>
<path d="M381.00,626.20 Q382.73,630.99 387.13,631.34 Q386.02,627.07 381.00,626.20 Z" fill="#95c965" stroke="#5f9c3e" stroke-width="0.4"/>
<path d="M381.00,626.20 Q377.93,630.35 379.54,634.47 Q382.47,631.15 381.00,626.20 Z" fill="#95c965" stroke="#5f9c3e" stroke-width="0.4"/>
<path d="M381.00,626.20 Q376.86,625.19 374.43,627.96 Q377.92,629.15 381.00,626.20 Z" fill="#95c965" stroke="#5f9c3e" stroke-width="0.4"/>
<path d="M381.00,626.20 Q380.95,623.01 378.25,622.27 Q378.02,625.07 381.00,626.20 Z" fill="#95c965" stroke="#5f9c3e" stroke-width="0.4"/>
<circle cx="381.00" cy="626.20" r="0.80" fill="#3a2a6a" stroke="none" stroke-width="1.0"/>
<rect x="0.6" y="0.6" width="518.8" height="639.6" fill="none" stroke="#1a1a1a" stroke-width="1.3"/>
</svg>
</body></html>
